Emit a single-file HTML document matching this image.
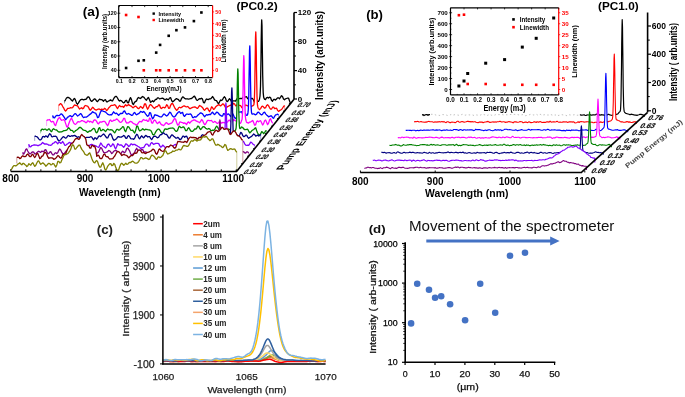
<!DOCTYPE html>
<html><head><meta charset="utf-8"><title>Figure</title>
<style>svg{will-change:transform;}html,body{margin:0;padding:0;background:#fff;width:685px;height:397px;overflow:hidden;position:relative;font-family:"Liberation Sans", sans-serif;}</style>
</head><body>
<svg width="685" height="397" viewBox="0 0 685 397" style="position:absolute;left:0;top:0">
<g font-family='"Liberation Sans", sans-serif'>
<rect width="685" height="397" fill="#fff"/>
<polygon points="64.5,103.4 64.5,101.3 65.5,99.8 66.5,98.0 67.5,97.4 68.5,97.5 69.5,98.1 70.5,98.9 71.5,100.3 72.5,101.1 73.5,99.3 74.5,98.4 75.5,100.1 76.5,103.1 77.5,104.2 78.5,102.9 79.5,101.1 80.5,99.8 81.5,99.3 82.5,99.4 83.5,99.9 84.5,99.5 85.5,99.3 86.5,98.8 87.5,97.1 88.5,96.8 89.5,97.9 90.5,100.2 91.5,101.3 92.5,100.8 93.5,99.7 94.5,98.8 95.5,99.4 96.5,100.9 97.5,101.6 98.5,100.4 99.5,99.2 100.5,99.7 101.5,99.7 102.5,100.2 103.5,101.2 104.5,100.0 105.5,99.7 106.5,101.8 107.5,101.8 108.5,101.0 109.5,100.6 110.5,99.9 111.5,100.6 112.5,101.0 113.5,99.0 114.5,97.3 115.5,96.5 116.5,96.5 117.5,98.0 118.5,100.0 119.5,101.0 120.5,100.4 121.5,100.8 122.5,101.9 123.5,102.8 124.5,102.4 125.5,100.7 126.5,100.3 127.5,102.7 128.5,102.8 129.5,99.6 130.5,97.6 131.5,99.6 132.5,103.7 133.5,104.5 134.5,102.3 135.5,101.6 136.5,100.9 137.5,98.4 138.5,97.4 139.5,98.2 140.5,98.5 141.5,97.5 142.5,96.5 143.5,97.0 144.5,98.0 145.5,99.5 146.5,100.2 147.5,98.2 148.5,97.4 149.5,99.7 150.5,102.3 151.5,101.7 152.5,100.8 153.5,101.7 154.5,100.7 155.5,99.5 156.5,99.4 157.5,97.9 158.5,97.9 159.5,98.9 160.5,98.7 161.5,98.3 162.5,98.1 163.5,98.5 164.5,99.9 165.5,99.8 166.5,98.8 167.5,99.4 168.5,99.8 169.5,98.0 170.5,97.6 171.5,100.1 172.5,101.9 173.5,101.2 174.5,100.3 175.5,99.3 176.5,98.6 177.5,99.2 178.5,99.7 179.5,101.1 180.5,101.0 181.5,98.6 182.5,97.0 183.5,97.2 184.5,98.2 185.5,98.9 186.5,98.9 187.5,98.8 188.5,99.1 189.5,98.9 190.5,98.6 191.5,98.5 192.5,97.8 193.5,96.6 194.5,96.1 195.5,97.9 196.5,100.0 197.5,100.4 198.5,99.4 199.5,98.7 200.5,98.9 201.5,98.2 202.5,99.1 203.5,102.6 204.5,102.8 205.5,100.3 206.5,99.0 207.5,99.3 208.5,99.5 209.5,98.9 210.5,98.9 211.5,98.1 212.5,96.5 213.5,97.8 214.5,99.9 215.5,100.4 216.5,100.6 217.5,102.3 218.5,103.9 219.5,102.0 220.5,100.0 221.5,100.5 222.5,99.7 223.5,97.7 224.5,96.8 225.5,98.2 226.5,101.1 227.5,101.5 228.5,100.1 229.5,98.7 230.5,99.7 231.5,101.8 232.5,101.2 233.5,100.9 234.5,100.9 235.5,101.1 236.5,99.6 237.5,98.2 238.5,98.7 239.5,98.7 240.5,98.3 241.5,98.7 242.5,98.2 243.5,96.8 244.5,96.8 245.5,97.0 246.5,96.7 247.5,98.4 248.5,99.1 249.5,99.3 250.5,99.0 251.5,98.4 252.5,98.5 253.5,100.0 254.5,102.4 255.5,102.5 256.5,100.9 257.5,101.1 257.7,101.1 258.0,101.2 258.2,101.3 258.5,101.4 258.7,101.0 259.0,100.5 259.2,100.0 259.5,99.2 259.7,98.0 260.0,96.1 260.2,92.7 260.5,86.3 260.7,75.2 261.0,59.1 261.2,40.7 261.5,25.5 261.7,19.8 262.0,25.6 262.2,40.7 262.5,59.1 262.7,75.2 263.0,86.3 263.2,92.6 263.5,95.8 263.7,97.3 264.0,98.1 264.2,98.7 264.5,99.2 264.7,99.4 265.0,99.4 265.2,99.5 265.5,99.6 265.7,99.2 266.5,97.9 267.5,97.3 268.5,98.1 269.5,97.2 270.5,97.6 271.5,100.3 272.5,101.3 273.5,99.5 274.5,99.4 275.5,100.0 276.5,99.1 277.5,97.8 278.5,97.8 279.5,98.7 280.5,97.3 281.5,95.7 282.5,96.6 283.5,99.0 284.5,99.8 285.5,98.8 286.5,98.5 287.5,98.2 288.5,98.1 289.5,100.8 290.5,103.5 290.5,103.4" fill="#fff" stroke="none"/>
<polyline points="64.5,101.3 65.5,99.8 66.5,98.0 67.5,97.4 68.5,97.5 69.5,98.1 70.5,98.9 71.5,100.3 72.5,101.1 73.5,99.3 74.5,98.4 75.5,100.1 76.5,103.1 77.5,104.2 78.5,102.9 79.5,101.1 80.5,99.8 81.5,99.3 82.5,99.4 83.5,99.9 84.5,99.5 85.5,99.3 86.5,98.8 87.5,97.1 88.5,96.8 89.5,97.9 90.5,100.2 91.5,101.3 92.5,100.8 93.5,99.7 94.5,98.8 95.5,99.4 96.5,100.9 97.5,101.6 98.5,100.4 99.5,99.2 100.5,99.7 101.5,99.7 102.5,100.2 103.5,101.2 104.5,100.0 105.5,99.7 106.5,101.8 107.5,101.8 108.5,101.0 109.5,100.6 110.5,99.9 111.5,100.6 112.5,101.0 113.5,99.0 114.5,97.3 115.5,96.5 116.5,96.5 117.5,98.0 118.5,100.0 119.5,101.0 120.5,100.4 121.5,100.8 122.5,101.9 123.5,102.8 124.5,102.4 125.5,100.7 126.5,100.3 127.5,102.7 128.5,102.8 129.5,99.6 130.5,97.6 131.5,99.6 132.5,103.7 133.5,104.5 134.5,102.3 135.5,101.6 136.5,100.9 137.5,98.4 138.5,97.4 139.5,98.2 140.5,98.5 141.5,97.5 142.5,96.5 143.5,97.0 144.5,98.0 145.5,99.5 146.5,100.2 147.5,98.2 148.5,97.4 149.5,99.7 150.5,102.3 151.5,101.7 152.5,100.8 153.5,101.7 154.5,100.7 155.5,99.5 156.5,99.4 157.5,97.9 158.5,97.9 159.5,98.9 160.5,98.7 161.5,98.3 162.5,98.1 163.5,98.5 164.5,99.9 165.5,99.8 166.5,98.8 167.5,99.4 168.5,99.8 169.5,98.0 170.5,97.6 171.5,100.1 172.5,101.9 173.5,101.2 174.5,100.3 175.5,99.3 176.5,98.6 177.5,99.2 178.5,99.7 179.5,101.1 180.5,101.0 181.5,98.6 182.5,97.0 183.5,97.2 184.5,98.2 185.5,98.9 186.5,98.9 187.5,98.8 188.5,99.1 189.5,98.9 190.5,98.6 191.5,98.5 192.5,97.8 193.5,96.6 194.5,96.1 195.5,97.9 196.5,100.0 197.5,100.4 198.5,99.4 199.5,98.7 200.5,98.9 201.5,98.2 202.5,99.1 203.5,102.6 204.5,102.8 205.5,100.3 206.5,99.0 207.5,99.3 208.5,99.5 209.5,98.9 210.5,98.9 211.5,98.1 212.5,96.5 213.5,97.8 214.5,99.9 215.5,100.4 216.5,100.6 217.5,102.3 218.5,103.9 219.5,102.0 220.5,100.0 221.5,100.5 222.5,99.7 223.5,97.7 224.5,96.8 225.5,98.2 226.5,101.1 227.5,101.5 228.5,100.1 229.5,98.7 230.5,99.7 231.5,101.8 232.5,101.2 233.5,100.9 234.5,100.9 235.5,101.1 236.5,99.6 237.5,98.2 238.5,98.7 239.5,98.7 240.5,98.3 241.5,98.7 242.5,98.2 243.5,96.8 244.5,96.8 245.5,97.0 246.5,96.7 247.5,98.4 248.5,99.1 249.5,99.3 250.5,99.0 251.5,98.4 252.5,98.5 253.5,100.0 254.5,102.4 255.5,102.5 256.5,100.9 257.5,101.1 257.7,101.1 258.0,101.2 258.2,101.3 258.5,101.4 258.7,101.0 259.0,100.5 259.2,100.0 259.5,99.2 259.7,98.0 260.0,96.1 260.2,92.7 260.5,86.3 260.7,75.2 261.0,59.1 261.2,40.7 261.5,25.5 261.7,19.8 262.0,25.6 262.2,40.7 262.5,59.1 262.7,75.2 263.0,86.3 263.2,92.6 263.5,95.8 263.7,97.3 264.0,98.1 264.2,98.7 264.5,99.2 264.7,99.4 265.0,99.4 265.2,99.5 265.5,99.6 265.7,99.2 266.5,97.9 267.5,97.3 268.5,98.1 269.5,97.2 270.5,97.6 271.5,100.3 272.5,101.3 273.5,99.5 274.5,99.4 275.5,100.0 276.5,99.1 277.5,97.8 278.5,97.8 279.5,98.7 280.5,97.3 281.5,95.7 282.5,96.6 283.5,99.0 284.5,99.8 285.5,98.8 286.5,98.5 287.5,98.2 288.5,98.1 289.5,100.8 290.5,103.5" fill="none" stroke="#000000" stroke-width="1.3" stroke-linejoin="round"/>
<path d="M64.5,103.4V101.3M290.5,103.4V103.5" stroke="#000000" stroke-width="0.7" stroke-opacity="0.55" fill="none"/>
<polygon points="58.6,110.9 58.6,105.4 59.6,104.5 60.6,103.6 61.6,104.4 62.6,106.3 63.6,107.8 64.6,110.0 65.6,111.0 66.6,110.0 67.6,108.3 68.6,108.3 69.6,108.1 70.6,107.7 71.6,107.8 72.6,107.6 73.6,106.1 74.6,104.8 75.6,105.4 76.6,105.6 77.6,105.9 78.6,107.6 79.6,109.0 80.6,108.3 81.6,107.7 82.6,108.8 83.6,108.1 84.6,106.0 85.6,105.5 86.6,105.9 87.6,106.2 88.6,107.5 89.6,109.6 90.6,110.2 91.6,108.7 92.6,107.3 93.6,108.1 94.6,109.3 95.6,109.9 96.6,110.0 97.6,109.3 98.6,109.0 99.6,109.2 100.6,109.9 101.6,109.1 102.6,109.3 103.6,109.5 104.6,108.3 105.6,109.0 106.6,110.6 107.6,109.7 108.6,108.0 109.6,107.0 110.6,105.9 111.6,105.3 112.6,105.4 113.6,105.2 114.6,104.7 115.6,105.4 116.6,107.3 117.6,108.5 118.6,106.6 119.6,105.5 120.6,106.6 121.6,106.7 122.6,106.3 123.6,107.4 124.6,106.0 125.6,104.7 126.6,105.9 127.6,105.4 128.6,104.5 129.6,105.4 130.6,105.8 131.6,106.3 132.6,107.6 133.6,107.5 134.6,106.4 135.6,106.1 136.6,106.9 137.6,108.1 138.6,108.7 139.6,107.7 140.6,106.5 141.6,107.2 142.6,108.3 143.6,106.8 144.6,103.8 145.6,104.0 146.6,107.0 147.6,109.2 148.6,107.6 149.6,105.3 150.6,104.5 151.6,105.4 152.6,106.6 153.6,107.8 154.6,108.4 155.6,107.1 156.6,106.6 157.6,106.5 158.6,104.9 159.6,105.2 160.6,107.9 161.6,108.5 162.6,107.4 163.6,107.3 164.6,107.9 165.6,107.0 166.6,104.8 167.6,105.6 168.6,108.4 169.6,108.2 170.6,105.3 171.6,103.6 172.6,103.6 173.6,105.4 174.6,107.6 175.6,109.0 176.6,110.3 177.6,109.6 178.6,107.8 179.6,107.2 180.6,107.8 181.6,107.4 182.6,106.5 183.6,106.0 184.6,106.0 185.6,106.6 186.6,106.8 187.6,106.5 188.6,107.3 189.6,108.5 190.6,108.5 191.6,107.8 192.6,107.3 193.6,107.1 194.6,107.0 195.6,107.2 196.6,108.1 197.6,108.4 198.6,106.8 199.6,105.5 200.6,106.0 201.6,106.8 202.6,107.7 203.6,109.4 204.6,110.2 205.6,109.1 206.6,108.2 207.6,108.1 208.6,110.1 209.6,111.6 210.6,109.4 211.6,106.8 212.6,107.8 213.6,109.4 214.6,108.7 215.6,106.9 216.6,106.0 217.6,105.4 218.6,104.7 219.6,105.2 220.6,105.9 221.6,105.1 222.6,104.0 223.6,104.2 224.6,105.8 225.6,107.7 226.6,107.5 227.6,106.6 228.6,106.2 229.6,105.5 230.6,105.1 231.6,105.3 232.6,104.8 233.6,103.3 234.6,104.0 235.6,105.8 236.6,105.3 237.6,104.1 238.6,105.0 239.6,105.3 240.6,105.6 241.6,107.2 242.6,108.3 243.6,107.4 244.6,105.9 245.6,105.0 246.6,105.3 247.6,105.8 248.6,105.6 249.6,105.6 250.6,106.1 251.6,106.3 251.8,106.2 252.0,106.1 252.3,105.9 252.5,105.8 252.8,105.7 253.0,105.6 253.3,105.4 253.5,105.2 253.8,104.9 254.0,104.0 254.3,101.4 254.5,95.7 254.8,85.3 255.0,70.0 255.3,52.3 255.5,37.7 255.8,31.9 256.0,37.7 256.3,52.4 256.5,70.0 256.8,85.5 257.0,96.1 257.3,102.1 257.5,105.2 257.8,106.7 258.0,107.5 258.3,108.2 258.5,108.6 258.8,108.9 259.0,109.1 259.3,109.3 259.5,109.6 259.8,109.4 260.6,108.6 261.6,106.7 262.6,106.2 263.6,107.1 264.6,108.2 265.6,107.7 266.6,105.5 267.6,104.8 268.6,105.9 269.6,107.8 270.6,109.1 271.6,109.0 272.6,107.2 273.6,107.1 274.6,108.7 275.6,108.3 276.6,108.2 277.6,110.4 278.6,111.4 279.6,110.6 280.6,110.0 281.6,109.5 282.6,108.0 283.6,106.5 284.6,105.6 284.6,110.9" fill="#fff" stroke="none"/>
<polyline points="58.6,105.4 59.6,104.5 60.6,103.6 61.6,104.4 62.6,106.3 63.6,107.8 64.6,110.0 65.6,111.0 66.6,110.0 67.6,108.3 68.6,108.3 69.6,108.1 70.6,107.7 71.6,107.8 72.6,107.6 73.6,106.1 74.6,104.8 75.6,105.4 76.6,105.6 77.6,105.9 78.6,107.6 79.6,109.0 80.6,108.3 81.6,107.7 82.6,108.8 83.6,108.1 84.6,106.0 85.6,105.5 86.6,105.9 87.6,106.2 88.6,107.5 89.6,109.6 90.6,110.2 91.6,108.7 92.6,107.3 93.6,108.1 94.6,109.3 95.6,109.9 96.6,110.0 97.6,109.3 98.6,109.0 99.6,109.2 100.6,109.9 101.6,109.1 102.6,109.3 103.6,109.5 104.6,108.3 105.6,109.0 106.6,110.6 107.6,109.7 108.6,108.0 109.6,107.0 110.6,105.9 111.6,105.3 112.6,105.4 113.6,105.2 114.6,104.7 115.6,105.4 116.6,107.3 117.6,108.5 118.6,106.6 119.6,105.5 120.6,106.6 121.6,106.7 122.6,106.3 123.6,107.4 124.6,106.0 125.6,104.7 126.6,105.9 127.6,105.4 128.6,104.5 129.6,105.4 130.6,105.8 131.6,106.3 132.6,107.6 133.6,107.5 134.6,106.4 135.6,106.1 136.6,106.9 137.6,108.1 138.6,108.7 139.6,107.7 140.6,106.5 141.6,107.2 142.6,108.3 143.6,106.8 144.6,103.8 145.6,104.0 146.6,107.0 147.6,109.2 148.6,107.6 149.6,105.3 150.6,104.5 151.6,105.4 152.6,106.6 153.6,107.8 154.6,108.4 155.6,107.1 156.6,106.6 157.6,106.5 158.6,104.9 159.6,105.2 160.6,107.9 161.6,108.5 162.6,107.4 163.6,107.3 164.6,107.9 165.6,107.0 166.6,104.8 167.6,105.6 168.6,108.4 169.6,108.2 170.6,105.3 171.6,103.6 172.6,103.6 173.6,105.4 174.6,107.6 175.6,109.0 176.6,110.3 177.6,109.6 178.6,107.8 179.6,107.2 180.6,107.8 181.6,107.4 182.6,106.5 183.6,106.0 184.6,106.0 185.6,106.6 186.6,106.8 187.6,106.5 188.6,107.3 189.6,108.5 190.6,108.5 191.6,107.8 192.6,107.3 193.6,107.1 194.6,107.0 195.6,107.2 196.6,108.1 197.6,108.4 198.6,106.8 199.6,105.5 200.6,106.0 201.6,106.8 202.6,107.7 203.6,109.4 204.6,110.2 205.6,109.1 206.6,108.2 207.6,108.1 208.6,110.1 209.6,111.6 210.6,109.4 211.6,106.8 212.6,107.8 213.6,109.4 214.6,108.7 215.6,106.9 216.6,106.0 217.6,105.4 218.6,104.7 219.6,105.2 220.6,105.9 221.6,105.1 222.6,104.0 223.6,104.2 224.6,105.8 225.6,107.7 226.6,107.5 227.6,106.6 228.6,106.2 229.6,105.5 230.6,105.1 231.6,105.3 232.6,104.8 233.6,103.3 234.6,104.0 235.6,105.8 236.6,105.3 237.6,104.1 238.6,105.0 239.6,105.3 240.6,105.6 241.6,107.2 242.6,108.3 243.6,107.4 244.6,105.9 245.6,105.0 246.6,105.3 247.6,105.8 248.6,105.6 249.6,105.6 250.6,106.1 251.6,106.3 251.8,106.2 252.0,106.1 252.3,105.9 252.5,105.8 252.8,105.7 253.0,105.6 253.3,105.4 253.5,105.2 253.8,104.9 254.0,104.0 254.3,101.4 254.5,95.7 254.8,85.3 255.0,70.0 255.3,52.3 255.5,37.7 255.8,31.9 256.0,37.7 256.3,52.4 256.5,70.0 256.8,85.5 257.0,96.1 257.3,102.1 257.5,105.2 257.8,106.7 258.0,107.5 258.3,108.2 258.5,108.6 258.8,108.9 259.0,109.1 259.3,109.3 259.5,109.6 259.8,109.4 260.6,108.6 261.6,106.7 262.6,106.2 263.6,107.1 264.6,108.2 265.6,107.7 266.6,105.5 267.6,104.8 268.6,105.9 269.6,107.8 270.6,109.1 271.6,109.0 272.6,107.2 273.6,107.1 274.6,108.7 275.6,108.3 276.6,108.2 277.6,110.4 278.6,111.4 279.6,110.6 280.6,110.0 281.6,109.5 282.6,108.0 283.6,106.5 284.6,105.6" fill="none" stroke="#ff0000" stroke-width="1.3" stroke-linejoin="round"/>
<path d="M58.6,110.9V105.4M284.6,110.9V105.6" stroke="#ff0000" stroke-width="0.7" stroke-opacity="0.55" fill="none"/>
<polygon points="52.6,118.4 52.6,115.5 53.6,117.6 54.6,117.8 55.6,116.2 56.6,115.5 57.6,115.5 58.6,115.6 59.6,115.3 60.6,114.1 61.6,113.9 62.6,115.0 63.6,116.3 64.6,117.9 65.6,119.7 66.6,118.6 67.6,117.1 68.6,116.8 69.6,115.8 70.6,115.7 71.6,116.8 72.6,116.3 73.6,115.1 74.6,113.9 75.6,113.7 76.6,114.9 77.6,116.0 78.6,115.5 79.6,114.4 80.6,113.6 81.6,114.5 82.6,116.6 83.6,117.6 84.6,117.2 85.6,117.2 86.6,117.1 87.6,116.3 88.6,115.5 89.6,114.6 90.6,113.9 91.6,113.0 92.6,111.7 93.6,112.4 94.6,112.8 95.6,113.1 96.6,114.9 97.6,117.7 98.6,117.2 99.6,114.5 100.6,111.8 101.6,110.4 102.6,111.0 103.6,111.4 104.6,111.6 105.6,112.1 106.6,113.1 107.6,114.1 108.6,114.7 109.6,115.0 110.6,114.6 111.6,114.8 112.6,113.3 113.6,111.8 114.6,113.0 115.6,113.6 116.6,113.1 117.6,114.3 118.6,115.3 119.6,114.4 120.6,113.3 121.6,113.5 122.6,113.4 123.6,111.3 124.6,110.9 125.6,112.9 126.6,114.2 127.6,114.0 128.6,113.5 129.6,114.1 130.6,114.6 131.6,115.4 132.6,115.2 133.6,113.2 134.6,112.4 135.6,113.9 136.6,114.8 137.6,114.1 138.6,113.7 139.6,112.8 140.6,111.4 141.6,111.8 142.6,112.4 143.6,111.5 144.6,112.3 145.6,113.8 146.6,115.2 147.6,116.3 148.6,115.7 149.6,112.7 150.6,112.8 151.6,116.5 152.6,118.8 153.6,117.5 154.6,115.0 155.6,114.8 156.6,115.3 157.6,115.5 158.6,116.1 159.6,116.6 160.6,116.8 161.6,116.9 162.6,115.7 163.6,114.2 164.6,114.1 165.6,115.3 166.6,116.0 167.6,115.4 168.6,114.0 169.6,112.2 170.6,112.6 171.6,114.5 172.6,116.1 173.6,116.9 174.6,116.9 175.6,115.8 176.6,114.2 177.6,113.0 178.6,111.8 179.6,111.7 180.6,113.5 181.6,112.9 182.6,112.4 183.6,115.5 184.6,116.4 185.6,115.0 186.6,114.1 187.6,114.1 188.6,114.4 189.6,114.2 190.6,114.0 191.6,115.2 192.6,117.5 193.6,117.6 194.6,116.7 195.6,117.1 196.6,116.6 197.6,115.3 198.6,114.6 199.6,113.6 200.6,112.9 201.6,113.2 202.6,113.9 203.6,115.5 204.6,116.7 205.6,115.6 206.6,114.7 207.6,115.1 208.6,114.7 209.6,114.4 210.6,114.5 211.6,112.9 212.6,112.1 213.6,113.8 214.6,114.5 215.6,113.5 216.6,112.2 217.6,112.4 218.6,113.5 219.6,114.9 220.6,115.4 221.6,116.1 222.6,116.0 223.6,113.6 224.6,113.8 225.6,115.7 226.6,115.0 227.6,114.1 228.6,114.0 229.6,115.1 230.6,116.4 231.6,115.0 232.6,113.6 233.6,115.4 234.6,117.7 235.6,118.5 236.6,117.2 237.6,114.0 238.6,111.8 239.6,112.1 240.6,112.0 241.6,111.7 242.6,114.0 243.6,115.1 244.6,114.0 245.6,113.9 245.8,114.2 246.0,114.6 246.3,114.9 246.5,115.3 246.8,115.3 247.0,115.2 247.3,115.1 247.5,114.7 247.8,113.8 248.0,112.4 248.3,109.5 248.5,104.0 248.8,94.4 249.0,80.5 249.3,64.4 249.5,51.0 249.8,45.8 250.0,51.1 250.3,64.5 250.5,80.8 250.8,94.9 251.0,104.5 251.3,109.9 251.5,112.5 251.8,113.5 252.0,113.9 252.3,114.1 252.5,114.0 252.8,114.0 253.0,113.9 253.3,113.9 253.5,113.8 253.8,113.9 254.6,114.3 255.6,114.8 256.6,114.1 257.6,112.4 258.6,112.1 259.6,113.3 260.6,114.2 261.6,114.9 262.6,114.2 263.6,112.5 264.6,112.2 265.6,113.9 266.6,114.9 267.6,115.8 268.6,116.8 269.6,116.4 270.6,115.8 271.6,116.0 272.6,117.7 273.6,118.3 274.6,116.3 275.6,114.9 276.6,114.6 277.6,114.2 278.6,114.9 278.6,118.4" fill="#fff" stroke="none"/>
<polyline points="52.6,115.5 53.6,117.6 54.6,117.8 55.6,116.2 56.6,115.5 57.6,115.5 58.6,115.6 59.6,115.3 60.6,114.1 61.6,113.9 62.6,115.0 63.6,116.3 64.6,117.9 65.6,119.7 66.6,118.6 67.6,117.1 68.6,116.8 69.6,115.8 70.6,115.7 71.6,116.8 72.6,116.3 73.6,115.1 74.6,113.9 75.6,113.7 76.6,114.9 77.6,116.0 78.6,115.5 79.6,114.4 80.6,113.6 81.6,114.5 82.6,116.6 83.6,117.6 84.6,117.2 85.6,117.2 86.6,117.1 87.6,116.3 88.6,115.5 89.6,114.6 90.6,113.9 91.6,113.0 92.6,111.7 93.6,112.4 94.6,112.8 95.6,113.1 96.6,114.9 97.6,117.7 98.6,117.2 99.6,114.5 100.6,111.8 101.6,110.4 102.6,111.0 103.6,111.4 104.6,111.6 105.6,112.1 106.6,113.1 107.6,114.1 108.6,114.7 109.6,115.0 110.6,114.6 111.6,114.8 112.6,113.3 113.6,111.8 114.6,113.0 115.6,113.6 116.6,113.1 117.6,114.3 118.6,115.3 119.6,114.4 120.6,113.3 121.6,113.5 122.6,113.4 123.6,111.3 124.6,110.9 125.6,112.9 126.6,114.2 127.6,114.0 128.6,113.5 129.6,114.1 130.6,114.6 131.6,115.4 132.6,115.2 133.6,113.2 134.6,112.4 135.6,113.9 136.6,114.8 137.6,114.1 138.6,113.7 139.6,112.8 140.6,111.4 141.6,111.8 142.6,112.4 143.6,111.5 144.6,112.3 145.6,113.8 146.6,115.2 147.6,116.3 148.6,115.7 149.6,112.7 150.6,112.8 151.6,116.5 152.6,118.8 153.6,117.5 154.6,115.0 155.6,114.8 156.6,115.3 157.6,115.5 158.6,116.1 159.6,116.6 160.6,116.8 161.6,116.9 162.6,115.7 163.6,114.2 164.6,114.1 165.6,115.3 166.6,116.0 167.6,115.4 168.6,114.0 169.6,112.2 170.6,112.6 171.6,114.5 172.6,116.1 173.6,116.9 174.6,116.9 175.6,115.8 176.6,114.2 177.6,113.0 178.6,111.8 179.6,111.7 180.6,113.5 181.6,112.9 182.6,112.4 183.6,115.5 184.6,116.4 185.6,115.0 186.6,114.1 187.6,114.1 188.6,114.4 189.6,114.2 190.6,114.0 191.6,115.2 192.6,117.5 193.6,117.6 194.6,116.7 195.6,117.1 196.6,116.6 197.6,115.3 198.6,114.6 199.6,113.6 200.6,112.9 201.6,113.2 202.6,113.9 203.6,115.5 204.6,116.7 205.6,115.6 206.6,114.7 207.6,115.1 208.6,114.7 209.6,114.4 210.6,114.5 211.6,112.9 212.6,112.1 213.6,113.8 214.6,114.5 215.6,113.5 216.6,112.2 217.6,112.4 218.6,113.5 219.6,114.9 220.6,115.4 221.6,116.1 222.6,116.0 223.6,113.6 224.6,113.8 225.6,115.7 226.6,115.0 227.6,114.1 228.6,114.0 229.6,115.1 230.6,116.4 231.6,115.0 232.6,113.6 233.6,115.4 234.6,117.7 235.6,118.5 236.6,117.2 237.6,114.0 238.6,111.8 239.6,112.1 240.6,112.0 241.6,111.7 242.6,114.0 243.6,115.1 244.6,114.0 245.6,113.9 245.8,114.2 246.0,114.6 246.3,114.9 246.5,115.3 246.8,115.3 247.0,115.2 247.3,115.1 247.5,114.7 247.8,113.8 248.0,112.4 248.3,109.5 248.5,104.0 248.8,94.4 249.0,80.5 249.3,64.4 249.5,51.0 249.8,45.8 250.0,51.1 250.3,64.5 250.5,80.8 250.8,94.9 251.0,104.5 251.3,109.9 251.5,112.5 251.8,113.5 252.0,113.9 252.3,114.1 252.5,114.0 252.8,114.0 253.0,113.9 253.3,113.9 253.5,113.8 253.8,113.9 254.6,114.3 255.6,114.8 256.6,114.1 257.6,112.4 258.6,112.1 259.6,113.3 260.6,114.2 261.6,114.9 262.6,114.2 263.6,112.5 264.6,112.2 265.6,113.9 266.6,114.9 267.6,115.8 268.6,116.8 269.6,116.4 270.6,115.8 271.6,116.0 272.6,117.7 273.6,118.3 274.6,116.3 275.6,114.9 276.6,114.6 277.6,114.2 278.6,114.9" fill="none" stroke="#0000ff" stroke-width="1.3" stroke-linejoin="round"/>
<path d="M52.6,118.4V115.5M278.6,118.4V114.9" stroke="#0000ff" stroke-width="0.7" stroke-opacity="0.55" fill="none"/>
<polygon points="46.6,125.9 46.6,120.9 47.6,119.8 48.6,119.8 49.6,119.5 50.6,121.2 51.6,122.0 52.6,121.4 53.6,121.9 54.6,124.8 55.6,125.6 56.6,122.5 57.6,119.9 58.6,118.2 59.6,117.4 60.6,119.2 61.6,120.3 62.6,120.0 63.6,119.6 64.6,120.4 65.6,123.4 66.6,126.4 67.6,127.2 68.6,124.2 69.6,121.5 70.6,119.2 71.6,118.3 72.6,120.5 73.6,122.8 74.6,124.0 75.6,124.4 76.6,123.4 77.6,121.9 78.6,121.7 79.6,122.0 80.6,121.5 81.6,120.6 82.6,120.7 83.6,121.3 84.6,121.5 85.6,122.6 86.6,122.6 87.6,120.8 88.6,121.1 89.6,122.0 90.6,121.3 91.6,122.0 92.6,122.6 93.6,120.6 94.6,119.8 95.6,120.2 96.6,121.4 97.6,123.3 98.6,123.8 99.6,122.1 100.6,121.8 101.6,122.1 102.6,121.7 103.6,121.3 104.6,121.4 105.6,122.5 106.6,124.4 107.6,125.7 108.6,123.9 109.6,120.8 110.6,120.0 111.6,121.3 112.6,121.2 113.6,120.1 114.6,120.4 115.6,119.7 116.6,118.9 117.6,119.6 118.6,120.6 119.6,122.0 120.6,122.3 121.6,121.9 122.6,120.7 123.6,118.5 124.6,118.3 125.6,121.4 126.6,123.0 127.6,122.9 128.6,122.9 129.6,121.8 130.6,121.3 131.6,121.8 132.6,122.8 133.6,123.7 134.6,123.8 135.6,124.8 136.6,125.0 137.6,124.1 138.6,122.7 139.6,121.3 140.6,121.6 141.6,121.9 142.6,120.3 143.6,119.4 144.6,120.2 145.6,120.3 146.6,120.0 147.6,121.4 148.6,121.2 149.6,118.0 150.6,118.7 151.6,122.8 152.6,123.1 153.6,121.0 154.6,119.9 155.6,120.7 156.6,122.7 157.6,123.6 158.6,122.3 159.6,121.8 160.6,123.8 161.6,124.8 162.6,125.0 163.6,125.6 164.6,124.6 165.6,123.1 166.6,122.7 167.6,123.8 168.6,124.4 169.6,123.8 170.6,123.3 171.6,123.2 172.6,121.9 173.6,119.9 174.6,118.5 175.6,119.3 176.6,122.5 177.6,125.0 178.6,124.9 179.6,122.2 180.6,122.0 181.6,122.4 182.6,122.6 183.6,123.4 184.6,122.9 185.6,123.6 186.6,124.5 187.6,122.6 188.6,121.9 189.6,123.2 190.6,122.1 191.6,121.0 192.6,120.6 193.6,120.0 194.6,119.8 195.6,120.6 196.6,121.1 197.6,121.6 198.6,122.0 199.6,122.7 200.6,121.4 201.6,119.5 202.6,120.4 203.6,122.9 204.6,124.6 205.6,124.1 206.6,121.9 207.6,120.3 208.6,120.3 209.6,120.7 210.6,120.6 211.6,120.5 212.6,122.0 213.6,122.4 214.6,121.4 215.6,121.8 216.6,123.0 217.6,123.4 218.6,122.5 219.6,121.5 220.6,122.2 221.6,123.2 222.6,122.5 223.6,122.5 224.6,122.9 225.6,122.2 226.6,122.3 227.6,121.9 228.6,120.3 229.6,120.1 230.6,121.7 231.6,122.3 232.6,121.3 233.6,119.7 234.6,120.2 235.6,120.9 236.6,121.1 237.6,119.7 238.6,120.2 239.6,123.6 239.8,123.5 240.1,123.4 240.3,123.3 240.6,123.1 240.8,122.6 241.1,122.0 241.3,121.3 241.6,120.6 241.8,120.0 242.1,119.0 242.3,116.6 242.6,111.5 242.8,102.3 243.1,88.8 243.3,73.4 243.6,60.6 243.8,55.7 244.1,60.5 244.3,73.1 244.6,88.2 244.8,101.5 245.1,110.7 245.3,115.9 245.6,118.5 245.8,119.8 246.1,120.7 246.3,121.5 246.6,122.2 246.8,122.4 247.1,122.6 247.3,122.7 247.6,122.7 247.8,122.8 248.6,123.0 249.6,122.1 250.6,122.0 251.6,121.2 252.6,120.4 253.6,122.4 254.6,125.2 255.6,124.8 256.6,121.6 257.6,120.9 258.6,121.8 259.6,121.0 260.6,120.7 261.6,122.7 262.6,125.0 263.6,123.6 264.6,120.7 265.6,120.0 266.6,122.2 267.6,124.7 268.6,123.1 269.6,119.7 270.6,118.8 271.6,121.6 272.6,122.9 272.6,125.9" fill="#fff" stroke="none"/>
<polyline points="46.6,120.9 47.6,119.8 48.6,119.8 49.6,119.5 50.6,121.2 51.6,122.0 52.6,121.4 53.6,121.9 54.6,124.8 55.6,125.6 56.6,122.5 57.6,119.9 58.6,118.2 59.6,117.4 60.6,119.2 61.6,120.3 62.6,120.0 63.6,119.6 64.6,120.4 65.6,123.4 66.6,126.4 67.6,127.2 68.6,124.2 69.6,121.5 70.6,119.2 71.6,118.3 72.6,120.5 73.6,122.8 74.6,124.0 75.6,124.4 76.6,123.4 77.6,121.9 78.6,121.7 79.6,122.0 80.6,121.5 81.6,120.6 82.6,120.7 83.6,121.3 84.6,121.5 85.6,122.6 86.6,122.6 87.6,120.8 88.6,121.1 89.6,122.0 90.6,121.3 91.6,122.0 92.6,122.6 93.6,120.6 94.6,119.8 95.6,120.2 96.6,121.4 97.6,123.3 98.6,123.8 99.6,122.1 100.6,121.8 101.6,122.1 102.6,121.7 103.6,121.3 104.6,121.4 105.6,122.5 106.6,124.4 107.6,125.7 108.6,123.9 109.6,120.8 110.6,120.0 111.6,121.3 112.6,121.2 113.6,120.1 114.6,120.4 115.6,119.7 116.6,118.9 117.6,119.6 118.6,120.6 119.6,122.0 120.6,122.3 121.6,121.9 122.6,120.7 123.6,118.5 124.6,118.3 125.6,121.4 126.6,123.0 127.6,122.9 128.6,122.9 129.6,121.8 130.6,121.3 131.6,121.8 132.6,122.8 133.6,123.7 134.6,123.8 135.6,124.8 136.6,125.0 137.6,124.1 138.6,122.7 139.6,121.3 140.6,121.6 141.6,121.9 142.6,120.3 143.6,119.4 144.6,120.2 145.6,120.3 146.6,120.0 147.6,121.4 148.6,121.2 149.6,118.0 150.6,118.7 151.6,122.8 152.6,123.1 153.6,121.0 154.6,119.9 155.6,120.7 156.6,122.7 157.6,123.6 158.6,122.3 159.6,121.8 160.6,123.8 161.6,124.8 162.6,125.0 163.6,125.6 164.6,124.6 165.6,123.1 166.6,122.7 167.6,123.8 168.6,124.4 169.6,123.8 170.6,123.3 171.6,123.2 172.6,121.9 173.6,119.9 174.6,118.5 175.6,119.3 176.6,122.5 177.6,125.0 178.6,124.9 179.6,122.2 180.6,122.0 181.6,122.4 182.6,122.6 183.6,123.4 184.6,122.9 185.6,123.6 186.6,124.5 187.6,122.6 188.6,121.9 189.6,123.2 190.6,122.1 191.6,121.0 192.6,120.6 193.6,120.0 194.6,119.8 195.6,120.6 196.6,121.1 197.6,121.6 198.6,122.0 199.6,122.7 200.6,121.4 201.6,119.5 202.6,120.4 203.6,122.9 204.6,124.6 205.6,124.1 206.6,121.9 207.6,120.3 208.6,120.3 209.6,120.7 210.6,120.6 211.6,120.5 212.6,122.0 213.6,122.4 214.6,121.4 215.6,121.8 216.6,123.0 217.6,123.4 218.6,122.5 219.6,121.5 220.6,122.2 221.6,123.2 222.6,122.5 223.6,122.5 224.6,122.9 225.6,122.2 226.6,122.3 227.6,121.9 228.6,120.3 229.6,120.1 230.6,121.7 231.6,122.3 232.6,121.3 233.6,119.7 234.6,120.2 235.6,120.9 236.6,121.1 237.6,119.7 238.6,120.2 239.6,123.6 239.8,123.5 240.1,123.4 240.3,123.3 240.6,123.1 240.8,122.6 241.1,122.0 241.3,121.3 241.6,120.6 241.8,120.0 242.1,119.0 242.3,116.6 242.6,111.5 242.8,102.3 243.1,88.8 243.3,73.4 243.6,60.6 243.8,55.7 244.1,60.5 244.3,73.1 244.6,88.2 244.8,101.5 245.1,110.7 245.3,115.9 245.6,118.5 245.8,119.8 246.1,120.7 246.3,121.5 246.6,122.2 246.8,122.4 247.1,122.6 247.3,122.7 247.6,122.7 247.8,122.8 248.6,123.0 249.6,122.1 250.6,122.0 251.6,121.2 252.6,120.4 253.6,122.4 254.6,125.2 255.6,124.8 256.6,121.6 257.6,120.9 258.6,121.8 259.6,121.0 260.6,120.7 261.6,122.7 262.6,125.0 263.6,123.6 264.6,120.7 265.6,120.0 266.6,122.2 267.6,124.7 268.6,123.1 269.6,119.7 270.6,118.8 271.6,121.6 272.6,122.9" fill="none" stroke="#ff00ff" stroke-width="1.3" stroke-linejoin="round"/>
<path d="M46.6,125.9V120.9M272.6,125.9V122.9" stroke="#ff00ff" stroke-width="0.7" stroke-opacity="0.55" fill="none"/>
<polygon points="40.6,133.4 40.6,131.4 41.6,129.4 42.6,129.1 43.6,129.8 44.6,129.2 45.6,129.1 46.6,130.2 47.6,130.0 48.6,128.9 49.6,129.2 50.6,131.0 51.6,131.6 52.6,129.5 53.6,128.7 54.6,129.5 55.6,129.9 56.6,130.0 57.6,131.0 58.6,131.9 59.6,132.0 60.6,131.8 61.6,131.8 62.6,131.4 63.6,130.7 64.7,130.7 65.7,130.4 66.7,130.2 67.7,128.9 68.7,127.8 69.7,128.9 70.7,130.3 71.7,130.3 72.7,130.9 73.7,132.3 74.7,131.7 75.7,130.5 76.7,130.1 77.7,129.3 78.7,128.1 79.7,127.4 80.7,127.5 81.7,128.4 82.7,129.6 83.7,130.1 84.7,130.4 85.7,130.7 86.7,131.5 87.7,132.4 88.7,131.6 89.7,130.9 90.7,131.0 91.7,130.1 92.7,129.0 93.7,128.4 94.7,129.0 95.7,131.9 96.7,132.8 97.7,131.5 98.7,128.2 99.7,127.6 100.7,130.7 101.7,130.7 102.7,129.4 103.7,129.6 104.7,130.7 105.7,131.5 106.7,129.9 107.7,129.0 108.7,129.6 109.7,130.0 110.7,129.6 111.7,129.9 112.7,130.4 113.7,131.9 114.7,132.9 115.7,131.2 116.7,129.3 117.7,129.3 118.7,130.2 119.7,129.8 120.7,128.7 121.7,127.9 122.7,126.6 123.7,127.1 124.7,130.5 125.7,131.7 126.7,128.9 127.7,126.6 128.7,126.8 129.7,128.3 130.7,130.2 131.7,130.4 132.7,130.1 133.7,131.8 134.7,133.0 135.7,130.3 136.7,126.2 137.7,126.1 138.7,129.3 139.7,130.8 140.7,130.4 141.7,129.7 142.7,128.7 143.7,129.6 144.7,130.1 145.7,129.2 146.7,129.5 147.7,129.7 148.7,129.8 149.7,130.0 150.7,130.3 151.7,132.1 152.7,134.4 153.7,135.0 154.7,133.8 155.7,131.9 156.7,130.4 157.7,129.3 158.7,129.0 159.7,129.8 160.7,131.4 161.7,132.8 162.7,133.1 163.7,131.2 164.7,129.1 165.7,128.8 166.7,129.4 167.7,129.2 168.7,128.5 169.7,128.4 170.7,128.1 171.7,128.1 172.7,128.0 173.7,128.3 174.7,129.8 175.7,131.1 176.7,131.4 177.7,130.0 178.7,127.1 179.7,126.3 180.7,127.6 181.7,127.7 182.7,127.0 183.7,127.0 184.7,128.4 185.7,130.7 186.7,130.7 187.7,128.7 188.7,127.7 189.7,129.1 190.7,130.9 191.7,131.4 192.7,131.4 193.7,130.3 194.7,128.9 195.7,129.2 196.7,128.2 197.7,126.1 198.7,126.4 199.7,128.5 200.7,129.5 201.7,128.3 202.7,126.8 203.7,126.7 204.7,127.2 205.7,128.2 206.7,128.9 207.7,129.1 208.7,128.5 209.7,128.8 210.7,130.5 211.7,130.6 212.7,130.1 213.7,130.4 214.7,129.6 215.7,127.4 216.7,126.1 217.7,127.3 218.7,129.4 219.7,129.9 220.7,128.3 221.7,128.6 222.7,130.3 223.7,131.3 224.7,131.4 225.7,131.2 226.7,130.1 227.7,129.1 228.7,129.2 229.7,129.7 230.7,129.6 231.7,129.1 232.7,130.7 233.7,132.0 233.8,131.8 234.1,131.6 234.3,131.3 234.6,131.1 234.8,130.9 235.1,130.7 235.3,130.4 235.6,130.0 235.8,129.3 236.1,128.2 236.3,125.8 236.6,121.0 236.8,112.3 237.1,99.8 237.3,85.5 237.6,73.6 237.8,68.9 238.1,73.6 238.3,85.4 238.6,99.6 238.8,112.0 239.1,120.4 239.3,125.2 239.6,127.6 239.8,128.4 240.1,128.6 240.3,128.5 240.6,128.3 240.8,128.0 241.1,127.7 241.3,127.3 241.6,127.0 241.8,127.0 242.7,127.5 243.7,128.9 244.7,129.6 245.7,129.7 246.7,129.3 247.7,129.2 248.7,131.1 249.7,132.9 250.7,132.1 251.7,130.8 252.7,130.0 253.7,129.7 254.7,128.4 255.7,127.8 256.6,130.5 257.6,133.0 258.6,134.5 259.6,135.3 260.6,133.9 261.6,131.7 262.6,132.1 263.6,133.6 264.6,132.7 265.6,130.9 266.6,130.7 266.6,133.4" fill="#fff" stroke="none"/>
<polyline points="40.6,131.4 41.6,129.4 42.6,129.1 43.6,129.8 44.6,129.2 45.6,129.1 46.6,130.2 47.6,130.0 48.6,128.9 49.6,129.2 50.6,131.0 51.6,131.6 52.6,129.5 53.6,128.7 54.6,129.5 55.6,129.9 56.6,130.0 57.6,131.0 58.6,131.9 59.6,132.0 60.6,131.8 61.6,131.8 62.6,131.4 63.6,130.7 64.7,130.7 65.7,130.4 66.7,130.2 67.7,128.9 68.7,127.8 69.7,128.9 70.7,130.3 71.7,130.3 72.7,130.9 73.7,132.3 74.7,131.7 75.7,130.5 76.7,130.1 77.7,129.3 78.7,128.1 79.7,127.4 80.7,127.5 81.7,128.4 82.7,129.6 83.7,130.1 84.7,130.4 85.7,130.7 86.7,131.5 87.7,132.4 88.7,131.6 89.7,130.9 90.7,131.0 91.7,130.1 92.7,129.0 93.7,128.4 94.7,129.0 95.7,131.9 96.7,132.8 97.7,131.5 98.7,128.2 99.7,127.6 100.7,130.7 101.7,130.7 102.7,129.4 103.7,129.6 104.7,130.7 105.7,131.5 106.7,129.9 107.7,129.0 108.7,129.6 109.7,130.0 110.7,129.6 111.7,129.9 112.7,130.4 113.7,131.9 114.7,132.9 115.7,131.2 116.7,129.3 117.7,129.3 118.7,130.2 119.7,129.8 120.7,128.7 121.7,127.9 122.7,126.6 123.7,127.1 124.7,130.5 125.7,131.7 126.7,128.9 127.7,126.6 128.7,126.8 129.7,128.3 130.7,130.2 131.7,130.4 132.7,130.1 133.7,131.8 134.7,133.0 135.7,130.3 136.7,126.2 137.7,126.1 138.7,129.3 139.7,130.8 140.7,130.4 141.7,129.7 142.7,128.7 143.7,129.6 144.7,130.1 145.7,129.2 146.7,129.5 147.7,129.7 148.7,129.8 149.7,130.0 150.7,130.3 151.7,132.1 152.7,134.4 153.7,135.0 154.7,133.8 155.7,131.9 156.7,130.4 157.7,129.3 158.7,129.0 159.7,129.8 160.7,131.4 161.7,132.8 162.7,133.1 163.7,131.2 164.7,129.1 165.7,128.8 166.7,129.4 167.7,129.2 168.7,128.5 169.7,128.4 170.7,128.1 171.7,128.1 172.7,128.0 173.7,128.3 174.7,129.8 175.7,131.1 176.7,131.4 177.7,130.0 178.7,127.1 179.7,126.3 180.7,127.6 181.7,127.7 182.7,127.0 183.7,127.0 184.7,128.4 185.7,130.7 186.7,130.7 187.7,128.7 188.7,127.7 189.7,129.1 190.7,130.9 191.7,131.4 192.7,131.4 193.7,130.3 194.7,128.9 195.7,129.2 196.7,128.2 197.7,126.1 198.7,126.4 199.7,128.5 200.7,129.5 201.7,128.3 202.7,126.8 203.7,126.7 204.7,127.2 205.7,128.2 206.7,128.9 207.7,129.1 208.7,128.5 209.7,128.8 210.7,130.5 211.7,130.6 212.7,130.1 213.7,130.4 214.7,129.6 215.7,127.4 216.7,126.1 217.7,127.3 218.7,129.4 219.7,129.9 220.7,128.3 221.7,128.6 222.7,130.3 223.7,131.3 224.7,131.4 225.7,131.2 226.7,130.1 227.7,129.1 228.7,129.2 229.7,129.7 230.7,129.6 231.7,129.1 232.7,130.7 233.7,132.0 233.8,131.8 234.1,131.6 234.3,131.3 234.6,131.1 234.8,130.9 235.1,130.7 235.3,130.4 235.6,130.0 235.8,129.3 236.1,128.2 236.3,125.8 236.6,121.0 236.8,112.3 237.1,99.8 237.3,85.5 237.6,73.6 237.8,68.9 238.1,73.6 238.3,85.4 238.6,99.6 238.8,112.0 239.1,120.4 239.3,125.2 239.6,127.6 239.8,128.4 240.1,128.6 240.3,128.5 240.6,128.3 240.8,128.0 241.1,127.7 241.3,127.3 241.6,127.0 241.8,127.0 242.7,127.5 243.7,128.9 244.7,129.6 245.7,129.7 246.7,129.3 247.7,129.2 248.7,131.1 249.7,132.9 250.7,132.1 251.7,130.8 252.7,130.0 253.7,129.7 254.7,128.4 255.7,127.8 256.6,130.5 257.6,133.0 258.6,134.5 259.6,135.3 260.6,133.9 261.6,131.7 262.6,132.1 263.6,133.6 264.6,132.7 265.6,130.9 266.6,130.7" fill="none" stroke="#008000" stroke-width="1.3" stroke-linejoin="round"/>
<path d="M40.6,133.4V131.4M266.6,133.4V130.7" stroke="#008000" stroke-width="0.7" stroke-opacity="0.55" fill="none"/>
<polygon points="34.7,140.9 34.7,135.9 35.7,136.4 36.7,136.6 37.7,137.4 38.7,138.9 39.7,139.9 40.7,139.9 41.7,138.8 42.7,136.6 43.7,136.5 44.7,137.1 45.7,135.8 46.7,136.3 47.7,137.3 48.7,135.2 49.7,133.7 50.7,134.5 51.7,136.7 52.7,136.8 53.7,136.2 54.7,136.3 55.7,136.2 56.7,137.0 57.7,139.5 58.7,140.9 59.7,140.6 60.7,139.6 61.7,138.3 62.7,137.1 63.7,136.7 64.7,137.5 65.7,138.2 66.7,137.5 67.7,135.8 68.7,135.5 69.7,136.4 70.7,136.3 71.7,135.7 72.7,136.2 73.7,135.7 74.7,135.4 75.7,136.1 76.7,136.8 77.7,137.3 78.7,136.7 79.7,137.4 80.7,138.6 81.7,138.0 82.7,137.2 83.7,136.6 84.7,137.3 85.7,137.6 86.7,137.3 87.7,137.3 88.7,137.4 89.7,137.3 90.7,136.7 91.7,137.0 92.7,138.7 93.7,139.8 94.7,137.9 95.7,138.0 96.7,139.2 97.7,137.9 98.7,136.1 99.7,136.0 100.7,136.6 101.7,135.6 102.7,134.6 103.7,134.0 104.7,135.2 105.7,136.5 106.7,137.8 107.7,137.9 108.7,135.7 109.7,134.1 110.7,133.8 111.7,135.5 112.7,138.4 113.7,140.2 114.7,140.0 115.7,139.3 116.7,138.4 117.7,136.9 118.7,136.6 119.7,137.1 120.7,137.2 121.7,137.0 122.7,136.3 123.7,135.5 124.7,136.1 125.7,138.2 126.7,138.4 127.7,136.3 128.7,135.6 129.7,136.8 130.7,138.7 131.7,138.9 132.7,138.8 133.7,139.4 134.7,138.2 135.7,135.8 136.7,134.3 137.7,135.1 138.7,137.9 139.7,138.9 140.7,137.0 141.7,135.8 142.7,137.0 143.7,137.9 144.7,136.5 145.7,135.4 146.7,136.1 147.7,137.0 148.7,136.6 149.7,136.7 150.7,138.6 151.7,139.6 152.7,137.9 153.7,136.5 154.7,136.2 155.7,136.4 156.7,137.4 157.7,137.8 158.7,137.1 159.7,135.5 160.7,134.6 161.7,134.5 162.7,133.2 163.7,133.0 164.7,134.0 165.7,134.3 166.7,134.5 167.7,136.2 168.7,137.9 169.7,138.1 170.7,136.3 171.7,134.8 172.7,135.2 173.7,136.2 174.7,137.1 175.7,138.0 176.7,138.2 177.7,137.3 178.7,138.1 179.7,139.5 180.7,139.5 181.7,138.2 182.7,136.2 183.7,136.2 184.7,137.2 185.7,136.3 186.7,136.2 187.7,138.4 188.7,140.1 189.7,139.8 190.7,138.6 191.7,137.9 192.7,139.0 193.7,140.1 194.7,139.5 195.7,138.8 196.7,138.2 197.7,139.0 198.7,139.6 199.7,139.2 200.7,137.6 201.7,135.3 202.7,134.7 203.7,135.6 204.7,137.4 205.7,139.4 206.7,139.5 207.7,139.2 208.7,138.7 209.7,138.0 210.7,138.6 211.7,139.7 212.7,140.6 213.7,140.1 214.7,137.1 215.7,135.4 216.7,137.0 217.7,140.1 218.7,141.1 219.7,138.2 220.7,135.5 221.7,135.0 222.7,134.3 223.7,133.7 224.7,134.6 225.7,135.7 226.7,135.4 227.7,136.2 227.9,136.6 228.1,137.1 228.4,137.6 228.6,138.0 228.9,138.2 229.1,138.3 229.4,138.4 229.6,138.2 229.9,137.6 230.1,136.5 230.4,134.5 230.6,130.5 230.9,123.3 231.1,113.1 231.4,101.4 231.6,91.7 231.9,87.9 232.1,91.7 232.4,101.2 232.6,112.7 232.9,122.9 233.1,130.0 233.4,134.1 233.6,136.4 233.9,137.4 234.1,137.9 234.4,138.3 234.6,138.5 234.9,138.0 235.1,137.4 235.4,136.8 235.6,136.2 235.9,135.8 236.7,134.8 237.7,135.5 238.7,136.6 239.7,134.7 240.7,132.4 241.7,133.0 242.7,135.5 243.7,136.7 244.7,136.3 245.7,135.2 246.7,135.2 247.7,137.1 248.7,138.3 249.7,137.5 250.7,136.9 251.7,136.2 252.7,135.1 253.7,134.0 254.7,134.7 255.7,136.2 256.7,135.7 257.7,135.0 258.7,136.0 259.7,135.7 260.7,134.4 260.7,140.9" fill="#fff" stroke="none"/>
<polyline points="34.7,135.9 35.7,136.4 36.7,136.6 37.7,137.4 38.7,138.9 39.7,139.9 40.7,139.9 41.7,138.8 42.7,136.6 43.7,136.5 44.7,137.1 45.7,135.8 46.7,136.3 47.7,137.3 48.7,135.2 49.7,133.7 50.7,134.5 51.7,136.7 52.7,136.8 53.7,136.2 54.7,136.3 55.7,136.2 56.7,137.0 57.7,139.5 58.7,140.9 59.7,140.6 60.7,139.6 61.7,138.3 62.7,137.1 63.7,136.7 64.7,137.5 65.7,138.2 66.7,137.5 67.7,135.8 68.7,135.5 69.7,136.4 70.7,136.3 71.7,135.7 72.7,136.2 73.7,135.7 74.7,135.4 75.7,136.1 76.7,136.8 77.7,137.3 78.7,136.7 79.7,137.4 80.7,138.6 81.7,138.0 82.7,137.2 83.7,136.6 84.7,137.3 85.7,137.6 86.7,137.3 87.7,137.3 88.7,137.4 89.7,137.3 90.7,136.7 91.7,137.0 92.7,138.7 93.7,139.8 94.7,137.9 95.7,138.0 96.7,139.2 97.7,137.9 98.7,136.1 99.7,136.0 100.7,136.6 101.7,135.6 102.7,134.6 103.7,134.0 104.7,135.2 105.7,136.5 106.7,137.8 107.7,137.9 108.7,135.7 109.7,134.1 110.7,133.8 111.7,135.5 112.7,138.4 113.7,140.2 114.7,140.0 115.7,139.3 116.7,138.4 117.7,136.9 118.7,136.6 119.7,137.1 120.7,137.2 121.7,137.0 122.7,136.3 123.7,135.5 124.7,136.1 125.7,138.2 126.7,138.4 127.7,136.3 128.7,135.6 129.7,136.8 130.7,138.7 131.7,138.9 132.7,138.8 133.7,139.4 134.7,138.2 135.7,135.8 136.7,134.3 137.7,135.1 138.7,137.9 139.7,138.9 140.7,137.0 141.7,135.8 142.7,137.0 143.7,137.9 144.7,136.5 145.7,135.4 146.7,136.1 147.7,137.0 148.7,136.6 149.7,136.7 150.7,138.6 151.7,139.6 152.7,137.9 153.7,136.5 154.7,136.2 155.7,136.4 156.7,137.4 157.7,137.8 158.7,137.1 159.7,135.5 160.7,134.6 161.7,134.5 162.7,133.2 163.7,133.0 164.7,134.0 165.7,134.3 166.7,134.5 167.7,136.2 168.7,137.9 169.7,138.1 170.7,136.3 171.7,134.8 172.7,135.2 173.7,136.2 174.7,137.1 175.7,138.0 176.7,138.2 177.7,137.3 178.7,138.1 179.7,139.5 180.7,139.5 181.7,138.2 182.7,136.2 183.7,136.2 184.7,137.2 185.7,136.3 186.7,136.2 187.7,138.4 188.7,140.1 189.7,139.8 190.7,138.6 191.7,137.9 192.7,139.0 193.7,140.1 194.7,139.5 195.7,138.8 196.7,138.2 197.7,139.0 198.7,139.6 199.7,139.2 200.7,137.6 201.7,135.3 202.7,134.7 203.7,135.6 204.7,137.4 205.7,139.4 206.7,139.5 207.7,139.2 208.7,138.7 209.7,138.0 210.7,138.6 211.7,139.7 212.7,140.6 213.7,140.1 214.7,137.1 215.7,135.4 216.7,137.0 217.7,140.1 218.7,141.1 219.7,138.2 220.7,135.5 221.7,135.0 222.7,134.3 223.7,133.7 224.7,134.6 225.7,135.7 226.7,135.4 227.7,136.2 227.9,136.6 228.1,137.1 228.4,137.6 228.6,138.0 228.9,138.2 229.1,138.3 229.4,138.4 229.6,138.2 229.9,137.6 230.1,136.5 230.4,134.5 230.6,130.5 230.9,123.3 231.1,113.1 231.4,101.4 231.6,91.7 231.9,87.9 232.1,91.7 232.4,101.2 232.6,112.7 232.9,122.9 233.1,130.0 233.4,134.1 233.6,136.4 233.9,137.4 234.1,137.9 234.4,138.3 234.6,138.5 234.9,138.0 235.1,137.4 235.4,136.8 235.6,136.2 235.9,135.8 236.7,134.8 237.7,135.5 238.7,136.6 239.7,134.7 240.7,132.4 241.7,133.0 242.7,135.5 243.7,136.7 244.7,136.3 245.7,135.2 246.7,135.2 247.7,137.1 248.7,138.3 249.7,137.5 250.7,136.9 251.7,136.2 252.7,135.1 253.7,134.0 254.7,134.7 255.7,136.2 256.7,135.7 257.7,135.0 258.7,136.0 259.7,135.7 260.7,134.4" fill="none" stroke="#000080" stroke-width="1.3" stroke-linejoin="round"/>
<path d="M34.7,140.9V135.9M260.7,140.9V134.4" stroke="#000080" stroke-width="0.7" stroke-opacity="0.55" fill="none"/>
<polygon points="28.7,148.4 28.7,144.3 29.7,146.7 30.7,146.8 31.7,145.7 32.7,145.4 33.7,145.0 34.7,144.8 35.7,145.2 36.7,145.2 37.7,145.6 38.7,145.5 39.7,144.9 40.7,144.7 41.7,143.5 42.7,142.5 43.7,143.4 44.7,144.1 45.7,144.0 46.7,144.0 47.7,144.3 48.7,145.2 49.7,145.2 50.7,145.4 51.7,144.8 52.7,143.4 53.7,143.2 54.7,142.1 55.7,141.7 56.7,142.6 57.7,143.7 58.7,142.6 59.7,142.1 60.7,143.3 61.7,142.9 62.7,141.5 63.7,143.0 64.7,145.2 65.7,145.4 66.7,144.4 67.7,143.7 68.7,142.9 69.7,142.4 70.7,143.3 71.7,143.1 72.7,143.1 73.7,143.8 74.7,142.7 75.7,142.8 76.7,145.9 77.7,147.9 78.7,148.4 79.7,148.0 80.7,147.0 81.7,146.5 82.7,144.5 83.7,144.0 84.7,146.2 85.7,147.4 86.7,147.2 87.7,145.8 88.7,145.5 89.7,145.4 90.7,144.6 91.7,144.3 92.7,144.8 93.7,145.3 94.7,145.5 95.7,145.8 96.7,146.5 97.7,147.0 98.7,147.4 99.7,145.4 100.7,143.0 101.7,144.2 102.7,146.0 103.7,146.3 104.7,147.3 105.7,148.0 106.7,146.4 107.7,144.3 108.7,144.0 109.7,145.3 110.7,146.5 111.7,145.8 112.7,143.9 113.7,144.6 114.7,147.3 115.7,148.8 116.7,146.5 117.7,143.7 118.7,144.6 119.7,145.2 120.7,144.8 121.7,145.2 122.7,146.3 123.7,147.3 124.7,146.0 125.7,143.9 126.7,144.2 127.7,145.2 128.7,146.5 129.7,145.9 130.7,144.2 131.7,144.0 132.7,144.9 133.7,144.4 134.7,144.4 135.7,145.1 136.7,145.4 137.7,146.2 138.7,146.8 139.7,147.5 140.7,148.6 141.7,147.8 142.7,147.6 143.7,147.6 144.7,146.0 145.7,144.4 146.7,144.0 147.7,144.3 148.7,146.1 149.7,145.9 150.7,143.4 151.7,142.6 152.7,143.5 153.7,144.4 154.7,143.8 155.7,143.4 156.7,143.4 157.7,143.3 158.7,143.6 159.7,145.6 160.7,147.2 161.7,146.7 162.7,145.1 163.7,145.9 164.7,147.2 165.7,147.3 166.7,147.1 167.7,147.1 168.7,146.7 169.7,146.5 170.7,146.7 171.7,146.5 172.7,145.8 173.7,145.3 174.7,144.7 175.7,144.4 176.7,145.8 177.7,147.8 178.7,147.5 179.7,146.1 180.7,145.7 181.7,146.9 182.7,147.0 183.7,146.0 184.7,144.8 185.7,143.9 186.7,144.1 187.7,145.0 188.7,147.1 189.7,147.0 190.7,144.3 191.7,143.1 192.7,143.4 193.7,143.9 194.7,144.7 195.7,145.3 196.7,144.6 197.7,144.1 198.7,143.9 199.7,145.6 200.7,147.9 201.7,147.0 202.7,144.6 203.7,144.5 204.7,145.1 205.7,145.1 206.7,145.5 207.7,145.6 208.7,144.7 209.7,143.4 210.7,142.3 211.7,141.8 212.7,140.4 213.7,139.5 214.7,140.0 215.7,141.6 216.7,143.4 217.7,144.5 218.7,145.3 219.7,145.8 220.7,145.4 221.7,144.0 221.9,143.6 222.2,143.1 222.4,142.6 222.7,142.1 222.9,142.1 223.2,142.2 223.4,142.2 223.7,142.4 223.9,142.7 224.2,142.6 224.4,141.5 224.7,138.6 224.9,132.9 225.2,124.5 225.4,114.6 225.7,106.4 225.9,103.0 226.2,106.4 226.4,114.6 226.7,124.5 226.9,133.1 227.2,139.0 227.4,142.3 227.7,144.0 227.9,144.9 228.2,145.6 228.4,146.3 228.7,146.7 228.9,147.0 229.2,147.4 229.4,147.7 229.7,148.1 229.9,148.1 230.7,147.9 231.7,145.4 232.7,142.7 233.7,141.3 234.7,142.7 235.7,143.4 236.7,142.8 237.7,143.4 238.7,144.5 239.7,145.3 240.7,144.5 241.7,142.3 242.7,141.1 243.7,141.8 244.7,143.8 245.7,145.2 246.7,145.3 247.7,145.1 248.7,145.3 249.7,143.9 250.7,142.1 251.7,142.5 252.7,144.0 253.7,144.4 254.7,145.7 254.7,148.4" fill="#fff" stroke="none"/>
<polyline points="28.7,144.3 29.7,146.7 30.7,146.8 31.7,145.7 32.7,145.4 33.7,145.0 34.7,144.8 35.7,145.2 36.7,145.2 37.7,145.6 38.7,145.5 39.7,144.9 40.7,144.7 41.7,143.5 42.7,142.5 43.7,143.4 44.7,144.1 45.7,144.0 46.7,144.0 47.7,144.3 48.7,145.2 49.7,145.2 50.7,145.4 51.7,144.8 52.7,143.4 53.7,143.2 54.7,142.1 55.7,141.7 56.7,142.6 57.7,143.7 58.7,142.6 59.7,142.1 60.7,143.3 61.7,142.9 62.7,141.5 63.7,143.0 64.7,145.2 65.7,145.4 66.7,144.4 67.7,143.7 68.7,142.9 69.7,142.4 70.7,143.3 71.7,143.1 72.7,143.1 73.7,143.8 74.7,142.7 75.7,142.8 76.7,145.9 77.7,147.9 78.7,148.4 79.7,148.0 80.7,147.0 81.7,146.5 82.7,144.5 83.7,144.0 84.7,146.2 85.7,147.4 86.7,147.2 87.7,145.8 88.7,145.5 89.7,145.4 90.7,144.6 91.7,144.3 92.7,144.8 93.7,145.3 94.7,145.5 95.7,145.8 96.7,146.5 97.7,147.0 98.7,147.4 99.7,145.4 100.7,143.0 101.7,144.2 102.7,146.0 103.7,146.3 104.7,147.3 105.7,148.0 106.7,146.4 107.7,144.3 108.7,144.0 109.7,145.3 110.7,146.5 111.7,145.8 112.7,143.9 113.7,144.6 114.7,147.3 115.7,148.8 116.7,146.5 117.7,143.7 118.7,144.6 119.7,145.2 120.7,144.8 121.7,145.2 122.7,146.3 123.7,147.3 124.7,146.0 125.7,143.9 126.7,144.2 127.7,145.2 128.7,146.5 129.7,145.9 130.7,144.2 131.7,144.0 132.7,144.9 133.7,144.4 134.7,144.4 135.7,145.1 136.7,145.4 137.7,146.2 138.7,146.8 139.7,147.5 140.7,148.6 141.7,147.8 142.7,147.6 143.7,147.6 144.7,146.0 145.7,144.4 146.7,144.0 147.7,144.3 148.7,146.1 149.7,145.9 150.7,143.4 151.7,142.6 152.7,143.5 153.7,144.4 154.7,143.8 155.7,143.4 156.7,143.4 157.7,143.3 158.7,143.6 159.7,145.6 160.7,147.2 161.7,146.7 162.7,145.1 163.7,145.9 164.7,147.2 165.7,147.3 166.7,147.1 167.7,147.1 168.7,146.7 169.7,146.5 170.7,146.7 171.7,146.5 172.7,145.8 173.7,145.3 174.7,144.7 175.7,144.4 176.7,145.8 177.7,147.8 178.7,147.5 179.7,146.1 180.7,145.7 181.7,146.9 182.7,147.0 183.7,146.0 184.7,144.8 185.7,143.9 186.7,144.1 187.7,145.0 188.7,147.1 189.7,147.0 190.7,144.3 191.7,143.1 192.7,143.4 193.7,143.9 194.7,144.7 195.7,145.3 196.7,144.6 197.7,144.1 198.7,143.9 199.7,145.6 200.7,147.9 201.7,147.0 202.7,144.6 203.7,144.5 204.7,145.1 205.7,145.1 206.7,145.5 207.7,145.6 208.7,144.7 209.7,143.4 210.7,142.3 211.7,141.8 212.7,140.4 213.7,139.5 214.7,140.0 215.7,141.6 216.7,143.4 217.7,144.5 218.7,145.3 219.7,145.8 220.7,145.4 221.7,144.0 221.9,143.6 222.2,143.1 222.4,142.6 222.7,142.1 222.9,142.1 223.2,142.2 223.4,142.2 223.7,142.4 223.9,142.7 224.2,142.6 224.4,141.5 224.7,138.6 224.9,132.9 225.2,124.5 225.4,114.6 225.7,106.4 225.9,103.0 226.2,106.4 226.4,114.6 226.7,124.5 226.9,133.1 227.2,139.0 227.4,142.3 227.7,144.0 227.9,144.9 228.2,145.6 228.4,146.3 228.7,146.7 228.9,147.0 229.2,147.4 229.4,147.7 229.7,148.1 229.9,148.1 230.7,147.9 231.7,145.4 232.7,142.7 233.7,141.3 234.7,142.7 235.7,143.4 236.7,142.8 237.7,143.4 238.7,144.5 239.7,145.3 240.7,144.5 241.7,142.3 242.7,141.1 243.7,141.8 244.7,143.8 245.7,145.2 246.7,145.3 247.7,145.1 248.7,145.3 249.7,143.9 250.7,142.1 251.7,142.5 252.7,144.0 253.7,144.4 254.7,145.7" fill="none" stroke="#8000ff" stroke-width="1.3" stroke-linejoin="round"/>
<path d="M28.7,148.4V144.3M254.7,148.4V145.7" stroke="#8000ff" stroke-width="0.7" stroke-opacity="0.55" fill="none"/>
<polygon points="22.7,155.9 22.7,152.4 23.7,154.1 24.7,152.5 25.7,149.6 26.7,148.9 27.7,151.0 28.7,152.8 29.7,153.8 30.7,153.7 31.7,152.4 32.7,151.9 33.7,152.2 34.7,153.8 35.7,153.9 36.7,152.7 37.7,151.9 38.7,151.2 39.7,151.8 40.7,152.3 41.7,151.2 42.7,151.3 43.7,151.8 44.7,150.1 45.7,149.6 46.7,151.4 47.7,153.6 48.7,153.6 49.7,152.1 50.7,151.7 51.7,153.4 52.7,154.8 53.7,154.8 54.7,153.3 55.7,152.7 56.7,153.6 57.7,152.7 58.7,150.4 59.7,149.0 60.7,149.9 61.7,152.1 62.7,153.7 63.7,153.9 64.7,153.0 65.7,151.7 66.7,150.4 67.7,149.5 68.7,150.6 69.7,151.2 70.7,149.7 71.7,149.5 72.7,151.3 73.7,153.5 74.7,154.8 75.7,153.6 76.7,152.1 77.7,152.8 78.7,153.3 79.7,152.0 80.7,150.7 81.7,150.0 82.7,149.4 83.7,149.8 84.7,150.9 85.7,151.3 86.7,151.6 87.7,151.1 88.7,150.6 89.7,150.3 90.7,150.0 91.7,150.0 92.7,149.5 93.7,149.7 94.7,151.1 95.7,152.5 96.7,153.1 97.7,152.8 98.7,151.8 99.7,149.6 100.7,147.5 101.7,148.3 102.7,150.5 103.7,152.4 104.7,153.0 105.7,152.5 106.7,152.1 107.7,151.6 108.7,150.5 109.7,150.8 110.7,152.0 111.7,153.6 112.7,152.7 113.7,151.3 114.7,150.7 115.7,150.4 116.7,150.9 117.7,152.4 118.7,154.4 119.7,155.1 120.7,154.5 121.7,152.3 122.7,151.3 123.7,152.1 124.7,152.7 125.7,151.3 126.7,148.6 127.7,148.2 128.7,149.5 129.7,151.1 130.7,153.9 131.7,155.1 132.7,154.2 133.7,153.5 134.7,152.3 135.7,149.8 136.7,148.3 137.7,150.1 138.7,151.3 139.7,151.1 140.7,150.5 141.7,149.3 142.7,149.6 143.7,151.6 144.7,152.1 145.7,151.8 146.7,152.5 147.7,154.6 148.7,156.1 149.7,155.2 150.7,152.6 151.7,151.5 152.7,152.9 153.7,154.6 154.7,154.2 155.7,154.0 156.7,154.3 157.7,153.1 158.7,151.1 159.7,150.5 160.7,150.8 161.7,151.2 162.7,151.8 163.7,151.7 164.7,151.1 165.7,150.9 166.7,151.3 167.7,151.8 168.7,151.9 169.7,150.8 170.7,148.9 171.7,148.9 172.7,148.6 173.7,147.7 174.7,149.2 175.7,151.5 176.7,150.7 177.7,148.8 178.7,147.6 179.7,148.2 180.7,150.4 181.7,152.7 182.7,153.0 183.7,151.7 184.7,151.6 185.7,152.6 186.7,152.8 187.7,152.3 188.7,151.6 189.7,151.5 190.7,152.3 191.7,152.1 192.7,149.8 193.7,148.9 194.7,149.6 195.7,149.8 196.7,149.8 197.7,150.1 198.7,150.9 199.7,151.5 200.7,150.7 201.7,150.3 202.7,150.2 203.7,148.0 204.7,146.3 205.7,146.2 206.7,147.2 207.7,149.3 208.7,151.6 209.7,152.9 210.7,152.8 211.7,151.9 212.7,151.3 213.7,151.7 214.7,151.4 215.7,148.2 215.9,147.9 216.2,147.6 216.4,147.3 216.7,146.9 216.9,147.2 217.2,147.5 217.4,147.9 217.7,148.5 217.9,148.7 218.2,148.6 218.4,147.8 218.7,145.7 218.9,141.5 219.2,135.3 219.4,128.2 219.7,122.2 219.9,120.0 220.2,122.3 220.4,128.3 220.7,135.6 220.9,141.9 221.2,146.3 221.4,148.8 221.7,150.1 221.9,150.7 222.2,151.0 222.4,151.3 222.7,151.6 222.9,151.7 223.2,151.8 223.4,151.9 223.7,152.0 223.9,152.0 224.7,151.6 225.7,151.3 226.7,151.7 227.7,152.2 228.7,151.9 229.7,151.2 230.7,151.4 231.7,151.9 232.7,150.9 233.7,149.8 234.7,150.4 235.7,151.8 236.7,152.3 237.7,151.5 238.7,149.8 239.7,149.4 240.7,150.9 241.7,151.9 242.7,151.5 243.7,151.8 244.7,152.9 245.7,153.0 246.7,151.9 247.7,151.8 248.7,153.1 248.7,155.9" fill="#fff" stroke="none"/>
<polyline points="22.7,152.4 23.7,154.1 24.7,152.5 25.7,149.6 26.7,148.9 27.7,151.0 28.7,152.8 29.7,153.8 30.7,153.7 31.7,152.4 32.7,151.9 33.7,152.2 34.7,153.8 35.7,153.9 36.7,152.7 37.7,151.9 38.7,151.2 39.7,151.8 40.7,152.3 41.7,151.2 42.7,151.3 43.7,151.8 44.7,150.1 45.7,149.6 46.7,151.4 47.7,153.6 48.7,153.6 49.7,152.1 50.7,151.7 51.7,153.4 52.7,154.8 53.7,154.8 54.7,153.3 55.7,152.7 56.7,153.6 57.7,152.7 58.7,150.4 59.7,149.0 60.7,149.9 61.7,152.1 62.7,153.7 63.7,153.9 64.7,153.0 65.7,151.7 66.7,150.4 67.7,149.5 68.7,150.6 69.7,151.2 70.7,149.7 71.7,149.5 72.7,151.3 73.7,153.5 74.7,154.8 75.7,153.6 76.7,152.1 77.7,152.8 78.7,153.3 79.7,152.0 80.7,150.7 81.7,150.0 82.7,149.4 83.7,149.8 84.7,150.9 85.7,151.3 86.7,151.6 87.7,151.1 88.7,150.6 89.7,150.3 90.7,150.0 91.7,150.0 92.7,149.5 93.7,149.7 94.7,151.1 95.7,152.5 96.7,153.1 97.7,152.8 98.7,151.8 99.7,149.6 100.7,147.5 101.7,148.3 102.7,150.5 103.7,152.4 104.7,153.0 105.7,152.5 106.7,152.1 107.7,151.6 108.7,150.5 109.7,150.8 110.7,152.0 111.7,153.6 112.7,152.7 113.7,151.3 114.7,150.7 115.7,150.4 116.7,150.9 117.7,152.4 118.7,154.4 119.7,155.1 120.7,154.5 121.7,152.3 122.7,151.3 123.7,152.1 124.7,152.7 125.7,151.3 126.7,148.6 127.7,148.2 128.7,149.5 129.7,151.1 130.7,153.9 131.7,155.1 132.7,154.2 133.7,153.5 134.7,152.3 135.7,149.8 136.7,148.3 137.7,150.1 138.7,151.3 139.7,151.1 140.7,150.5 141.7,149.3 142.7,149.6 143.7,151.6 144.7,152.1 145.7,151.8 146.7,152.5 147.7,154.6 148.7,156.1 149.7,155.2 150.7,152.6 151.7,151.5 152.7,152.9 153.7,154.6 154.7,154.2 155.7,154.0 156.7,154.3 157.7,153.1 158.7,151.1 159.7,150.5 160.7,150.8 161.7,151.2 162.7,151.8 163.7,151.7 164.7,151.1 165.7,150.9 166.7,151.3 167.7,151.8 168.7,151.9 169.7,150.8 170.7,148.9 171.7,148.9 172.7,148.6 173.7,147.7 174.7,149.2 175.7,151.5 176.7,150.7 177.7,148.8 178.7,147.6 179.7,148.2 180.7,150.4 181.7,152.7 182.7,153.0 183.7,151.7 184.7,151.6 185.7,152.6 186.7,152.8 187.7,152.3 188.7,151.6 189.7,151.5 190.7,152.3 191.7,152.1 192.7,149.8 193.7,148.9 194.7,149.6 195.7,149.8 196.7,149.8 197.7,150.1 198.7,150.9 199.7,151.5 200.7,150.7 201.7,150.3 202.7,150.2 203.7,148.0 204.7,146.3 205.7,146.2 206.7,147.2 207.7,149.3 208.7,151.6 209.7,152.9 210.7,152.8 211.7,151.9 212.7,151.3 213.7,151.7 214.7,151.4 215.7,148.2 215.9,147.9 216.2,147.6 216.4,147.3 216.7,146.9 216.9,147.2 217.2,147.5 217.4,147.9 217.7,148.5 217.9,148.7 218.2,148.6 218.4,147.8 218.7,145.7 218.9,141.5 219.2,135.3 219.4,128.2 219.7,122.2 219.9,120.0 220.2,122.3 220.4,128.3 220.7,135.6 220.9,141.9 221.2,146.3 221.4,148.8 221.7,150.1 221.9,150.7 222.2,151.0 222.4,151.3 222.7,151.6 222.9,151.7 223.2,151.8 223.4,151.9 223.7,152.0 223.9,152.0 224.7,151.6 225.7,151.3 226.7,151.7 227.7,152.2 228.7,151.9 229.7,151.2 230.7,151.4 231.7,151.9 232.7,150.9 233.7,149.8 234.7,150.4 235.7,151.8 236.7,152.3 237.7,151.5 238.7,149.8 239.7,149.4 240.7,150.9 241.7,151.9 242.7,151.5 243.7,151.8 244.7,152.9 245.7,153.0 246.7,151.9 247.7,151.8 248.7,153.1" fill="none" stroke="#800080" stroke-width="1.3" stroke-linejoin="round"/>
<path d="M22.7,155.9V152.4M248.7,155.9V153.1" stroke="#800080" stroke-width="0.7" stroke-opacity="0.55" fill="none"/>
<polygon points="16.8,163.4 16.8,157.3 17.8,157.2 18.8,157.4 19.8,158.7 20.8,158.2 21.8,156.5 22.8,155.9 23.8,156.5 24.8,156.7 25.8,156.3 26.8,154.7 27.8,153.9 28.8,155.5 29.8,156.7 30.8,156.7 31.8,154.9 32.8,154.3 33.8,156.3 34.8,157.5 35.8,155.8 36.8,153.7 37.8,153.6 38.8,155.9 39.8,158.7 40.8,157.9 41.8,156.1 42.8,156.0 43.8,153.9 44.8,152.1 45.8,152.7 46.8,154.3 47.8,156.9 48.8,158.4 49.8,157.8 50.8,157.8 51.8,157.8 52.8,158.2 53.8,159.3 54.8,158.9 55.8,158.2 56.8,157.0 57.8,155.5 58.8,156.1 59.8,157.5 60.8,158.2 61.8,157.3 62.8,154.5 63.8,154.1 64.8,154.7 65.8,153.3 66.8,151.0 67.8,148.7 68.8,146.8 69.8,146.1 70.8,144.4 71.8,143.4 72.8,142.9 73.8,141.5 74.8,139.7 75.8,138.6 76.8,138.3 77.8,138.7 78.8,139.4 79.8,138.5 80.8,135.6 81.8,134.5 82.8,135.8 83.8,136.5 84.8,137.2 85.8,139.2 86.8,144.8 87.8,145.5 88.8,145.7 89.8,148.1 90.8,148.2 91.8,145.5 92.8,145.5 93.8,146.7 94.8,146.2 95.8,149.5 96.8,156.4 97.8,155.1 98.8,155.6 99.8,158.1 100.8,158.6 101.8,158.6 102.8,156.4 103.8,154.3 104.8,154.1 105.8,156.2 106.8,156.8 107.8,156.6 108.8,158.1 109.8,159.1 110.8,158.9 111.8,158.8 112.8,158.6 113.8,157.1 114.8,156.0 115.8,154.0 116.8,152.2 117.8,151.4 118.8,151.8 119.8,152.8 120.8,154.1 121.8,155.5 122.8,154.9 123.8,154.3 124.8,154.8 125.8,155.2 126.8,155.5 127.8,156.8 128.8,157.9 129.8,156.8 130.8,155.7 131.8,155.7 132.8,155.5 133.8,154.0 134.8,152.8 135.8,153.3 136.8,152.9 137.8,150.9 138.8,149.9 139.8,150.1 140.8,151.0 141.8,152.7 142.8,152.8 143.8,152.4 144.8,153.3 145.8,153.5 146.8,152.7 147.8,152.4 148.8,152.2 149.8,151.5 150.8,151.2 151.8,150.2 152.8,149.2 153.8,149.4 154.8,150.9 155.8,153.5 156.8,154.3 157.8,152.4 158.8,149.6 159.8,148.9 160.8,150.4 161.8,151.0 162.8,151.3 163.8,151.1 164.8,149.4 165.8,147.6 166.8,146.6 167.8,146.7 168.8,147.2 169.8,145.9 170.8,145.0 171.8,145.5 172.8,146.2 173.8,147.6 174.8,148.3 175.8,147.3 176.8,144.4 177.8,141.5 178.8,141.6 179.8,141.7 180.8,141.9 181.8,142.1 182.8,142.2 183.8,142.3 184.8,141.3 185.8,141.7 186.8,142.5 187.8,140.6 188.8,138.7 189.8,137.5 190.8,137.0 191.8,137.7 192.8,137.5 193.8,137.3 194.8,137.6 195.8,137.6 196.8,139.1 197.8,139.1 198.8,137.5 199.8,137.3 200.8,137.5 201.8,137.4 202.8,136.4 203.8,135.6 204.8,135.0 205.8,134.7 206.8,133.2 207.8,132.2 208.8,131.8 209.8,131.5 210.8,132.3 211.8,134.5 212.8,135.1 213.8,132.9 214.8,131.5 215.8,130.4 216.8,130.3 217.8,131.6 218.8,131.2 219.8,130.1 220.8,129.0 221.8,127.4 222.8,127.5 223.8,129.2 224.8,129.4 225.8,128.7 226.8,128.9 227.8,129.1 228.8,131.0 229.8,134.1 230.8,134.5 231.8,132.9 232.8,131.6 233.8,131.0 234.8,131.2 235.8,132.6 236.8,134.8 237.8,135.8 238.8,135.9 239.8,136.7 240.8,137.9 241.8,139.7 242.8,140.1 242.8,163.4" fill="#fff" stroke="none"/>
<polyline points="16.8,157.3 17.8,157.2 18.8,157.4 19.8,158.7 20.8,158.2 21.8,156.5 22.8,155.9 23.8,156.5 24.8,156.7 25.8,156.3 26.8,154.7 27.8,153.9 28.8,155.5 29.8,156.7 30.8,156.7 31.8,154.9 32.8,154.3 33.8,156.3 34.8,157.5 35.8,155.8 36.8,153.7 37.8,153.6 38.8,155.9 39.8,158.7 40.8,157.9 41.8,156.1 42.8,156.0 43.8,153.9 44.8,152.1 45.8,152.7 46.8,154.3 47.8,156.9 48.8,158.4 49.8,157.8 50.8,157.8 51.8,157.8 52.8,158.2 53.8,159.3 54.8,158.9 55.8,158.2 56.8,157.0 57.8,155.5 58.8,156.1 59.8,157.5 60.8,158.2 61.8,157.3 62.8,154.5 63.8,154.1 64.8,154.7 65.8,153.3 66.8,151.0 67.8,148.7 68.8,146.8 69.8,146.1 70.8,144.4 71.8,143.4 72.8,142.9 73.8,141.5 74.8,139.7 75.8,138.6 76.8,138.3 77.8,138.7 78.8,139.4 79.8,138.5 80.8,135.6 81.8,134.5 82.8,135.8 83.8,136.5 84.8,137.2 85.8,139.2 86.8,144.8 87.8,145.5 88.8,145.7 89.8,148.1 90.8,148.2 91.8,145.5 92.8,145.5 93.8,146.7 94.8,146.2 95.8,149.5 96.8,156.4 97.8,155.1 98.8,155.6 99.8,158.1 100.8,158.6 101.8,158.6 102.8,156.4 103.8,154.3 104.8,154.1 105.8,156.2 106.8,156.8 107.8,156.6 108.8,158.1 109.8,159.1 110.8,158.9 111.8,158.8 112.8,158.6 113.8,157.1 114.8,156.0 115.8,154.0 116.8,152.2 117.8,151.4 118.8,151.8 119.8,152.8 120.8,154.1 121.8,155.5 122.8,154.9 123.8,154.3 124.8,154.8 125.8,155.2 126.8,155.5 127.8,156.8 128.8,157.9 129.8,156.8 130.8,155.7 131.8,155.7 132.8,155.5 133.8,154.0 134.8,152.8 135.8,153.3 136.8,152.9 137.8,150.9 138.8,149.9 139.8,150.1 140.8,151.0 141.8,152.7 142.8,152.8 143.8,152.4 144.8,153.3 145.8,153.5 146.8,152.7 147.8,152.4 148.8,152.2 149.8,151.5 150.8,151.2 151.8,150.2 152.8,149.2 153.8,149.4 154.8,150.9 155.8,153.5 156.8,154.3 157.8,152.4 158.8,149.6 159.8,148.9 160.8,150.4 161.8,151.0 162.8,151.3 163.8,151.1 164.8,149.4 165.8,147.6 166.8,146.6 167.8,146.7 168.8,147.2 169.8,145.9 170.8,145.0 171.8,145.5 172.8,146.2 173.8,147.6 174.8,148.3 175.8,147.3 176.8,144.4 177.8,141.5 178.8,141.6 179.8,141.7 180.8,141.9 181.8,142.1 182.8,142.2 183.8,142.3 184.8,141.3 185.8,141.7 186.8,142.5 187.8,140.6 188.8,138.7 189.8,137.5 190.8,137.0 191.8,137.7 192.8,137.5 193.8,137.3 194.8,137.6 195.8,137.6 196.8,139.1 197.8,139.1 198.8,137.5 199.8,137.3 200.8,137.5 201.8,137.4 202.8,136.4 203.8,135.6 204.8,135.0 205.8,134.7 206.8,133.2 207.8,132.2 208.8,131.8 209.8,131.5 210.8,132.3 211.8,134.5 212.8,135.1 213.8,132.9 214.8,131.5 215.8,130.4 216.8,130.3 217.8,131.6 218.8,131.2 219.8,130.1 220.8,129.0 221.8,127.4 222.8,127.5 223.8,129.2 224.8,129.4 225.8,128.7 226.8,128.9 227.8,129.1 228.8,131.0 229.8,134.1 230.8,134.5 231.8,132.9 232.8,131.6 233.8,131.0 234.8,131.2 235.8,132.6 236.8,134.8 237.8,135.8 238.8,135.9 239.8,136.7 240.8,137.9 241.8,139.7 242.8,140.1" fill="none" stroke="#800000" stroke-width="1.3" stroke-linejoin="round"/>
<path d="M16.8,163.4V157.3M242.8,163.4V140.1" stroke="#800000" stroke-width="0.7" stroke-opacity="0.55" fill="none"/>
<polygon points="10.8,170.9 10.8,169.9 11.8,168.9 12.8,166.9 13.8,165.6 14.8,165.6 15.8,166.0 16.8,165.2 17.8,164.1 18.8,163.7 19.8,162.8 20.8,164.0 21.8,164.8 22.8,163.5 23.8,163.4 24.8,164.5 25.8,165.2 26.8,166.5 27.8,165.7 28.8,163.7 29.8,164.5 30.8,165.2 31.8,163.5 32.8,162.7 33.8,164.6 34.8,166.4 35.8,165.3 36.8,163.0 37.8,161.2 38.8,161.0 39.8,163.0 40.8,164.3 41.8,163.5 42.8,162.9 43.8,163.6 44.8,164.7 45.8,166.2 46.8,165.2 47.8,164.1 48.8,163.3 49.8,163.6 50.8,164.9 51.8,164.6 52.8,163.5 53.8,163.8 54.8,165.7 55.8,167.0 56.8,165.0 57.8,161.3 58.8,161.4 59.8,163.0 60.8,162.5 61.8,160.0 62.8,157.9 63.8,155.6 64.8,154.6 65.8,154.6 66.8,153.9 67.8,153.6 68.8,152.3 69.8,150.8 70.8,149.1 71.8,146.0 72.8,144.7 73.8,145.9 74.8,149.1 75.8,149.0 76.8,147.5 77.8,146.3 78.8,145.2 79.8,145.1 80.8,147.4 81.8,149.4 82.8,150.6 83.8,151.9 84.8,154.1 85.8,154.7 86.8,155.3 87.8,154.9 88.8,153.5 89.8,152.9 90.8,155.5 91.8,158.5 92.8,160.9 93.8,162.5 94.8,162.9 95.8,161.2 96.8,160.5 97.8,162.2 98.8,165.4 99.8,167.2 100.8,167.1 101.8,164.6 102.8,162.8 103.8,165.2 104.8,169.1 105.8,170.0 106.8,168.3 107.8,166.1 108.8,164.9 109.8,163.8 110.8,163.6 111.8,165.6 112.8,165.4 113.8,163.4 114.8,164.5 115.8,167.6 116.8,169.9 117.8,170.6 118.8,169.5 119.8,166.5 120.8,164.0 121.8,163.2 122.8,164.2 123.8,165.2 124.8,164.2 125.8,163.1 126.8,164.4 127.8,164.1 128.8,162.9 129.8,162.4 130.8,162.5 131.8,161.6 132.8,161.2 133.8,162.1 134.8,162.9 135.8,163.1 136.8,163.2 137.8,162.5 138.8,161.3 139.8,159.5 140.8,157.6 141.8,157.7 142.8,158.9 143.8,158.8 144.8,158.2 145.8,157.9 146.8,158.3 147.8,158.9 148.8,159.5 149.8,158.9 150.8,156.6 151.8,155.1 152.8,155.4 153.8,156.2 154.8,157.3 155.8,158.9 156.8,159.3 157.8,157.4 158.8,156.8 159.8,157.7 160.8,157.4 161.8,156.2 162.8,155.6 163.8,153.1 164.8,150.9 165.8,150.8 166.8,152.9 167.8,154.0 168.8,153.6 169.8,153.0 170.8,152.7 171.8,152.1 172.8,151.0 173.8,151.4 174.8,151.1 175.8,150.1 176.8,150.2 177.8,149.8 178.8,149.1 179.8,149.6 180.8,149.9 181.8,148.6 182.8,146.5 183.8,145.3 184.8,145.9 185.8,145.9 186.8,146.3 187.8,146.3 188.8,145.2 189.8,143.3 190.8,141.3 191.8,140.7 192.8,141.3 193.8,140.2 194.8,139.5 195.8,140.3 196.8,141.1 197.8,140.5 198.8,140.2 199.8,140.2 200.8,139.7 201.8,138.1 202.8,136.7 203.8,136.8 204.8,137.2 205.8,136.2 206.8,136.8 207.8,138.5 208.8,139.4 209.8,140.6 210.8,140.2 211.8,138.9 212.8,138.9 213.8,140.9 214.8,143.5 215.8,145.2 216.8,145.2 217.8,144.2 218.8,144.8 219.8,145.7 220.8,145.9 221.8,147.0 222.8,147.6 223.8,146.5 224.8,144.5 225.8,145.0 226.8,148.3 227.8,150.4 228.8,149.7 229.8,148.9 230.8,148.7 231.8,149.1 232.8,149.5 233.8,149.0 234.8,149.2 235.8,150.8 236.8,152.3 236.8,170.9" fill="#fff" stroke="none"/>
<polyline points="10.8,169.9 11.8,168.9 12.8,166.9 13.8,165.6 14.8,165.6 15.8,166.0 16.8,165.2 17.8,164.1 18.8,163.7 19.8,162.8 20.8,164.0 21.8,164.8 22.8,163.5 23.8,163.4 24.8,164.5 25.8,165.2 26.8,166.5 27.8,165.7 28.8,163.7 29.8,164.5 30.8,165.2 31.8,163.5 32.8,162.7 33.8,164.6 34.8,166.4 35.8,165.3 36.8,163.0 37.8,161.2 38.8,161.0 39.8,163.0 40.8,164.3 41.8,163.5 42.8,162.9 43.8,163.6 44.8,164.7 45.8,166.2 46.8,165.2 47.8,164.1 48.8,163.3 49.8,163.6 50.8,164.9 51.8,164.6 52.8,163.5 53.8,163.8 54.8,165.7 55.8,167.0 56.8,165.0 57.8,161.3 58.8,161.4 59.8,163.0 60.8,162.5 61.8,160.0 62.8,157.9 63.8,155.6 64.8,154.6 65.8,154.6 66.8,153.9 67.8,153.6 68.8,152.3 69.8,150.8 70.8,149.1 71.8,146.0 72.8,144.7 73.8,145.9 74.8,149.1 75.8,149.0 76.8,147.5 77.8,146.3 78.8,145.2 79.8,145.1 80.8,147.4 81.8,149.4 82.8,150.6 83.8,151.9 84.8,154.1 85.8,154.7 86.8,155.3 87.8,154.9 88.8,153.5 89.8,152.9 90.8,155.5 91.8,158.5 92.8,160.9 93.8,162.5 94.8,162.9 95.8,161.2 96.8,160.5 97.8,162.2 98.8,165.4 99.8,167.2 100.8,167.1 101.8,164.6 102.8,162.8 103.8,165.2 104.8,169.1 105.8,170.0 106.8,168.3 107.8,166.1 108.8,164.9 109.8,163.8 110.8,163.6 111.8,165.6 112.8,165.4 113.8,163.4 114.8,164.5 115.8,167.6 116.8,169.9 117.8,170.6 118.8,169.5 119.8,166.5 120.8,164.0 121.8,163.2 122.8,164.2 123.8,165.2 124.8,164.2 125.8,163.1 126.8,164.4 127.8,164.1 128.8,162.9 129.8,162.4 130.8,162.5 131.8,161.6 132.8,161.2 133.8,162.1 134.8,162.9 135.8,163.1 136.8,163.2 137.8,162.5 138.8,161.3 139.8,159.5 140.8,157.6 141.8,157.7 142.8,158.9 143.8,158.8 144.8,158.2 145.8,157.9 146.8,158.3 147.8,158.9 148.8,159.5 149.8,158.9 150.8,156.6 151.8,155.1 152.8,155.4 153.8,156.2 154.8,157.3 155.8,158.9 156.8,159.3 157.8,157.4 158.8,156.8 159.8,157.7 160.8,157.4 161.8,156.2 162.8,155.6 163.8,153.1 164.8,150.9 165.8,150.8 166.8,152.9 167.8,154.0 168.8,153.6 169.8,153.0 170.8,152.7 171.8,152.1 172.8,151.0 173.8,151.4 174.8,151.1 175.8,150.1 176.8,150.2 177.8,149.8 178.8,149.1 179.8,149.6 180.8,149.9 181.8,148.6 182.8,146.5 183.8,145.3 184.8,145.9 185.8,145.9 186.8,146.3 187.8,146.3 188.8,145.2 189.8,143.3 190.8,141.3 191.8,140.7 192.8,141.3 193.8,140.2 194.8,139.5 195.8,140.3 196.8,141.1 197.8,140.5 198.8,140.2 199.8,140.2 200.8,139.7 201.8,138.1 202.8,136.7 203.8,136.8 204.8,137.2 205.8,136.2 206.8,136.8 207.8,138.5 208.8,139.4 209.8,140.6 210.8,140.2 211.8,138.9 212.8,138.9 213.8,140.9 214.8,143.5 215.8,145.2 216.8,145.2 217.8,144.2 218.8,144.8 219.8,145.7 220.8,145.9 221.8,147.0 222.8,147.6 223.8,146.5 224.8,144.5 225.8,145.0 226.8,148.3 227.8,150.4 228.8,149.7 229.8,148.9 230.8,148.7 231.8,149.1 232.8,149.5 233.8,149.0 234.8,149.2 235.8,150.8 236.8,152.3" fill="none" stroke="#808000" stroke-width="1.3" stroke-linejoin="round"/>
<path d="M10.8,170.9V169.9M236.8,170.9V152.3" stroke="#808000" stroke-width="0.7" stroke-opacity="0.55" fill="none"/>
<line x1="10.80" y1="171.50" x2="237.00" y2="171.50" stroke="#000" stroke-width="1.6"/>
<line x1="10.80" y1="171.50" x2="10.80" y2="169.30" stroke="#000" stroke-width="1"/>
<line x1="25.83" y1="171.50" x2="25.83" y2="169.30" stroke="#000" stroke-width="1"/>
<line x1="40.87" y1="171.50" x2="40.87" y2="169.30" stroke="#000" stroke-width="1"/>
<line x1="55.90" y1="171.50" x2="55.90" y2="169.30" stroke="#000" stroke-width="1"/>
<line x1="70.93" y1="171.50" x2="70.93" y2="169.30" stroke="#000" stroke-width="1"/>
<line x1="85.97" y1="171.50" x2="85.97" y2="169.30" stroke="#000" stroke-width="1"/>
<line x1="101.00" y1="171.50" x2="101.00" y2="169.30" stroke="#000" stroke-width="1"/>
<line x1="116.03" y1="171.50" x2="116.03" y2="169.30" stroke="#000" stroke-width="1"/>
<line x1="131.07" y1="171.50" x2="131.07" y2="169.30" stroke="#000" stroke-width="1"/>
<line x1="146.10" y1="171.50" x2="146.10" y2="169.30" stroke="#000" stroke-width="1"/>
<line x1="161.13" y1="171.50" x2="161.13" y2="169.30" stroke="#000" stroke-width="1"/>
<line x1="176.17" y1="171.50" x2="176.17" y2="169.30" stroke="#000" stroke-width="1"/>
<line x1="191.20" y1="171.50" x2="191.20" y2="169.30" stroke="#000" stroke-width="1"/>
<line x1="206.23" y1="171.50" x2="206.23" y2="169.30" stroke="#000" stroke-width="1"/>
<line x1="221.27" y1="171.50" x2="221.27" y2="169.30" stroke="#000" stroke-width="1"/>
<line x1="236.30" y1="171.50" x2="236.30" y2="169.30" stroke="#000" stroke-width="1"/>
<line x1="236.60" y1="171.50" x2="294.00" y2="99.20" stroke="#000" stroke-width="1.6"/>
<line x1="236.80" y1="170.90" x2="235.20" y2="171.30" stroke="#000" stroke-width="1"/>
<line x1="242.77" y1="163.40" x2="241.17" y2="163.80" stroke="#000" stroke-width="1"/>
<line x1="248.74" y1="155.90" x2="247.14" y2="156.30" stroke="#000" stroke-width="1"/>
<line x1="254.71" y1="148.40" x2="253.11" y2="148.80" stroke="#000" stroke-width="1"/>
<line x1="260.68" y1="140.90" x2="259.08" y2="141.30" stroke="#000" stroke-width="1"/>
<line x1="266.65" y1="133.40" x2="265.05" y2="133.80" stroke="#000" stroke-width="1"/>
<line x1="272.62" y1="125.90" x2="271.02" y2="126.30" stroke="#000" stroke-width="1"/>
<line x1="278.59" y1="118.40" x2="276.99" y2="118.80" stroke="#000" stroke-width="1"/>
<line x1="284.56" y1="110.90" x2="282.96" y2="111.30" stroke="#000" stroke-width="1"/>
<line x1="290.53" y1="103.40" x2="288.93" y2="103.80" stroke="#000" stroke-width="1"/>
<line x1="294.00" y1="99.20" x2="294.00" y2="12.50" stroke="#000" stroke-width="1.6"/>
<line x1="294.00" y1="99.00" x2="297.00" y2="99.00" stroke="#000" stroke-width="1.2"/>
<text x="297.80" y="101.80" font-size="8" font-weight="bold" text-anchor="start" fill="#000">0</text>
<line x1="294.00" y1="70.60" x2="297.00" y2="70.60" stroke="#000" stroke-width="1.2"/>
<text x="297.80" y="73.40" font-size="8" font-weight="bold" text-anchor="start" fill="#000">40</text>
<line x1="294.00" y1="41.50" x2="297.00" y2="41.50" stroke="#000" stroke-width="1.2"/>
<text x="297.80" y="44.30" font-size="8" font-weight="bold" text-anchor="start" fill="#000">80</text>
<line x1="294.00" y1="12.50" x2="297.00" y2="12.50" stroke="#000" stroke-width="1.2"/>
<text x="297.80" y="15.30" font-size="8" font-weight="bold" text-anchor="start" fill="#000">120</text>
<line x1="294.00" y1="84.80" x2="296.00" y2="84.80" stroke="#000" stroke-width="1"/>
<line x1="294.00" y1="56.00" x2="296.00" y2="56.00" stroke="#000" stroke-width="1"/>
<line x1="294.00" y1="27.00" x2="296.00" y2="27.00" stroke="#000" stroke-width="1"/>
<text x="322.50" y="55.50" font-size="11" font-weight="bold" text-anchor="middle" fill="#000" textLength="89" lengthAdjust="spacingAndGlyphs" transform="rotate(-90 322.50 55.50)">Intensity (arb.units)</text>
<text transform="matrix(1.000 0.000 -0.623 0.782 296.50 107.20)" font-size="8.3" font-weight="bold" fill="#111" text-anchor="start" textLength="11.8" lengthAdjust="spacingAndGlyphs" stroke="#111" stroke-width="0.25">0.70</text>
<text transform="matrix(1.000 0.000 -0.623 0.782 290.52 114.65)" font-size="8.3" font-weight="bold" fill="#111" text-anchor="start" textLength="11.8" lengthAdjust="spacingAndGlyphs" stroke="#111" stroke-width="0.25">0.63</text>
<text transform="matrix(1.000 0.000 -0.623 0.782 284.54 122.10)" font-size="8.3" font-weight="bold" fill="#111" text-anchor="start" textLength="11.8" lengthAdjust="spacingAndGlyphs" stroke="#111" stroke-width="0.25">0.56</text>
<text transform="matrix(1.000 0.000 -0.623 0.782 278.56 129.55)" font-size="8.3" font-weight="bold" fill="#111" text-anchor="start" textLength="11.8" lengthAdjust="spacingAndGlyphs" stroke="#111" stroke-width="0.25">0.50</text>
<text transform="matrix(1.000 0.000 -0.623 0.782 272.58 137.00)" font-size="8.3" font-weight="bold" fill="#111" text-anchor="start" textLength="11.8" lengthAdjust="spacingAndGlyphs" stroke="#111" stroke-width="0.25">0.43</text>
<text transform="matrix(1.000 0.000 -0.623 0.782 266.60 144.45)" font-size="8.3" font-weight="bold" fill="#111" text-anchor="start" textLength="11.8" lengthAdjust="spacingAndGlyphs" stroke="#111" stroke-width="0.25">0.36</text>
<text transform="matrix(1.000 0.000 -0.623 0.782 260.62 151.90)" font-size="8.3" font-weight="bold" fill="#111" text-anchor="start" textLength="11.8" lengthAdjust="spacingAndGlyphs" stroke="#111" stroke-width="0.25">0.30</text>
<text transform="matrix(1.000 0.000 -0.623 0.782 254.64 159.35)" font-size="8.3" font-weight="bold" fill="#111" text-anchor="start" textLength="11.8" lengthAdjust="spacingAndGlyphs" stroke="#111" stroke-width="0.25">0.20</text>
<text transform="matrix(1.000 0.000 -0.623 0.782 248.66 166.80)" font-size="8.3" font-weight="bold" fill="#111" text-anchor="start" textLength="11.8" lengthAdjust="spacingAndGlyphs" stroke="#111" stroke-width="0.25">0.16</text>
<text transform="matrix(1.000 0.000 -0.623 0.782 242.68 174.25)" font-size="8.3" font-weight="bold" fill="#111" text-anchor="start" textLength="11.8" lengthAdjust="spacingAndGlyphs" stroke="#111" stroke-width="0.25">0.10</text>
<text transform="matrix(0.623 -0.782 1.000 0.000 283.00 170.00)" font-size="10.8" font-weight="bold" fill="#000" text-anchor="start" textLength="89" lengthAdjust="spacingAndGlyphs">Pump Energy (mJ)</text>
<text x="10.70" y="182.40" font-size="10" font-weight="bold" text-anchor="middle" fill="#000">800</text>
<text x="85.00" y="182.40" font-size="10" font-weight="bold" text-anchor="middle" fill="#000">900</text>
<text x="158.80" y="182.40" font-size="10" font-weight="bold" text-anchor="middle" fill="#000">1000</text>
<text x="233.20" y="182.40" font-size="10" font-weight="bold" text-anchor="middle" fill="#000">1100</text>
<text x="119.80" y="195.60" font-size="10.2" font-weight="bold" text-anchor="middle" fill="#000" textLength="81.5" lengthAdjust="spacingAndGlyphs">Wavelength (nm)</text>
<text x="82.80" y="16.00" font-size="12.2" font-weight="bold" text-anchor="start" fill="#000" textLength="16.7" lengthAdjust="spacingAndGlyphs">(a)</text>
<text x="236.40" y="10.20" font-size="10.8" font-weight="bold" text-anchor="start" fill="#000" textLength="41.3" lengthAdjust="spacingAndGlyphs">(PC0.2)</text>
<rect x="118.7" y="5.5" width="93.89999999999999" height="72.1" fill="#fff" stroke="none"/>
<line x1="118.70" y1="5.50" x2="212.60" y2="5.50" stroke="#000" stroke-width="1.2"/>
<line x1="118.70" y1="77.60" x2="212.60" y2="77.60" stroke="#000" stroke-width="1.2"/>
<line x1="118.70" y1="5.50" x2="118.70" y2="77.60" stroke="#000" stroke-width="1.2"/>
<line x1="212.60" y1="5.50" x2="212.60" y2="77.60" stroke="#ff0000" stroke-width="1.2"/>
<line x1="119.30" y1="77.60" x2="119.30" y2="76.00" stroke="#000" stroke-width="0.8"/>
<line x1="119.30" y1="5.50" x2="119.30" y2="7.10" stroke="#000" stroke-width="0.8"/>
<text x="119.30" y="83.20" font-size="5.2" font-weight="bold" text-anchor="middle" fill="#000">0.1</text>
<line x1="132.00" y1="77.60" x2="132.00" y2="76.00" stroke="#000" stroke-width="0.8"/>
<line x1="132.00" y1="5.50" x2="132.00" y2="7.10" stroke="#000" stroke-width="0.8"/>
<text x="132.00" y="83.20" font-size="5.2" font-weight="bold" text-anchor="middle" fill="#000">0.2</text>
<line x1="144.70" y1="77.60" x2="144.70" y2="76.00" stroke="#000" stroke-width="0.8"/>
<line x1="144.70" y1="5.50" x2="144.70" y2="7.10" stroke="#000" stroke-width="0.8"/>
<text x="144.70" y="83.20" font-size="5.2" font-weight="bold" text-anchor="middle" fill="#000">0.3</text>
<line x1="157.40" y1="77.60" x2="157.40" y2="76.00" stroke="#000" stroke-width="0.8"/>
<line x1="157.40" y1="5.50" x2="157.40" y2="7.10" stroke="#000" stroke-width="0.8"/>
<text x="157.40" y="83.20" font-size="5.2" font-weight="bold" text-anchor="middle" fill="#000">0.4</text>
<line x1="170.10" y1="77.60" x2="170.10" y2="76.00" stroke="#000" stroke-width="0.8"/>
<line x1="170.10" y1="5.50" x2="170.10" y2="7.10" stroke="#000" stroke-width="0.8"/>
<text x="170.10" y="83.20" font-size="5.2" font-weight="bold" text-anchor="middle" fill="#000">0.5</text>
<line x1="182.80" y1="77.60" x2="182.80" y2="76.00" stroke="#000" stroke-width="0.8"/>
<line x1="182.80" y1="5.50" x2="182.80" y2="7.10" stroke="#000" stroke-width="0.8"/>
<text x="182.80" y="83.20" font-size="5.2" font-weight="bold" text-anchor="middle" fill="#000">0.6</text>
<line x1="195.50" y1="77.60" x2="195.50" y2="76.00" stroke="#000" stroke-width="0.8"/>
<line x1="195.50" y1="5.50" x2="195.50" y2="7.10" stroke="#000" stroke-width="0.8"/>
<text x="195.50" y="83.20" font-size="5.2" font-weight="bold" text-anchor="middle" fill="#000">0.7</text>
<line x1="208.20" y1="77.60" x2="208.20" y2="76.00" stroke="#000" stroke-width="0.8"/>
<line x1="208.20" y1="5.50" x2="208.20" y2="7.10" stroke="#000" stroke-width="0.8"/>
<text x="208.20" y="83.20" font-size="5.2" font-weight="bold" text-anchor="middle" fill="#000">0.8</text>
<line x1="118.70" y1="70.30" x2="120.30" y2="70.30" stroke="#000" stroke-width="0.8"/>
<line x1="118.70" y1="70.30" x2="117.50" y2="70.30" stroke="#000" stroke-width="0.8"/>
<text x="116.60" y="72.20" font-size="5.3" font-weight="bold" text-anchor="end" fill="#000">40</text>
<line x1="118.70" y1="56.03" x2="120.30" y2="56.03" stroke="#000" stroke-width="0.8"/>
<line x1="118.70" y1="56.03" x2="117.50" y2="56.03" stroke="#000" stroke-width="0.8"/>
<text x="116.60" y="57.93" font-size="5.3" font-weight="bold" text-anchor="end" fill="#000">60</text>
<line x1="118.70" y1="41.76" x2="120.30" y2="41.76" stroke="#000" stroke-width="0.8"/>
<line x1="118.70" y1="41.76" x2="117.50" y2="41.76" stroke="#000" stroke-width="0.8"/>
<text x="116.60" y="43.66" font-size="5.3" font-weight="bold" text-anchor="end" fill="#000">80</text>
<line x1="118.70" y1="27.50" x2="120.30" y2="27.50" stroke="#000" stroke-width="0.8"/>
<line x1="118.70" y1="27.50" x2="117.50" y2="27.50" stroke="#000" stroke-width="0.8"/>
<text x="116.60" y="29.40" font-size="5.3" font-weight="bold" text-anchor="end" fill="#000">100</text>
<line x1="118.70" y1="13.23" x2="120.30" y2="13.23" stroke="#000" stroke-width="0.8"/>
<line x1="118.70" y1="13.23" x2="117.50" y2="13.23" stroke="#000" stroke-width="0.8"/>
<text x="116.60" y="15.13" font-size="5.3" font-weight="bold" text-anchor="end" fill="#000">120</text>
<line x1="212.60" y1="70.40" x2="214.10" y2="70.40" stroke="#ff0000" stroke-width="0.8"/>
<text x="215.20" y="72.30" font-size="5.3" font-weight="bold" text-anchor="start" fill="#ff0000">0</text>
<line x1="212.60" y1="58.70" x2="214.10" y2="58.70" stroke="#ff0000" stroke-width="0.8"/>
<text x="215.20" y="60.60" font-size="5.3" font-weight="bold" text-anchor="start" fill="#ff0000">10</text>
<line x1="212.60" y1="47.00" x2="214.10" y2="47.00" stroke="#ff0000" stroke-width="0.8"/>
<text x="215.20" y="48.90" font-size="5.3" font-weight="bold" text-anchor="start" fill="#ff0000">20</text>
<line x1="212.60" y1="35.30" x2="214.10" y2="35.30" stroke="#ff0000" stroke-width="0.8"/>
<text x="215.20" y="37.20" font-size="5.3" font-weight="bold" text-anchor="start" fill="#ff0000">30</text>
<line x1="212.60" y1="23.60" x2="214.10" y2="23.60" stroke="#ff0000" stroke-width="0.8"/>
<text x="215.20" y="25.50" font-size="5.3" font-weight="bold" text-anchor="start" fill="#ff0000">40</text>
<line x1="212.60" y1="11.90" x2="214.10" y2="11.90" stroke="#ff0000" stroke-width="0.8"/>
<text x="215.20" y="13.80" font-size="5.3" font-weight="bold" text-anchor="start" fill="#ff0000">50</text>
<text x="106.60" y="41.50" font-size="6.6" font-weight="bold" text-anchor="middle" fill="#000" textLength="55" lengthAdjust="spacingAndGlyphs" transform="rotate(-90 106.60 41.50)">Intensity (arb.units)</text>
<text x="225.70" y="41.00" font-size="6.6" font-weight="bold" text-anchor="middle" fill="#000" textLength="43" lengthAdjust="spacingAndGlyphs" transform="rotate(-90 225.70 41.00)">Linewidth (nm)</text>
<text x="164.00" y="91.30" font-size="7" font-weight="bold" text-anchor="middle" fill="#000" textLength="35" lengthAdjust="spacingAndGlyphs">Energy(mJ)</text>
<rect x="124.80" y="66.70" width="2.6" height="2.6" fill="#000"/>
<rect x="137.20" y="59.50" width="2.6" height="2.6" fill="#000"/>
<rect x="142.50" y="59.00" width="2.6" height="2.6" fill="#000"/>
<rect x="154.90" y="51.30" width="2.6" height="2.6" fill="#000"/>
<rect x="158.80" y="43.60" width="2.6" height="2.6" fill="#000"/>
<rect x="167.40" y="34.50" width="2.6" height="2.6" fill="#000"/>
<rect x="175.10" y="28.90" width="2.6" height="2.6" fill="#000"/>
<rect x="183.70" y="26.10" width="2.6" height="2.6" fill="#000"/>
<rect x="192.60" y="19.80" width="2.6" height="2.6" fill="#000"/>
<rect x="200.10" y="11.20" width="2.6" height="2.6" fill="#000"/>
<rect x="124.80" y="13.70" width="2.6" height="2.6" fill="#ff0000"/>
<rect x="137.20" y="15.70" width="2.6" height="2.6" fill="#ff0000"/>
<rect x="142.50" y="69.00" width="2.6" height="2.6" fill="#ff0000"/>
<rect x="154.90" y="69.00" width="2.6" height="2.6" fill="#ff0000"/>
<rect x="158.80" y="69.00" width="2.6" height="2.6" fill="#ff0000"/>
<rect x="167.40" y="69.00" width="2.6" height="2.6" fill="#ff0000"/>
<rect x="175.10" y="69.00" width="2.6" height="2.6" fill="#ff0000"/>
<rect x="183.70" y="69.00" width="2.6" height="2.6" fill="#ff0000"/>
<rect x="192.60" y="69.00" width="2.6" height="2.6" fill="#ff0000"/>
<rect x="200.10" y="69.00" width="2.6" height="2.6" fill="#ff0000"/>
<rect x="152.5" y="12.4" width="2.4" height="2.4" fill="#000"/>
<rect x="152.5" y="18.8" width="2.4" height="2.4" fill="#ff0000"/>
<text x="158.50" y="15.80" font-size="6" font-weight="bold" text-anchor="start" fill="#000" textLength="22.5" lengthAdjust="spacingAndGlyphs">Intensity</text>
<text x="158.50" y="22.20" font-size="6" font-weight="bold" text-anchor="start" fill="#000" textLength="25.5" lengthAdjust="spacingAndGlyphs">Linewidth</text>
<polygon points="422.0,115.5 422.0,114.8 423.0,114.7 424.0,115.4 425.0,115.0 426.0,114.7 427.0,114.7 428.0,115.2 429.0,114.7 430.0,114.6 431.0,114.3 432.0,114.3 433.0,114.4 434.0,114.1 435.0,114.7 436.0,115.1 437.0,115.2 438.0,115.3 439.0,115.2 440.0,115.6 441.0,115.1 442.0,114.7 443.0,114.5 444.0,114.8 445.0,114.5 446.0,115.0 447.0,115.2 448.0,115.7 449.0,115.4 450.0,115.1 451.0,114.4 452.0,114.7 453.0,115.2 454.0,114.8 455.0,114.7 456.0,114.9 457.0,114.9 458.0,115.1 459.0,115.3 460.0,115.6 461.0,115.0 462.0,114.3 463.0,114.3 464.0,114.9 465.0,115.2 466.0,115.0 467.0,114.6 468.0,114.7 469.0,115.0 470.0,114.8 471.0,114.9 472.0,114.8 473.0,115.1 474.0,115.5 475.0,114.9 476.0,114.7 477.0,115.2 478.0,115.0 479.0,114.6 480.0,115.0 481.0,115.0 482.0,114.2 483.0,114.3 484.0,114.5 485.0,115.0 486.0,114.5 487.0,115.4 488.0,115.2 489.0,114.6 490.0,114.4 491.0,115.2 492.0,115.2 493.0,115.1 494.0,115.5 495.0,114.8 496.0,114.7 497.0,115.0 498.0,114.7 499.0,114.5 500.0,114.7 501.0,114.5 502.0,114.4 503.0,114.9 504.0,114.9 505.0,115.0 506.0,114.6 507.0,114.9 508.0,114.8 509.0,114.8 510.0,114.7 511.0,114.3 512.0,114.6 513.0,114.3 514.0,114.4 515.0,114.4 516.0,114.8 517.0,114.5 518.0,114.6 519.0,115.0 520.0,114.9 521.0,114.9 522.0,114.8 523.0,114.5 524.0,115.2 525.0,115.7 526.0,115.7 527.0,115.3 528.0,115.2 529.0,114.9 530.0,114.5 531.0,114.2 532.0,114.6 533.0,114.8 534.0,115.1 535.0,114.6 536.0,114.2 537.0,114.5 538.0,115.4 539.0,114.6 540.0,114.2 541.0,114.6 542.0,115.4 543.0,115.1 544.0,114.7 545.0,114.8 546.0,115.2 547.0,115.2 548.0,114.8 549.0,115.2 550.0,114.5 551.0,114.7 552.0,114.9 553.0,115.4 554.0,115.2 555.0,114.8 556.0,115.2 557.0,114.4 558.0,115.3 559.0,115.5 560.0,115.0 561.0,114.7 562.0,114.6 563.0,115.0 564.0,115.0 565.0,115.1 566.0,115.4 567.0,115.8 568.0,114.8 569.0,114.7 570.0,114.9 571.0,115.1 572.0,114.9 573.0,114.9 574.0,114.8 575.0,114.7 576.0,115.4 577.0,115.1 578.0,115.3 579.0,115.0 580.0,114.5 581.0,115.2 582.0,115.1 583.0,115.0 584.0,114.7 585.0,115.3 586.0,115.5 587.0,114.9 588.0,115.0 589.0,114.9 590.0,114.6 591.0,115.2 592.0,115.1 593.0,114.8 594.0,114.8 595.0,115.0 596.0,114.4 597.0,114.0 598.0,114.7 599.0,114.5 600.0,115.4 601.0,114.6 602.0,114.9 603.0,114.9 604.0,115.1 605.0,115.3 606.0,115.4 607.0,115.0 608.0,114.4 609.0,114.4 610.0,115.0 611.0,115.2 612.0,115.3 613.0,115.2 614.0,114.2 615.0,114.3 616.0,114.4 617.0,114.3 618.0,113.8 618.2,113.5 618.5,113.1 618.7,112.7 619.0,112.4 619.2,112.2 619.5,112.0 619.7,111.8 620.0,111.6 620.2,111.1 620.5,109.9 620.7,106.7 621.0,99.6 621.2,86.5 621.5,67.3 621.7,45.1 622.0,26.8 622.2,19.7 622.5,27.0 622.7,45.3 623.0,67.5 623.2,86.6 623.5,99.6 623.7,106.7 624.0,110.0 624.2,111.4 624.5,112.0 624.7,112.4 625.0,112.7 625.2,112.9 625.5,113.0 625.7,113.2 626.0,113.4 626.2,113.5 627.0,113.7 628.0,114.0 629.0,114.3 630.0,114.8 631.0,114.2 632.0,114.3 633.0,114.7 634.0,114.8 635.0,115.2 636.0,115.1 637.0,115.4 638.0,115.0 639.0,114.7 640.0,114.3 641.0,114.4 642.0,114.6 643.0,115.0 644.0,115.0 644.0,117.0" fill="#fff" stroke="none"/>
<polyline points="422.0,114.8 423.0,114.7 424.0,115.4 425.0,115.0 426.0,114.7 427.0,114.7 428.0,115.2 429.0,114.7 430.0,114.6" fill="none" stroke="#000" stroke-width="1.3"/>
<polyline points="431.0,114.3 432.0,114.3 433.0,114.4 434.0,114.1 435.0,114.7 436.0,115.1 437.0,115.2 438.0,115.3 439.0,115.2 440.0,115.6 441.0,115.1 442.0,114.7 443.0,114.5 444.0,114.8 445.0,114.5 446.0,115.0 447.0,115.2 448.0,115.7 449.0,115.4 450.0,115.1 451.0,114.4 452.0,114.7 453.0,115.2 454.0,114.8 455.0,114.7 456.0,114.9 457.0,114.9 458.0,115.1 459.0,115.3 460.0,115.6 461.0,115.0 462.0,114.3 463.0,114.3 464.0,114.9 465.0,115.2 466.0,115.0 467.0,114.6 468.0,114.7 469.0,115.0 470.0,114.8 471.0,114.9 472.0,114.8 473.0,115.1 474.0,115.5 475.0,114.9 476.0,114.7 477.0,115.2 478.0,115.0 479.0,114.6 480.0,115.0 481.0,115.0 482.0,114.2 483.0,114.3 484.0,114.5 485.0,115.0 486.0,114.5 487.0,115.4 488.0,115.2 489.0,114.6 490.0,114.4 491.0,115.2 492.0,115.2 493.0,115.1 494.0,115.5 495.0,114.8 496.0,114.7 497.0,115.0 498.0,114.7 499.0,114.5 500.0,114.7 501.0,114.5 502.0,114.4 503.0,114.9 504.0,114.9 505.0,115.0 506.0,114.6 507.0,114.9 508.0,114.8 509.0,114.8 510.0,114.7 511.0,114.3 512.0,114.6 513.0,114.3 514.0,114.4 515.0,114.4 516.0,114.8 517.0,114.5 518.0,114.6 519.0,115.0 520.0,114.9 521.0,114.9 522.0,114.8 523.0,114.5 524.0,115.2 525.0,115.7 526.0,115.7 527.0,115.3 528.0,115.2 529.0,114.9 530.0,114.5 531.0,114.2 532.0,114.6 533.0,114.8 534.0,115.1 535.0,114.6 536.0,114.2 537.0,114.5 538.0,115.4 539.0,114.6 540.0,114.2 541.0,114.6 542.0,115.4 543.0,115.1 544.0,114.7 545.0,114.8 546.0,115.2 547.0,115.2 548.0,114.8 549.0,115.2 550.0,114.5 551.0,114.7 552.0,114.9 553.0,115.4 554.0,115.2 555.0,114.8 556.0,115.2 557.0,114.4 558.0,115.3 559.0,115.5 560.0,115.0 561.0,114.7 562.0,114.6 563.0,115.0 564.0,115.0 565.0,115.1 566.0,115.4 567.0,115.8 568.0,114.8 569.0,114.7 570.0,114.9 571.0,115.1 572.0,114.9 573.0,114.9 574.0,114.8 575.0,114.7 576.0,115.4 577.0,115.1 578.0,115.3 579.0,115.0" fill="none" stroke="#999" stroke-width="0.6" stroke-dasharray="1.5,2.5"/>
<polyline points="580.0,114.5 581.0,115.2 582.0,115.1 583.0,115.0 584.0,114.7 585.0,115.3 586.0,115.5 587.0,114.9 588.0,115.0 589.0,114.9 590.0,114.6 591.0,115.2 592.0,115.1 593.0,114.8 594.0,114.8 595.0,115.0 596.0,114.4 597.0,114.0 598.0,114.7 599.0,114.5 600.0,115.4 601.0,114.6 602.0,114.9 603.0,114.9 604.0,115.1 605.0,115.3 606.0,115.4 607.0,115.0 608.0,114.4 609.0,114.4 610.0,115.0 611.0,115.2 612.0,115.3 613.0,115.2 614.0,114.2 615.0,114.3 616.0,114.4 617.0,114.3 618.0,113.8 618.2,113.5 618.5,113.1 618.7,112.7 619.0,112.4 619.2,112.2 619.5,112.0 619.7,111.8 620.0,111.6 620.2,111.1 620.5,109.9 620.7,106.7 621.0,99.6 621.2,86.5 621.5,67.3 621.7,45.1 622.0,26.8 622.2,19.7 622.5,27.0 622.7,45.3 623.0,67.5 623.2,86.6 623.5,99.6 623.7,106.7 624.0,110.0 624.2,111.4 624.5,112.0 624.7,112.4 625.0,112.7 625.2,112.9 625.5,113.0 625.7,113.2 626.0,113.4 626.2,113.5 627.0,113.7 628.0,114.0 629.0,114.3 630.0,114.8 631.0,114.2 632.0,114.3 633.0,114.7 634.0,114.8 635.0,115.2 636.0,115.1 637.0,115.4 638.0,115.0 639.0,114.7 640.0,114.3 641.0,114.4 642.0,114.6 643.0,115.0 644.0,115.0 644.0,117.0" fill="none" stroke="#000" stroke-width="1.2" stroke-linejoin="round"/>
<polygon points="414.1,122.6 414.1,122.0 415.1,121.5 416.1,121.8 417.1,121.4 418.1,121.5 419.1,122.0 420.1,121.8 421.1,121.5 422.1,122.0 423.1,122.0 424.1,122.2 425.1,122.1 426.1,122.1 427.1,121.9 428.1,121.5 429.1,121.4 430.1,121.8 431.1,121.8 432.1,121.7 433.1,122.1 434.1,122.3 435.1,121.8 436.1,122.2 437.1,121.8 438.1,122.1 439.1,121.5 440.1,122.1 441.1,121.7 442.1,121.5 443.1,122.1 444.1,121.6 445.1,122.3 446.1,122.6 447.1,121.8 448.1,121.7 449.1,122.2 450.1,122.9 451.1,122.3 452.1,122.1 453.1,122.2 454.1,122.3 455.1,122.7 456.1,122.2 457.1,121.3 458.1,121.3 459.1,122.1 460.1,122.2 461.1,121.8 462.1,121.5 463.1,121.8 464.1,122.3 465.1,122.0 466.1,121.8 467.1,121.4 468.1,121.4 469.1,121.6 470.1,121.6 471.1,121.9 472.1,121.5 473.1,122.0 474.1,121.8 475.1,121.7 476.1,122.3 477.1,122.5 478.1,122.7 479.1,122.1 480.1,122.0 481.1,122.1 482.1,122.0 483.1,122.7 484.1,122.2 485.1,122.0 486.1,122.0 487.1,121.6 488.1,121.4 489.1,122.1 490.1,122.4 491.1,122.3 492.1,122.0 493.1,121.9 494.1,122.2 495.1,121.8 496.1,122.2 497.1,121.8 498.1,121.7 499.1,121.6 500.1,121.2 501.1,121.9 502.1,122.0 503.1,121.8 504.1,121.8 505.1,122.4 506.1,122.1 507.1,122.2 508.1,121.7 509.1,121.5 510.1,121.9 511.1,122.0 512.1,122.2 513.1,122.9 514.1,121.9 515.1,121.7 516.1,121.9 517.1,122.2 518.1,122.3 519.1,122.0 520.1,121.6 521.1,121.8 522.1,121.8 523.1,122.8 524.1,122.4 525.1,122.0 526.1,122.1 527.1,122.6 528.1,122.3 529.1,121.7 530.1,122.4 531.1,122.6 532.1,122.5 533.1,122.2 534.1,121.8 535.1,121.9 536.1,122.5 537.1,121.7 538.1,122.1 539.1,122.1 540.1,121.5 541.1,122.0 542.1,122.5 543.1,122.4 544.1,122.4 545.1,122.4 546.1,122.1 547.1,121.7 548.1,121.9 549.1,122.2 550.1,121.2 551.1,122.1 552.1,122.0 553.1,121.9 554.1,121.8 555.1,122.0 556.1,121.7 557.1,121.2 558.1,121.9 559.1,122.3 560.1,122.0 561.1,122.3 562.1,122.2 563.1,121.9 564.1,121.9 565.1,122.0 566.1,121.7 567.1,122.1 568.1,122.4 569.1,121.8 570.1,121.9 571.1,121.7 572.1,122.1 573.1,121.8 574.1,122.1 575.1,123.0 576.1,122.8 577.1,122.4 578.1,121.8 579.1,122.5 580.1,121.7 581.1,121.5 582.1,121.7 583.1,121.8 584.1,122.1 585.1,122.0 586.1,121.9 587.1,121.8 588.1,121.7 589.1,122.1 590.1,122.3 591.1,122.2 592.1,122.1 593.1,122.7 594.1,122.6 595.1,122.3 596.1,122.3 597.1,122.4 598.1,123.0 599.1,122.4 600.1,122.1 601.1,121.9 602.1,122.6 603.1,122.2 604.1,121.8 605.1,121.7 606.1,121.4 607.1,121.5 608.1,121.9 609.1,121.3 610.1,121.1 610.3,121.0 610.5,120.9 610.8,120.8 611.0,120.7 611.3,120.4 611.5,120.1 611.8,119.8 612.0,119.5 612.3,119.2 612.5,118.3 612.8,116.1 613.0,111.0 613.3,101.7 613.5,88.0 613.8,72.2 614.0,59.1 614.3,54.0 614.5,59.1 614.8,72.2 615.0,88.1 615.3,101.8 615.5,111.2 615.8,116.3 616.0,118.7 616.3,119.6 616.5,119.8 616.8,119.9 617.0,119.9 617.3,120.0 617.5,120.2 617.8,120.3 618.0,120.4 618.3,120.5 619.1,120.7 620.1,121.4 621.1,121.9 622.1,121.7 623.1,122.1 624.1,122.2 625.1,122.1 626.1,121.9 627.1,121.6 628.1,122.1 629.1,121.9 630.1,122.1 631.1,122.5 632.1,122.5 633.1,122.1 634.1,121.9 635.1,121.8 636.1,121.8 636.1,124.1" fill="#fff" stroke="none"/>
<polyline points="414.1,122.0 415.1,121.5 416.1,121.8 417.1,121.4 418.1,121.5 419.1,122.0 420.1,121.8 421.1,121.5 422.1,122.0 423.1,122.0 424.1,122.2 425.1,122.1 426.1,122.1 427.1,121.9 428.1,121.5 429.1,121.4 430.1,121.8 431.1,121.8 432.1,121.7 433.1,122.1 434.1,122.3 435.1,121.8 436.1,122.2 437.1,121.8 438.1,122.1 439.1,121.5 440.1,122.1 441.1,121.7 442.1,121.5 443.1,122.1 444.1,121.6 445.1,122.3 446.1,122.6 447.1,121.8 448.1,121.7 449.1,122.2 450.1,122.9 451.1,122.3 452.1,122.1 453.1,122.2 454.1,122.3 455.1,122.7 456.1,122.2 457.1,121.3 458.1,121.3 459.1,122.1 460.1,122.2 461.1,121.8 462.1,121.5 463.1,121.8 464.1,122.3 465.1,122.0 466.1,121.8 467.1,121.4 468.1,121.4 469.1,121.6 470.1,121.6 471.1,121.9 472.1,121.5 473.1,122.0 474.1,121.8 475.1,121.7 476.1,122.3 477.1,122.5 478.1,122.7 479.1,122.1 480.1,122.0 481.1,122.1 482.1,122.0 483.1,122.7 484.1,122.2 485.1,122.0 486.1,122.0 487.1,121.6 488.1,121.4 489.1,122.1 490.1,122.4 491.1,122.3 492.1,122.0 493.1,121.9 494.1,122.2 495.1,121.8 496.1,122.2 497.1,121.8 498.1,121.7 499.1,121.6 500.1,121.2 501.1,121.9 502.1,122.0 503.1,121.8 504.1,121.8 505.1,122.4 506.1,122.1 507.1,122.2 508.1,121.7 509.1,121.5 510.1,121.9 511.1,122.0 512.1,122.2 513.1,122.9 514.1,121.9 515.1,121.7 516.1,121.9 517.1,122.2 518.1,122.3 519.1,122.0 520.1,121.6 521.1,121.8 522.1,121.8 523.1,122.8 524.1,122.4 525.1,122.0 526.1,122.1 527.1,122.6 528.1,122.3 529.1,121.7 530.1,122.4 531.1,122.6 532.1,122.5 533.1,122.2 534.1,121.8 535.1,121.9 536.1,122.5 537.1,121.7 538.1,122.1 539.1,122.1 540.1,121.5 541.1,122.0 542.1,122.5 543.1,122.4 544.1,122.4 545.1,122.4 546.1,122.1 547.1,121.7 548.1,121.9 549.1,122.2 550.1,121.2 551.1,122.1 552.1,122.0 553.1,121.9 554.1,121.8 555.1,122.0 556.1,121.7 557.1,121.2 558.1,121.9 559.1,122.3 560.1,122.0 561.1,122.3 562.1,122.2 563.1,121.9 564.1,121.9 565.1,122.0 566.1,121.7 567.1,122.1 568.1,122.4 569.1,121.8 570.1,121.9 571.1,121.7 572.1,122.1 573.1,121.8 574.1,122.1 575.1,123.0 576.1,122.8 577.1,122.4 578.1,121.8 579.1,122.5 580.1,121.7 581.1,121.5 582.1,121.7 583.1,121.8 584.1,122.1 585.1,122.0 586.1,121.9 587.1,121.8 588.1,121.7 589.1,122.1 590.1,122.3 591.1,122.2 592.1,122.1 593.1,122.7 594.1,122.6 595.1,122.3 596.1,122.3 597.1,122.4 598.1,123.0 599.1,122.4 600.1,122.1 601.1,121.9 602.1,122.6 603.1,122.2 604.1,121.8 605.1,121.7 606.1,121.4 607.1,121.5 608.1,121.9 609.1,121.3 610.1,121.1 610.3,121.0 610.5,120.9 610.8,120.8 611.0,120.7 611.3,120.4 611.5,120.1 611.8,119.8 612.0,119.5 612.3,119.2 612.5,118.3 612.8,116.1 613.0,111.0 613.3,101.7 613.5,88.0 613.8,72.2 614.0,59.1 614.3,54.0 614.5,59.1 614.8,72.2 615.0,88.1 615.3,101.8 615.5,111.2 615.8,116.3 616.0,118.7 616.3,119.6 616.5,119.8 616.8,119.9 617.0,119.9 617.3,120.0 617.5,120.2 617.8,120.3 618.0,120.4 618.3,120.5 619.1,120.7 620.1,121.4 621.1,121.9 622.1,121.7 623.1,122.1 624.1,122.2 625.1,122.1 626.1,121.9 627.1,121.6 628.1,122.1 629.1,121.9 630.1,122.1 631.1,122.5 632.1,122.5 633.1,122.1 634.1,121.9 635.1,121.8 636.1,121.8 636.1,124.1" fill="none" stroke="#ff0000" stroke-width="1.1" stroke-linejoin="round"/>
<polygon points="405.7,130.7 405.7,130.4 406.7,130.4 407.7,130.3 408.7,130.2 409.7,130.4 410.7,130.4 411.7,130.6 412.7,130.2 413.7,130.3 414.7,130.2 415.7,130.9 416.7,130.5 417.7,130.3 418.7,130.8 419.7,130.4 420.7,130.1 421.7,130.2 422.7,130.5 423.7,130.1 424.7,130.1 425.7,130.3 426.7,130.0 427.7,130.1 428.7,130.1 429.7,130.2 430.7,130.0 431.7,130.0 432.7,129.7 433.7,129.9 434.7,130.3 435.7,130.1 436.7,129.9 437.7,130.1 438.7,130.0 439.7,129.9 440.7,130.3 441.7,130.8 442.7,130.2 443.7,130.0 444.7,130.1 445.7,130.2 446.7,129.8 447.7,130.1 448.7,130.3 449.7,130.3 450.7,130.1 451.7,130.5 452.7,130.3 453.7,129.5 454.7,129.5 455.7,129.6 456.7,129.6 457.7,130.0 458.7,130.5 459.7,129.8 460.7,129.6 461.7,130.0 462.7,130.5 463.7,129.8 464.7,129.7 465.7,130.1 466.7,130.0 467.7,129.9 468.7,130.0 469.7,129.8 470.7,129.9 471.7,129.9 472.7,130.1 473.7,130.6 474.7,130.3 475.7,129.2 476.7,129.7 477.7,129.6 478.7,129.6 479.7,129.5 480.7,129.9 481.7,130.2 482.7,130.3 483.7,130.7 484.7,130.2 485.7,130.0 486.7,130.6 487.7,130.1 488.7,129.8 489.7,129.7 490.7,130.3 491.7,130.5 492.7,130.8 493.7,130.5 494.7,129.9 495.7,129.6 496.7,130.2 497.7,129.8 498.7,129.9 499.7,130.1 500.7,129.7 501.7,130.7 502.7,130.3 503.7,129.9 504.7,129.3 505.7,129.3 506.7,129.3 507.7,129.8 508.7,129.7 509.7,129.6 510.7,129.8 511.7,130.0 512.7,130.2 513.7,130.3 514.7,130.3 515.7,129.7 516.7,130.2 517.7,130.7 518.7,130.2 519.7,130.1 520.7,129.9 521.7,129.6 522.7,130.0 523.7,130.2 524.7,130.3 525.7,130.2 526.7,130.2 527.7,129.8 528.7,129.2 529.7,129.8 530.7,130.2 531.7,129.5 532.7,129.7 533.7,129.7 534.7,129.8 535.7,129.8 536.7,129.7 537.7,129.6 538.7,129.6 539.7,129.7 540.7,130.1 541.7,130.2 542.7,130.2 543.7,129.8 544.7,129.8 545.7,130.1 546.7,129.8 547.7,129.2 548.7,129.6 549.7,130.3 550.7,130.2 551.7,129.9 552.7,130.0 553.7,129.9 554.7,129.7 555.7,130.0 556.7,130.3 557.7,130.0 558.7,130.1 559.7,130.1 560.7,130.4 561.7,130.6 562.7,130.6 563.7,130.4 564.7,130.6 565.7,130.9 566.7,130.0 567.7,130.4 568.7,130.4 569.7,130.2 570.7,130.7 571.7,129.9 572.7,130.2 573.7,130.0 574.7,130.2 575.7,130.0 576.7,130.1 577.7,130.2 578.7,130.7 579.7,130.7 580.7,130.1 581.7,129.7 582.7,130.1 583.7,130.0 584.7,130.0 585.7,129.9 586.7,129.9 587.7,130.4 588.7,130.1 589.7,130.2 590.7,130.3 591.7,130.4 592.7,130.5 593.7,130.5 594.7,130.3 595.7,129.3 596.7,129.4 597.7,129.9 598.7,129.8 599.7,130.3 600.7,130.6 601.7,130.0 601.9,129.7 602.1,129.4 602.4,129.2 602.6,128.9 602.9,128.6 603.1,128.4 603.4,128.2 603.6,127.9 603.9,127.6 604.1,126.9 604.4,125.0 604.6,120.8 604.9,113.1 605.1,101.7 605.4,88.5 605.6,77.7 605.9,73.4 606.1,77.6 606.4,88.6 606.6,101.8 606.9,113.3 607.1,121.1 607.4,125.5 607.6,127.6 607.9,128.4 608.1,128.7 608.4,128.9 608.6,129.1 608.9,129.1 609.1,129.2 609.4,129.2 609.6,129.3 609.9,129.4 610.7,129.7 611.7,130.1 612.7,130.3 613.7,130.3 614.7,130.0 615.7,129.7 616.7,129.9 617.7,129.6 618.7,130.4 619.7,130.2 620.7,130.4 621.7,130.2 622.7,130.0 623.7,129.9 624.7,129.8 625.7,130.3 626.7,130.5 627.7,130.2 627.7,132.2" fill="#fff" stroke="none"/>
<polyline points="405.7,130.4 406.7,130.4 407.7,130.3 408.7,130.2 409.7,130.4 410.7,130.4 411.7,130.6 412.7,130.2 413.7,130.3 414.7,130.2 415.7,130.9 416.7,130.5 417.7,130.3 418.7,130.8 419.7,130.4 420.7,130.1 421.7,130.2 422.7,130.5 423.7,130.1 424.7,130.1 425.7,130.3 426.7,130.0 427.7,130.1 428.7,130.1 429.7,130.2 430.7,130.0 431.7,130.0 432.7,129.7 433.7,129.9 434.7,130.3 435.7,130.1 436.7,129.9 437.7,130.1 438.7,130.0 439.7,129.9 440.7,130.3 441.7,130.8 442.7,130.2 443.7,130.0 444.7,130.1 445.7,130.2 446.7,129.8 447.7,130.1 448.7,130.3 449.7,130.3 450.7,130.1 451.7,130.5 452.7,130.3 453.7,129.5 454.7,129.5 455.7,129.6 456.7,129.6 457.7,130.0 458.7,130.5 459.7,129.8 460.7,129.6 461.7,130.0 462.7,130.5 463.7,129.8 464.7,129.7 465.7,130.1 466.7,130.0 467.7,129.9 468.7,130.0 469.7,129.8 470.7,129.9 471.7,129.9 472.7,130.1 473.7,130.6 474.7,130.3 475.7,129.2 476.7,129.7 477.7,129.6 478.7,129.6 479.7,129.5 480.7,129.9 481.7,130.2 482.7,130.3 483.7,130.7 484.7,130.2 485.7,130.0 486.7,130.6 487.7,130.1 488.7,129.8 489.7,129.7 490.7,130.3 491.7,130.5 492.7,130.8 493.7,130.5 494.7,129.9 495.7,129.6 496.7,130.2 497.7,129.8 498.7,129.9 499.7,130.1 500.7,129.7 501.7,130.7 502.7,130.3 503.7,129.9 504.7,129.3 505.7,129.3 506.7,129.3 507.7,129.8 508.7,129.7 509.7,129.6 510.7,129.8 511.7,130.0 512.7,130.2 513.7,130.3 514.7,130.3 515.7,129.7 516.7,130.2 517.7,130.7 518.7,130.2 519.7,130.1 520.7,129.9 521.7,129.6 522.7,130.0 523.7,130.2 524.7,130.3 525.7,130.2 526.7,130.2 527.7,129.8 528.7,129.2 529.7,129.8 530.7,130.2 531.7,129.5 532.7,129.7 533.7,129.7 534.7,129.8 535.7,129.8 536.7,129.7 537.7,129.6 538.7,129.6 539.7,129.7 540.7,130.1 541.7,130.2 542.7,130.2 543.7,129.8 544.7,129.8 545.7,130.1 546.7,129.8 547.7,129.2 548.7,129.6 549.7,130.3 550.7,130.2 551.7,129.9 552.7,130.0 553.7,129.9 554.7,129.7 555.7,130.0 556.7,130.3 557.7,130.0 558.7,130.1 559.7,130.1 560.7,130.4 561.7,130.6 562.7,130.6 563.7,130.4 564.7,130.6 565.7,130.9 566.7,130.0 567.7,130.4 568.7,130.4 569.7,130.2 570.7,130.7 571.7,129.9 572.7,130.2 573.7,130.0 574.7,130.2 575.7,130.0 576.7,130.1 577.7,130.2 578.7,130.7 579.7,130.7 580.7,130.1 581.7,129.7 582.7,130.1 583.7,130.0 584.7,130.0 585.7,129.9 586.7,129.9 587.7,130.4 588.7,130.1 589.7,130.2 590.7,130.3 591.7,130.4 592.7,130.5 593.7,130.5 594.7,130.3 595.7,129.3 596.7,129.4 597.7,129.9 598.7,129.8 599.7,130.3 600.7,130.6 601.7,130.0 601.9,129.7 602.1,129.4 602.4,129.2 602.6,128.9 602.9,128.6 603.1,128.4 603.4,128.2 603.6,127.9 603.9,127.6 604.1,126.9 604.4,125.0 604.6,120.8 604.9,113.1 605.1,101.7 605.4,88.5 605.6,77.7 605.9,73.4 606.1,77.6 606.4,88.6 606.6,101.8 606.9,113.3 607.1,121.1 607.4,125.5 607.6,127.6 607.9,128.4 608.1,128.7 608.4,128.9 608.6,129.1 608.9,129.1 609.1,129.2 609.4,129.2 609.6,129.3 609.9,129.4 610.7,129.7 611.7,130.1 612.7,130.3 613.7,130.3 614.7,130.0 615.7,129.7 616.7,129.9 617.7,129.6 618.7,130.4 619.7,130.2 620.7,130.4 621.7,130.2 622.7,130.0 623.7,129.9 624.7,129.8 625.7,130.3 626.7,130.5 627.7,130.2 627.7,132.2" fill="none" stroke="#0000ff" stroke-width="1.1" stroke-linejoin="round"/>
<polygon points="397.8,138.1 397.8,138.1 398.8,137.6 399.8,137.7 400.8,137.9 401.8,137.1 402.8,137.3 403.8,137.6 404.8,137.3 405.8,137.2 406.8,137.1 407.8,137.2 408.8,137.4 409.8,137.9 410.8,137.7 411.8,137.7 412.8,138.3 413.8,137.0 414.8,137.5 415.8,138.1 416.8,138.2 417.8,137.6 418.8,137.5 419.8,137.7 420.8,137.8 421.8,137.9 422.8,137.9 423.8,137.7 424.8,137.7 425.8,137.3 426.8,137.5 427.8,137.4 428.8,137.2 429.8,137.0 430.8,137.2 431.8,137.4 432.8,137.6 433.8,137.8 434.8,137.6 435.8,137.3 436.8,137.4 437.8,137.7 438.8,138.1 439.8,138.1 440.8,137.4 441.8,137.1 442.8,137.4 443.8,138.0 444.8,137.7 445.8,137.5 446.8,137.8 447.8,137.5 448.8,137.6 449.8,137.9 450.8,137.9 451.8,137.3 452.8,137.4 453.8,137.9 454.8,137.9 455.8,137.2 456.8,137.2 457.8,137.4 458.8,137.0 459.8,137.6 460.8,137.8 461.8,137.2 462.8,137.4 463.8,137.4 464.8,137.5 465.8,138.0 466.8,138.0 467.8,137.6 468.8,137.1 469.8,137.6 470.8,137.1 471.8,137.4 472.8,137.8 473.8,137.5 474.8,137.4 475.8,138.0 476.8,138.3 477.8,137.7 478.8,137.8 479.8,137.6 480.8,138.2 481.8,137.8 482.8,137.9 483.8,138.1 484.8,137.7 485.8,137.5 486.8,137.8 487.8,138.0 488.8,137.7 489.8,138.1 490.8,137.4 491.8,137.1 492.8,136.8 493.8,137.0 494.8,137.3 495.8,137.4 496.8,137.6 497.8,137.8 498.8,137.1 499.8,137.2 500.8,137.7 501.8,137.8 502.8,137.0 503.8,137.3 504.8,137.8 505.8,137.2 506.8,136.8 507.8,137.3 508.8,137.4 509.8,137.7 510.8,137.7 511.8,136.9 512.8,136.3 513.8,137.2 514.8,137.5 515.8,137.3 516.8,137.5 517.8,137.2 518.8,137.2 519.8,137.9 520.8,138.0 521.8,137.5 522.8,137.2 523.8,137.2 524.8,137.2 525.8,137.8 526.8,137.5 527.8,137.7 528.8,137.5 529.8,137.5 530.8,137.8 531.8,137.8 532.8,137.9 533.8,137.6 534.8,137.8 535.8,137.7 536.8,137.5 537.8,137.6 538.8,137.2 539.8,137.5 540.8,137.2 541.8,137.4 542.8,137.9 543.8,137.7 544.8,137.8 545.8,137.7 546.8,137.5 547.8,136.9 548.8,137.3 549.8,136.9 550.8,137.3 551.8,138.1 552.8,138.4 553.8,137.6 554.8,138.1 555.8,137.3 556.8,137.0 557.8,137.3 558.8,137.6 559.8,137.6 560.8,137.5 561.8,137.6 562.8,137.7 563.8,137.6 564.8,137.2 565.8,137.6 566.8,137.5 567.8,137.9 568.8,138.0 569.8,138.1 570.8,137.6 571.8,137.3 572.8,137.4 573.8,137.6 574.8,137.4 575.8,137.5 576.8,137.4 577.8,137.3 578.8,137.5 579.8,138.4 580.8,138.1 581.8,137.4 582.8,137.3 583.8,136.7 584.8,137.4 585.8,137.6 586.8,137.0 587.8,137.0 588.8,136.7 589.8,137.1 590.8,137.4 591.8,137.1 592.8,137.4 593.8,137.2 594.0,137.1 594.2,137.1 594.5,137.0 594.8,136.9 595.0,136.8 595.2,136.7 595.5,136.5 595.8,136.4 596.0,136.1 596.2,135.4 596.5,134.0 596.8,131.0 597.0,125.8 597.2,118.1 597.5,109.2 597.8,101.9 598.0,99.0 598.2,101.8 598.5,109.2 598.8,118.2 599.0,125.9 599.2,131.2 599.5,134.2 599.8,135.6 600.0,136.1 600.2,136.3 600.5,136.4 600.8,136.5 601.0,136.7 601.2,137.0 601.5,137.4 601.8,137.7 602.0,137.7 602.8,137.4 603.8,137.3 604.8,137.7 605.8,137.2 606.8,137.2 607.8,136.9 608.8,137.0 609.8,137.2 610.8,137.6 611.8,137.9 612.8,137.7 613.8,137.7 614.8,137.5 615.8,137.4 616.8,136.6 617.8,137.7 618.8,137.3 619.8,137.6 619.8,139.6" fill="#fff" stroke="none"/>
<polyline points="397.8,138.1 398.8,137.6 399.8,137.7 400.8,137.9 401.8,137.1 402.8,137.3 403.8,137.6 404.8,137.3 405.8,137.2 406.8,137.1 407.8,137.2 408.8,137.4 409.8,137.9 410.8,137.7 411.8,137.7 412.8,138.3 413.8,137.0 414.8,137.5 415.8,138.1 416.8,138.2 417.8,137.6 418.8,137.5 419.8,137.7 420.8,137.8 421.8,137.9 422.8,137.9 423.8,137.7 424.8,137.7 425.8,137.3 426.8,137.5 427.8,137.4 428.8,137.2 429.8,137.0 430.8,137.2 431.8,137.4 432.8,137.6 433.8,137.8 434.8,137.6 435.8,137.3 436.8,137.4 437.8,137.7 438.8,138.1 439.8,138.1 440.8,137.4 441.8,137.1 442.8,137.4 443.8,138.0 444.8,137.7 445.8,137.5 446.8,137.8 447.8,137.5 448.8,137.6 449.8,137.9 450.8,137.9 451.8,137.3 452.8,137.4 453.8,137.9 454.8,137.9 455.8,137.2 456.8,137.2 457.8,137.4 458.8,137.0 459.8,137.6 460.8,137.8 461.8,137.2 462.8,137.4 463.8,137.4 464.8,137.5 465.8,138.0 466.8,138.0 467.8,137.6 468.8,137.1 469.8,137.6 470.8,137.1 471.8,137.4 472.8,137.8 473.8,137.5 474.8,137.4 475.8,138.0 476.8,138.3 477.8,137.7 478.8,137.8 479.8,137.6 480.8,138.2 481.8,137.8 482.8,137.9 483.8,138.1 484.8,137.7 485.8,137.5 486.8,137.8 487.8,138.0 488.8,137.7 489.8,138.1 490.8,137.4 491.8,137.1 492.8,136.8 493.8,137.0 494.8,137.3 495.8,137.4 496.8,137.6 497.8,137.8 498.8,137.1 499.8,137.2 500.8,137.7 501.8,137.8 502.8,137.0 503.8,137.3 504.8,137.8 505.8,137.2 506.8,136.8 507.8,137.3 508.8,137.4 509.8,137.7 510.8,137.7 511.8,136.9 512.8,136.3 513.8,137.2 514.8,137.5 515.8,137.3 516.8,137.5 517.8,137.2 518.8,137.2 519.8,137.9 520.8,138.0 521.8,137.5 522.8,137.2 523.8,137.2 524.8,137.2 525.8,137.8 526.8,137.5 527.8,137.7 528.8,137.5 529.8,137.5 530.8,137.8 531.8,137.8 532.8,137.9 533.8,137.6 534.8,137.8 535.8,137.7 536.8,137.5 537.8,137.6 538.8,137.2 539.8,137.5 540.8,137.2 541.8,137.4 542.8,137.9 543.8,137.7 544.8,137.8 545.8,137.7 546.8,137.5 547.8,136.9 548.8,137.3 549.8,136.9 550.8,137.3 551.8,138.1 552.8,138.4 553.8,137.6 554.8,138.1 555.8,137.3 556.8,137.0 557.8,137.3 558.8,137.6 559.8,137.6 560.8,137.5 561.8,137.6 562.8,137.7 563.8,137.6 564.8,137.2 565.8,137.6 566.8,137.5 567.8,137.9 568.8,138.0 569.8,138.1 570.8,137.6 571.8,137.3 572.8,137.4 573.8,137.6 574.8,137.4 575.8,137.5 576.8,137.4 577.8,137.3 578.8,137.5 579.8,138.4 580.8,138.1 581.8,137.4 582.8,137.3 583.8,136.7 584.8,137.4 585.8,137.6 586.8,137.0 587.8,137.0 588.8,136.7 589.8,137.1 590.8,137.4 591.8,137.1 592.8,137.4 593.8,137.2 594.0,137.1 594.2,137.1 594.5,137.0 594.8,136.9 595.0,136.8 595.2,136.7 595.5,136.5 595.8,136.4 596.0,136.1 596.2,135.4 596.5,134.0 596.8,131.0 597.0,125.8 597.2,118.1 597.5,109.2 597.8,101.9 598.0,99.0 598.2,101.8 598.5,109.2 598.8,118.2 599.0,125.9 599.2,131.2 599.5,134.2 599.8,135.6 600.0,136.1 600.2,136.3 600.5,136.4 600.8,136.5 601.0,136.7 601.2,137.0 601.5,137.4 601.8,137.7 602.0,137.7 602.8,137.4 603.8,137.3 604.8,137.7 605.8,137.2 606.8,137.2 607.8,136.9 608.8,137.0 609.8,137.2 610.8,137.6 611.8,137.9 612.8,137.7 613.8,137.7 614.8,137.5 615.8,137.4 616.8,136.6 617.8,137.7 618.8,137.3 619.8,137.6 619.8,139.6" fill="none" stroke="#ff00ff" stroke-width="1.1" stroke-linejoin="round"/>
<polygon points="389.4,145.7 389.4,145.3 390.4,145.5 391.4,145.4 392.4,145.0 393.4,145.0 394.4,145.0 395.4,144.4 396.4,144.8 397.4,145.2 398.4,145.1 399.4,145.3 400.4,146.0 401.4,145.9 402.4,145.5 403.4,144.6 404.4,145.0 405.4,145.2 406.4,145.2 407.4,144.8 408.4,144.9 409.4,144.5 410.4,144.6 411.4,144.5 412.4,145.0 413.4,145.0 414.4,145.2 415.4,145.3 416.4,145.7 417.4,145.5 418.4,145.5 419.4,145.3 420.4,144.7 421.4,144.8 422.4,144.6 423.4,144.6 424.4,144.6 425.4,144.7 426.4,145.1 427.4,144.9 428.4,145.2 429.4,145.2 430.4,144.6 431.4,144.4 432.4,145.1 433.4,144.5 434.4,144.8 435.4,145.3 436.4,145.0 437.4,144.9 438.4,145.0 439.4,145.3 440.4,145.5 441.4,145.1 442.4,144.8 443.4,144.7 444.4,144.7 445.4,144.8 446.4,145.3 447.4,145.2 448.4,144.9 449.4,144.7 450.4,144.9 451.4,144.9 452.4,144.8 453.4,144.6 454.4,145.6 455.4,145.1 456.4,144.3 457.4,145.0 458.4,145.7 459.4,145.3 460.4,145.6 461.4,145.4 462.4,144.9 463.4,144.5 464.4,144.8 465.4,144.8 466.4,144.7 467.4,145.0 468.4,145.4 469.4,145.2 470.4,145.0 471.4,145.2 472.4,145.4 473.4,145.4 474.4,145.7 475.4,145.6 476.4,145.2 477.4,145.2 478.4,145.0 479.4,144.6 480.4,144.9 481.4,145.2 482.4,145.6 483.4,145.5 484.4,145.1 485.4,145.3 486.4,145.1 487.4,145.4 488.4,145.1 489.4,145.0 490.4,144.8 491.4,145.2 492.4,145.2 493.4,145.0 494.4,144.9 495.4,144.6 496.4,145.1 497.4,145.3 498.4,145.2 499.4,145.0 500.4,144.9 501.4,145.0 502.4,145.3 503.4,144.3 504.4,144.3 505.4,145.1 506.4,145.5 507.4,145.1 508.4,145.1 509.4,145.8 510.4,145.4 511.4,145.5 512.4,145.0 513.4,144.5 514.4,144.8 515.4,145.4 516.4,144.7 517.4,144.7 518.4,145.1 519.4,144.8 520.4,144.6 521.4,145.1 522.4,145.2 523.4,145.2 524.4,144.9 525.4,145.6 526.4,144.9 527.4,145.2 528.4,145.0 529.4,145.6 530.4,145.6 531.4,145.3 532.4,145.0 533.4,145.5 534.4,145.1 535.4,145.2 536.4,144.8 537.4,145.1 538.4,145.0 539.4,145.0 540.4,144.6 541.4,145.1 542.4,145.0 543.4,144.4 544.4,144.9 545.4,144.9 546.4,145.3 547.4,145.3 548.4,145.8 549.4,145.3 550.4,145.4 551.4,145.8 552.4,145.6 553.4,144.8 554.4,145.0 555.4,145.4 556.4,144.7 557.4,145.2 558.4,145.3 559.4,145.1 560.4,145.6 561.4,145.8 562.4,145.4 563.4,144.7 564.4,144.8 565.4,145.4 566.4,144.8 567.4,145.0 568.4,144.9 569.4,145.0 570.4,145.0 571.4,145.5 572.4,145.5 573.4,145.4 574.4,145.2 575.4,145.0 576.4,145.3 577.4,144.7 578.4,145.2 579.4,145.3 580.4,144.9 581.4,144.9 582.4,145.2 583.4,145.4 584.4,145.3 585.4,145.1 585.6,144.9 585.8,144.6 586.1,144.4 586.3,144.1 586.6,143.9 586.8,143.8 587.1,143.6 587.3,143.5 587.6,143.2 587.8,142.7 588.1,141.6 588.3,139.0 588.6,134.6 588.8,128.1 589.1,120.5 589.3,114.3 589.6,111.9 589.8,114.4 590.1,120.7 590.3,128.4 590.6,135.0 590.8,139.5 591.1,141.9 591.3,143.1 591.6,143.5 591.8,143.7 592.1,143.8 592.3,143.9 592.6,144.0 592.8,144.2 593.1,144.3 593.3,144.5 593.6,144.5 594.4,144.5 595.4,144.3 596.4,145.5 597.4,145.7 598.4,145.4 599.4,144.8 600.4,144.7 601.4,145.1 602.4,144.9 603.4,145.0 604.4,145.0 605.4,145.3 606.4,145.2 607.4,145.0 608.4,144.6 609.4,144.4 610.4,145.5 611.4,145.1 611.4,147.2" fill="#fff" stroke="none"/>
<polyline points="389.4,145.3 390.4,145.5 391.4,145.4 392.4,145.0 393.4,145.0 394.4,145.0 395.4,144.4 396.4,144.8 397.4,145.2 398.4,145.1 399.4,145.3 400.4,146.0 401.4,145.9 402.4,145.5 403.4,144.6 404.4,145.0 405.4,145.2 406.4,145.2 407.4,144.8 408.4,144.9 409.4,144.5 410.4,144.6 411.4,144.5 412.4,145.0 413.4,145.0 414.4,145.2 415.4,145.3 416.4,145.7 417.4,145.5 418.4,145.5 419.4,145.3 420.4,144.7 421.4,144.8 422.4,144.6 423.4,144.6 424.4,144.6 425.4,144.7 426.4,145.1 427.4,144.9 428.4,145.2 429.4,145.2 430.4,144.6 431.4,144.4 432.4,145.1 433.4,144.5 434.4,144.8 435.4,145.3 436.4,145.0 437.4,144.9 438.4,145.0 439.4,145.3 440.4,145.5 441.4,145.1 442.4,144.8 443.4,144.7 444.4,144.7 445.4,144.8 446.4,145.3 447.4,145.2 448.4,144.9 449.4,144.7 450.4,144.9 451.4,144.9 452.4,144.8 453.4,144.6 454.4,145.6 455.4,145.1 456.4,144.3 457.4,145.0 458.4,145.7 459.4,145.3 460.4,145.6 461.4,145.4 462.4,144.9 463.4,144.5 464.4,144.8 465.4,144.8 466.4,144.7 467.4,145.0 468.4,145.4 469.4,145.2 470.4,145.0 471.4,145.2 472.4,145.4 473.4,145.4 474.4,145.7 475.4,145.6 476.4,145.2 477.4,145.2 478.4,145.0 479.4,144.6 480.4,144.9 481.4,145.2 482.4,145.6 483.4,145.5 484.4,145.1 485.4,145.3 486.4,145.1 487.4,145.4 488.4,145.1 489.4,145.0 490.4,144.8 491.4,145.2 492.4,145.2 493.4,145.0 494.4,144.9 495.4,144.6 496.4,145.1 497.4,145.3 498.4,145.2 499.4,145.0 500.4,144.9 501.4,145.0 502.4,145.3 503.4,144.3 504.4,144.3 505.4,145.1 506.4,145.5 507.4,145.1 508.4,145.1 509.4,145.8 510.4,145.4 511.4,145.5 512.4,145.0 513.4,144.5 514.4,144.8 515.4,145.4 516.4,144.7 517.4,144.7 518.4,145.1 519.4,144.8 520.4,144.6 521.4,145.1 522.4,145.2 523.4,145.2 524.4,144.9 525.4,145.6 526.4,144.9 527.4,145.2 528.4,145.0 529.4,145.6 530.4,145.6 531.4,145.3 532.4,145.0 533.4,145.5 534.4,145.1 535.4,145.2 536.4,144.8 537.4,145.1 538.4,145.0 539.4,145.0 540.4,144.6 541.4,145.1 542.4,145.0 543.4,144.4 544.4,144.9 545.4,144.9 546.4,145.3 547.4,145.3 548.4,145.8 549.4,145.3 550.4,145.4 551.4,145.8 552.4,145.6 553.4,144.8 554.4,145.0 555.4,145.4 556.4,144.7 557.4,145.2 558.4,145.3 559.4,145.1 560.4,145.6 561.4,145.8 562.4,145.4 563.4,144.7 564.4,144.8 565.4,145.4 566.4,144.8 567.4,145.0 568.4,144.9 569.4,145.0 570.4,145.0 571.4,145.5 572.4,145.5 573.4,145.4 574.4,145.2 575.4,145.0 576.4,145.3 577.4,144.7 578.4,145.2 579.4,145.3 580.4,144.9 581.4,144.9 582.4,145.2 583.4,145.4 584.4,145.3 585.4,145.1 585.6,144.9 585.8,144.6 586.1,144.4 586.3,144.1 586.6,143.9 586.8,143.8 587.1,143.6 587.3,143.5 587.6,143.2 587.8,142.7 588.1,141.6 588.3,139.0 588.6,134.6 588.8,128.1 589.1,120.5 589.3,114.3 589.6,111.9 589.8,114.4 590.1,120.7 590.3,128.4 590.6,135.0 590.8,139.5 591.1,141.9 591.3,143.1 591.6,143.5 591.8,143.7 592.1,143.8 592.3,143.9 592.6,144.0 592.8,144.2 593.1,144.3 593.3,144.5 593.6,144.5 594.4,144.5 595.4,144.3 596.4,145.5 597.4,145.7 598.4,145.4 599.4,144.8 600.4,144.7 601.4,145.1 602.4,144.9 603.4,145.0 604.4,145.0 605.4,145.3 606.4,145.2 607.4,145.0 608.4,144.6 609.4,144.4 610.4,145.5 611.4,145.1 611.4,147.2" fill="none" stroke="#008000" stroke-width="1.1" stroke-linejoin="round"/>
<polygon points="381.2,153.3 381.2,152.2 382.2,152.3 383.2,152.8 384.2,152.3 385.2,152.6 386.2,153.3 387.2,152.7 388.2,152.8 389.2,152.5 390.2,152.9 391.2,153.1 392.2,153.2 393.2,152.8 394.2,152.5 395.2,153.0 396.2,153.2 397.2,152.0 398.2,151.9 399.2,152.4 400.2,152.9 401.2,153.2 402.2,153.2 403.2,152.6 404.2,152.3 405.2,152.9 406.2,152.8 407.2,152.8 408.2,152.8 409.2,152.4 410.2,152.1 411.2,152.7 412.2,152.4 413.2,152.3 414.2,152.7 415.2,152.9 416.2,153.0 417.2,152.5 418.2,152.8 419.2,152.9 420.2,152.8 421.2,153.0 422.2,153.1 423.2,152.8 424.2,152.3 425.2,152.6 426.2,152.7 427.2,153.3 428.2,153.3 429.2,152.3 430.2,152.8 431.2,153.2 432.2,152.8 433.2,152.7 434.2,153.2 435.2,153.1 436.2,152.8 437.2,152.9 438.2,152.5 439.2,152.3 440.2,152.5 441.2,152.8 442.2,152.8 443.2,152.9 444.2,152.8 445.2,152.6 446.2,152.7 447.2,152.2 448.2,151.9 449.2,152.6 450.2,152.6 451.2,152.4 452.2,152.5 453.2,152.8 454.2,152.8 455.2,152.4 456.2,152.4 457.2,152.6 458.2,152.9 459.2,152.5 460.2,152.4 461.2,152.6 462.2,152.4 463.2,152.1 464.2,153.1 465.2,152.7 466.2,153.1 467.2,153.2 468.2,152.8 469.2,152.6 470.2,152.7 471.2,153.2 472.2,153.3 473.2,153.0 474.2,152.8 475.2,153.1 476.2,153.1 477.2,152.3 478.2,152.8 479.2,152.9 480.2,152.9 481.2,152.9 482.2,152.8 483.2,152.7 484.2,152.6 485.2,153.1 486.2,153.1 487.2,152.2 488.2,152.5 489.2,152.4 490.2,152.2 491.2,152.4 492.2,152.8 493.2,153.3 494.2,153.2 495.2,152.5 496.2,152.4 497.2,152.6 498.2,153.3 499.2,153.6 500.2,153.3 501.2,153.1 502.2,152.8 503.2,152.9 504.2,152.3 505.2,152.8 506.2,152.9 507.2,152.5 508.2,152.6 509.2,152.9 510.2,152.4 511.2,152.1 512.2,152.9 513.2,153.0 514.2,153.2 515.2,153.3 516.2,152.6 517.2,152.4 518.2,152.3 519.2,152.6 520.2,153.3 521.2,152.9 522.2,153.0 523.2,153.2 524.2,153.1 525.2,152.6 526.2,152.6 527.2,152.1 528.2,152.6 529.2,153.2 530.2,152.5 531.2,152.2 532.2,152.7 533.2,152.9 534.2,152.4 535.2,153.0 536.2,153.0 537.2,153.4 538.2,153.4 539.2,153.2 540.2,152.4 541.2,152.3 542.2,152.8 543.2,153.2 544.2,152.8 545.2,152.7 546.2,153.2 547.2,153.2 548.2,152.8 549.2,152.5 550.2,152.6 551.2,152.7 552.2,153.2 553.2,153.5 554.2,152.9 555.2,153.0 556.2,152.8 557.2,152.8 558.2,152.6 559.2,152.8 560.2,152.3 561.2,152.5 562.2,152.5 563.2,152.4 564.2,152.3 565.2,152.6 566.2,153.3 567.2,152.9 568.2,152.1 569.2,152.4 570.2,152.5 571.2,152.6 572.2,152.9 573.2,153.0 574.2,152.8 575.2,152.2 576.2,152.1 577.2,151.7 577.4,151.7 577.6,151.7 577.9,151.7 578.1,151.7 578.4,151.6 578.6,151.5 578.9,151.3 579.1,151.2 579.4,151.1 579.6,150.9 579.9,150.0 580.1,148.1 580.4,144.5 580.6,139.2 580.9,133.0 581.1,127.9 581.4,125.8 581.6,127.6 581.9,132.6 582.1,138.7 582.4,144.2 582.6,147.9 582.9,150.0 583.1,151.0 583.4,151.3 583.6,151.5 583.9,151.5 584.1,151.6 584.4,151.7 584.6,151.8 584.9,151.9 585.1,152.1 585.4,152.2 586.2,152.5 587.2,152.6 588.2,153.0 589.2,153.2 590.2,153.1 591.2,153.0 592.2,153.2 593.2,152.8 594.2,152.5 595.2,151.9 596.2,152.0 597.2,152.5 598.2,152.4 599.2,152.7 600.2,152.6 601.2,152.7 602.2,152.9 603.2,152.8 603.2,154.8" fill="#fff" stroke="none"/>
<polyline points="381.2,152.2 382.2,152.3 383.2,152.8 384.2,152.3 385.2,152.6 386.2,153.3 387.2,152.7 388.2,152.8 389.2,152.5 390.2,152.9 391.2,153.1 392.2,153.2 393.2,152.8 394.2,152.5 395.2,153.0 396.2,153.2 397.2,152.0 398.2,151.9 399.2,152.4 400.2,152.9 401.2,153.2 402.2,153.2 403.2,152.6 404.2,152.3 405.2,152.9 406.2,152.8 407.2,152.8 408.2,152.8 409.2,152.4 410.2,152.1 411.2,152.7 412.2,152.4 413.2,152.3 414.2,152.7 415.2,152.9 416.2,153.0 417.2,152.5 418.2,152.8 419.2,152.9 420.2,152.8 421.2,153.0 422.2,153.1 423.2,152.8 424.2,152.3 425.2,152.6 426.2,152.7 427.2,153.3 428.2,153.3 429.2,152.3 430.2,152.8 431.2,153.2 432.2,152.8 433.2,152.7 434.2,153.2 435.2,153.1 436.2,152.8 437.2,152.9 438.2,152.5 439.2,152.3 440.2,152.5 441.2,152.8 442.2,152.8 443.2,152.9 444.2,152.8 445.2,152.6 446.2,152.7 447.2,152.2 448.2,151.9 449.2,152.6 450.2,152.6 451.2,152.4 452.2,152.5 453.2,152.8 454.2,152.8 455.2,152.4 456.2,152.4 457.2,152.6 458.2,152.9 459.2,152.5 460.2,152.4 461.2,152.6 462.2,152.4 463.2,152.1 464.2,153.1 465.2,152.7 466.2,153.1 467.2,153.2 468.2,152.8 469.2,152.6 470.2,152.7 471.2,153.2 472.2,153.3 473.2,153.0 474.2,152.8 475.2,153.1 476.2,153.1 477.2,152.3 478.2,152.8 479.2,152.9 480.2,152.9 481.2,152.9 482.2,152.8 483.2,152.7 484.2,152.6 485.2,153.1 486.2,153.1 487.2,152.2 488.2,152.5 489.2,152.4 490.2,152.2 491.2,152.4 492.2,152.8 493.2,153.3 494.2,153.2 495.2,152.5 496.2,152.4 497.2,152.6 498.2,153.3 499.2,153.6 500.2,153.3 501.2,153.1 502.2,152.8 503.2,152.9 504.2,152.3 505.2,152.8 506.2,152.9 507.2,152.5 508.2,152.6 509.2,152.9 510.2,152.4 511.2,152.1 512.2,152.9 513.2,153.0 514.2,153.2 515.2,153.3 516.2,152.6 517.2,152.4 518.2,152.3 519.2,152.6 520.2,153.3 521.2,152.9 522.2,153.0 523.2,153.2 524.2,153.1 525.2,152.6 526.2,152.6 527.2,152.1 528.2,152.6 529.2,153.2 530.2,152.5 531.2,152.2 532.2,152.7 533.2,152.9 534.2,152.4 535.2,153.0 536.2,153.0 537.2,153.4 538.2,153.4 539.2,153.2 540.2,152.4 541.2,152.3 542.2,152.8 543.2,153.2 544.2,152.8 545.2,152.7 546.2,153.2 547.2,153.2 548.2,152.8 549.2,152.5 550.2,152.6 551.2,152.7 552.2,153.2 553.2,153.5 554.2,152.9 555.2,153.0 556.2,152.8 557.2,152.8 558.2,152.6 559.2,152.8 560.2,152.3 561.2,152.5 562.2,152.5 563.2,152.4 564.2,152.3 565.2,152.6 566.2,153.3 567.2,152.9 568.2,152.1 569.2,152.4 570.2,152.5 571.2,152.6 572.2,152.9 573.2,153.0 574.2,152.8 575.2,152.2 576.2,152.1 577.2,151.7 577.4,151.7 577.6,151.7 577.9,151.7 578.1,151.7 578.4,151.6 578.6,151.5 578.9,151.3 579.1,151.2 579.4,151.1 579.6,150.9 579.9,150.0 580.1,148.1 580.4,144.5 580.6,139.2 580.9,133.0 581.1,127.9 581.4,125.8 581.6,127.6 581.9,132.6 582.1,138.7 582.4,144.2 582.6,147.9 582.9,150.0 583.1,151.0 583.4,151.3 583.6,151.5 583.9,151.5 584.1,151.6 584.4,151.7 584.6,151.8 584.9,151.9 585.1,152.1 585.4,152.2 586.2,152.5 587.2,152.6 588.2,153.0 589.2,153.2 590.2,153.1 591.2,153.0 592.2,153.2 593.2,152.8 594.2,152.5 595.2,151.9 596.2,152.0 597.2,152.5 598.2,152.4 599.2,152.7 600.2,152.6 601.2,152.7 602.2,152.9 603.2,152.8 603.2,154.8" fill="none" stroke="#000080" stroke-width="1.1" stroke-linejoin="round"/>
<polygon points="372.8,161.1 372.8,160.4 373.8,160.2 374.8,160.1 375.8,160.7 376.8,160.6 377.8,160.2 378.8,160.0 379.8,160.2 380.8,160.4 381.8,160.9 382.8,160.7 383.8,160.1 384.8,160.3 385.8,159.9 386.8,160.6 387.8,160.8 388.8,161.0 389.8,160.4 390.8,160.2 391.8,159.8 392.8,160.3 393.8,160.7 394.8,161.0 395.8,160.6 396.8,160.2 397.8,160.1 398.8,160.0 399.8,160.1 400.8,160.4 401.8,160.3 402.8,160.5 403.8,160.8 404.8,160.0 405.8,160.3 406.8,160.8 407.8,160.4 408.8,160.3 409.8,160.1 410.8,160.2 411.8,161.3 412.8,160.4 413.8,160.1 414.8,160.8 415.8,161.1 416.8,160.5 417.8,160.4 418.8,160.5 419.8,160.9 420.8,160.7 421.8,160.4 422.8,160.1 423.8,159.7 424.8,160.3 425.8,160.8 426.8,161.2 427.8,160.4 428.8,160.5 429.8,160.6 430.8,160.8 431.8,160.5 432.8,161.0 433.8,160.6 434.8,160.4 435.8,160.3 436.8,160.1 437.8,160.4 438.8,160.4 439.8,160.3 440.8,160.9 441.8,160.7 442.8,160.4 443.8,160.3 444.8,160.6 445.8,160.3 446.8,160.4 447.8,161.0 448.8,161.2 449.8,161.1 450.8,160.6 451.8,160.4 452.8,160.2 453.8,160.2 454.8,160.5 455.8,160.1 456.8,160.1 457.8,160.3 458.8,160.4 459.8,160.8 460.8,160.6 461.8,160.9 462.8,161.0 463.8,160.7 464.8,160.5 465.8,160.5 466.8,160.7 467.8,160.8 468.8,160.6 469.8,160.8 470.8,161.0 471.8,160.5 472.8,160.1 473.8,160.6 474.8,160.8 475.8,160.0 476.8,159.9 477.8,160.5 478.8,160.6 479.8,160.2 480.8,159.5 481.8,160.1 482.8,160.1 483.8,160.4 484.8,161.1 485.8,161.1 486.8,160.9 487.8,160.5 488.8,160.3 489.8,160.0 490.8,160.4 491.8,160.4 492.8,160.4 493.8,160.3 494.8,159.7 495.8,160.1 496.8,159.9 497.8,160.0 498.8,160.5 499.8,160.4 500.8,160.6 501.8,160.5 502.8,160.4 503.8,160.5 504.8,160.5 505.8,160.1 506.8,160.4 507.8,160.2 508.8,159.9 509.8,160.1 510.8,160.0 511.8,159.9 512.8,159.9 513.8,160.0 514.8,160.7 515.8,160.0 516.8,160.5 517.8,161.1 518.8,160.9 519.8,161.0 520.8,160.7 521.8,161.0 522.8,160.9 523.8,160.5 524.8,160.5 525.8,160.7 526.8,160.6 527.8,160.5 528.8,160.5 529.8,160.5 530.8,160.5 531.8,160.3 532.8,160.9 533.8,160.7 534.8,160.4 535.8,160.5 536.8,160.5 537.8,160.4 538.8,160.0 539.8,159.7 540.8,160.0 541.8,159.9 542.8,159.7 543.8,159.8 544.8,160.0 545.8,159.3 546.8,159.1 547.8,158.8 548.8,158.2 549.8,157.9 550.8,157.9 551.8,158.0 552.8,157.4 553.8,156.3 554.8,155.6 555.8,154.8 556.8,154.3 557.8,154.0 558.8,153.6 559.8,152.8 560.8,151.9 561.8,151.3 562.8,150.3 563.8,150.2 564.8,149.7 565.8,148.8 566.8,148.4 567.8,147.2 568.8,147.3 569.8,146.9 570.8,146.7 571.8,146.8 572.8,147.1 573.8,147.0 574.8,146.3 575.8,146.2 576.8,146.5 577.8,147.8 578.8,148.1 579.8,148.7 580.8,149.2 581.8,150.2 582.8,150.7 583.8,151.3 584.8,152.1 585.8,152.8 586.8,153.9 587.8,154.3 588.8,155.4 589.8,155.8 590.8,157.4 591.8,157.5 592.8,157.9 593.8,158.1 594.8,158.1 594.8,162.6" fill="#fff" stroke="none"/>
<polyline points="372.8,160.4 373.8,160.2 374.8,160.1 375.8,160.7 376.8,160.6 377.8,160.2 378.8,160.0 379.8,160.2 380.8,160.4 381.8,160.9 382.8,160.7 383.8,160.1 384.8,160.3 385.8,159.9 386.8,160.6 387.8,160.8 388.8,161.0 389.8,160.4 390.8,160.2 391.8,159.8 392.8,160.3 393.8,160.7 394.8,161.0 395.8,160.6 396.8,160.2 397.8,160.1 398.8,160.0 399.8,160.1 400.8,160.4 401.8,160.3 402.8,160.5 403.8,160.8 404.8,160.0 405.8,160.3 406.8,160.8 407.8,160.4 408.8,160.3 409.8,160.1 410.8,160.2 411.8,161.3 412.8,160.4 413.8,160.1 414.8,160.8 415.8,161.1 416.8,160.5 417.8,160.4 418.8,160.5 419.8,160.9 420.8,160.7 421.8,160.4 422.8,160.1 423.8,159.7 424.8,160.3 425.8,160.8 426.8,161.2 427.8,160.4 428.8,160.5 429.8,160.6 430.8,160.8 431.8,160.5 432.8,161.0 433.8,160.6 434.8,160.4 435.8,160.3 436.8,160.1 437.8,160.4 438.8,160.4 439.8,160.3 440.8,160.9 441.8,160.7 442.8,160.4 443.8,160.3 444.8,160.6 445.8,160.3 446.8,160.4 447.8,161.0 448.8,161.2 449.8,161.1 450.8,160.6 451.8,160.4 452.8,160.2 453.8,160.2 454.8,160.5 455.8,160.1 456.8,160.1 457.8,160.3 458.8,160.4 459.8,160.8 460.8,160.6 461.8,160.9 462.8,161.0 463.8,160.7 464.8,160.5 465.8,160.5 466.8,160.7 467.8,160.8 468.8,160.6 469.8,160.8 470.8,161.0 471.8,160.5 472.8,160.1 473.8,160.6 474.8,160.8 475.8,160.0 476.8,159.9 477.8,160.5 478.8,160.6 479.8,160.2 480.8,159.5 481.8,160.1 482.8,160.1 483.8,160.4 484.8,161.1 485.8,161.1 486.8,160.9 487.8,160.5 488.8,160.3 489.8,160.0 490.8,160.4 491.8,160.4 492.8,160.4 493.8,160.3 494.8,159.7 495.8,160.1 496.8,159.9 497.8,160.0 498.8,160.5 499.8,160.4 500.8,160.6 501.8,160.5 502.8,160.4 503.8,160.5 504.8,160.5 505.8,160.1 506.8,160.4 507.8,160.2 508.8,159.9 509.8,160.1 510.8,160.0 511.8,159.9 512.8,159.9 513.8,160.0 514.8,160.7 515.8,160.0 516.8,160.5 517.8,161.1 518.8,160.9 519.8,161.0 520.8,160.7 521.8,161.0 522.8,160.9 523.8,160.5 524.8,160.5 525.8,160.7 526.8,160.6 527.8,160.5 528.8,160.5 529.8,160.5 530.8,160.5 531.8,160.3 532.8,160.9 533.8,160.7 534.8,160.4 535.8,160.5 536.8,160.5 537.8,160.4 538.8,160.0 539.8,159.7 540.8,160.0 541.8,159.9 542.8,159.7 543.8,159.8 544.8,160.0 545.8,159.3 546.8,159.1 547.8,158.8 548.8,158.2 549.8,157.9 550.8,157.9 551.8,158.0 552.8,157.4 553.8,156.3 554.8,155.6 555.8,154.8 556.8,154.3 557.8,154.0 558.8,153.6 559.8,152.8 560.8,151.9 561.8,151.3 562.8,150.3 563.8,150.2 564.8,149.7 565.8,148.8 566.8,148.4 567.8,147.2 568.8,147.3 569.8,146.9 570.8,146.7 571.8,146.8 572.8,147.1 573.8,147.0 574.8,146.3 575.8,146.2 576.8,146.5 577.8,147.8 578.8,148.1 579.8,148.7 580.8,149.2 581.8,150.2 582.8,150.7 583.8,151.3 584.8,152.1 585.8,152.8 586.8,153.9 587.8,154.3 588.8,155.4 589.8,155.8 590.8,157.4 591.8,157.5 592.8,157.9 593.8,158.1 594.8,158.1 594.8,162.6" fill="none" stroke="#8000ff" stroke-width="1.1" stroke-linejoin="round"/>
<polygon points="364.4,168.4 364.4,168.4 365.4,168.0 366.4,168.0 367.4,167.3 368.4,167.3 369.4,167.8 370.4,167.5 371.4,167.9 372.4,167.5 373.4,167.5 374.4,167.9 375.4,168.3 376.4,168.2 377.4,168.6 378.4,168.3 379.4,168.4 380.4,167.6 381.4,168.2 382.4,168.6 383.4,167.8 384.4,167.7 385.4,167.8 386.4,167.1 387.4,167.4 388.4,167.8 389.4,168.3 390.4,168.8 391.4,167.8 392.4,167.5 393.4,168.0 394.4,168.3 395.4,168.1 396.4,168.4 397.4,167.9 398.4,167.4 399.4,167.2 400.4,167.6 401.4,167.6 402.4,167.4 403.4,167.3 404.4,167.9 405.4,168.3 406.4,168.3 407.4,168.4 408.4,168.2 409.4,167.9 410.4,167.7 411.4,167.7 412.4,167.8 413.4,167.9 414.4,167.6 415.4,167.4 416.4,167.3 417.4,167.3 418.4,167.8 419.4,167.8 420.4,167.2 421.4,167.6 422.4,167.7 423.4,167.8 424.4,167.5 425.4,167.9 426.4,168.2 427.4,167.9 428.4,167.9 429.4,167.6 430.4,167.8 431.4,167.8 432.4,167.8 433.4,167.8 434.4,167.9 435.4,167.6 436.4,168.2 437.4,168.1 438.4,168.0 439.4,167.6 440.4,167.7 441.4,167.7 442.4,167.9 443.4,168.2 444.4,168.3 445.4,168.1 446.4,168.0 447.4,167.7 448.4,167.6 449.4,167.5 450.4,167.8 451.4,168.1 452.4,168.2 453.4,167.8 454.4,167.5 455.4,167.1 456.4,167.4 457.4,167.0 458.4,167.1 459.4,167.9 460.4,167.4 461.4,167.2 462.4,167.2 463.4,167.6 464.4,167.5 465.4,167.9 466.4,167.9 467.4,167.7 468.4,167.2 469.4,167.6 470.4,167.5 471.4,167.8 472.4,168.0 473.4,167.7 474.4,167.6 475.4,167.9 476.4,167.7 477.4,168.1 478.4,168.1 479.4,167.8 480.4,167.9 481.4,168.3 482.4,168.4 483.4,167.9 484.4,167.8 485.4,167.9 486.4,167.9 487.4,168.3 488.4,167.8 489.4,167.6 490.4,167.7 491.4,168.0 492.4,167.8 493.4,167.7 494.4,167.4 495.4,167.6 496.4,167.7 497.4,167.9 498.4,167.5 499.4,167.4 500.4,167.8 501.4,167.6 502.4,167.6 503.4,167.9 504.4,168.1 505.4,167.5 506.4,168.3 507.4,167.9 508.4,167.8 509.4,167.5 510.4,167.8 511.4,167.8 512.4,167.6 513.4,167.6 514.4,167.9 515.4,167.6 516.4,167.5 517.4,167.5 518.4,167.9 519.4,167.9 520.4,168.0 521.4,168.1 522.4,167.7 523.4,167.5 524.4,167.3 525.4,167.7 526.4,167.5 527.4,167.3 528.4,167.6 529.4,167.7 530.4,167.7 531.4,167.9 532.4,167.9 533.4,167.2 534.4,167.3 535.4,167.5 536.4,167.7 537.4,167.2 538.4,166.8 539.4,167.3 540.4,167.1 541.4,166.2 542.4,165.8 543.4,165.7 544.4,166.1 545.4,165.7 546.4,165.7 547.4,165.2 548.4,165.1 549.4,164.6 550.4,163.9 551.4,163.9 552.4,163.9 553.4,163.5 554.4,163.2 555.4,163.1 556.4,162.6 557.4,162.0 558.4,161.7 559.4,162.6 560.4,162.4 561.4,162.0 562.4,161.1 563.4,160.5 564.4,161.1 565.4,161.3 566.4,161.3 567.4,162.3 568.4,162.3 569.4,163.0 570.4,162.5 571.4,162.7 572.4,163.0 573.4,163.1 574.4,163.6 575.4,163.5 576.4,164.1 577.4,164.2 578.4,164.0 579.4,165.1 580.4,165.3 581.4,165.9 582.4,165.6 583.4,165.9 584.4,166.3 585.4,166.2 586.4,166.2 586.4,169.9" fill="#fff" stroke="none"/>
<polyline points="364.4,168.4 365.4,168.0 366.4,168.0 367.4,167.3 368.4,167.3 369.4,167.8 370.4,167.5 371.4,167.9 372.4,167.5 373.4,167.5 374.4,167.9 375.4,168.3 376.4,168.2 377.4,168.6 378.4,168.3 379.4,168.4 380.4,167.6 381.4,168.2 382.4,168.6 383.4,167.8 384.4,167.7 385.4,167.8 386.4,167.1 387.4,167.4 388.4,167.8 389.4,168.3 390.4,168.8 391.4,167.8 392.4,167.5 393.4,168.0 394.4,168.3 395.4,168.1 396.4,168.4 397.4,167.9 398.4,167.4 399.4,167.2 400.4,167.6 401.4,167.6 402.4,167.4 403.4,167.3 404.4,167.9 405.4,168.3 406.4,168.3 407.4,168.4 408.4,168.2 409.4,167.9 410.4,167.7 411.4,167.7 412.4,167.8 413.4,167.9 414.4,167.6 415.4,167.4 416.4,167.3 417.4,167.3 418.4,167.8 419.4,167.8 420.4,167.2 421.4,167.6 422.4,167.7 423.4,167.8 424.4,167.5 425.4,167.9 426.4,168.2 427.4,167.9 428.4,167.9 429.4,167.6 430.4,167.8 431.4,167.8 432.4,167.8 433.4,167.8 434.4,167.9 435.4,167.6 436.4,168.2 437.4,168.1 438.4,168.0 439.4,167.6 440.4,167.7 441.4,167.7 442.4,167.9 443.4,168.2 444.4,168.3 445.4,168.1 446.4,168.0 447.4,167.7 448.4,167.6 449.4,167.5 450.4,167.8 451.4,168.1 452.4,168.2 453.4,167.8 454.4,167.5 455.4,167.1 456.4,167.4 457.4,167.0 458.4,167.1 459.4,167.9 460.4,167.4 461.4,167.2 462.4,167.2 463.4,167.6 464.4,167.5 465.4,167.9 466.4,167.9 467.4,167.7 468.4,167.2 469.4,167.6 470.4,167.5 471.4,167.8 472.4,168.0 473.4,167.7 474.4,167.6 475.4,167.9 476.4,167.7 477.4,168.1 478.4,168.1 479.4,167.8 480.4,167.9 481.4,168.3 482.4,168.4 483.4,167.9 484.4,167.8 485.4,167.9 486.4,167.9 487.4,168.3 488.4,167.8 489.4,167.6 490.4,167.7 491.4,168.0 492.4,167.8 493.4,167.7 494.4,167.4 495.4,167.6 496.4,167.7 497.4,167.9 498.4,167.5 499.4,167.4 500.4,167.8 501.4,167.6 502.4,167.6 503.4,167.9 504.4,168.1 505.4,167.5 506.4,168.3 507.4,167.9 508.4,167.8 509.4,167.5 510.4,167.8 511.4,167.8 512.4,167.6 513.4,167.6 514.4,167.9 515.4,167.6 516.4,167.5 517.4,167.5 518.4,167.9 519.4,167.9 520.4,168.0 521.4,168.1 522.4,167.7 523.4,167.5 524.4,167.3 525.4,167.7 526.4,167.5 527.4,167.3 528.4,167.6 529.4,167.7 530.4,167.7 531.4,167.9 532.4,167.9 533.4,167.2 534.4,167.3 535.4,167.5 536.4,167.7 537.4,167.2 538.4,166.8 539.4,167.3 540.4,167.1 541.4,166.2 542.4,165.8 543.4,165.7 544.4,166.1 545.4,165.7 546.4,165.7 547.4,165.2 548.4,165.1 549.4,164.6 550.4,163.9 551.4,163.9 552.4,163.9 553.4,163.5 554.4,163.2 555.4,163.1 556.4,162.6 557.4,162.0 558.4,161.7 559.4,162.6 560.4,162.4 561.4,162.0 562.4,161.1 563.4,160.5 564.4,161.1 565.4,161.3 566.4,161.3 567.4,162.3 568.4,162.3 569.4,163.0 570.4,162.5 571.4,162.7 572.4,163.0 573.4,163.1 574.4,163.6 575.4,163.5 576.4,164.1 577.4,164.2 578.4,164.0 579.4,165.1 580.4,165.3 581.4,165.9 582.4,165.6 583.4,165.9 584.4,166.3 585.4,166.2 586.4,166.2 586.4,169.9" fill="none" stroke="#800080" stroke-width="1.1" stroke-linejoin="round"/>
<line x1="360.20" y1="172.50" x2="582.00" y2="172.50" stroke="#000" stroke-width="1.6"/>
<line x1="360.40" y1="172.50" x2="360.40" y2="170.50" stroke="#000" stroke-width="1"/>
<line x1="435.20" y1="172.50" x2="435.20" y2="170.50" stroke="#000" stroke-width="1"/>
<line x1="510.00" y1="172.50" x2="510.00" y2="170.50" stroke="#000" stroke-width="1"/>
<line x1="584.80" y1="172.50" x2="584.80" y2="170.50" stroke="#000" stroke-width="1"/>
<line x1="581.70" y1="172.20" x2="647.60" y2="112.30" stroke="#000" stroke-width="1.6"/>
<line x1="647.60" y1="112.30" x2="647.60" y2="12.50" stroke="#000" stroke-width="1.6"/>
<line x1="647.60" y1="110.80" x2="651.00" y2="110.80" stroke="#000" stroke-width="1.2"/>
<text x="651.80" y="113.80" font-size="8.5" font-weight="bold" text-anchor="start" fill="#000">0</text>
<line x1="647.60" y1="82.50" x2="651.00" y2="82.50" stroke="#000" stroke-width="1.2"/>
<text x="651.80" y="85.50" font-size="8.5" font-weight="bold" text-anchor="start" fill="#000">200</text>
<line x1="647.60" y1="54.20" x2="651.00" y2="54.20" stroke="#000" stroke-width="1.2"/>
<text x="651.80" y="57.20" font-size="8.5" font-weight="bold" text-anchor="start" fill="#000">400</text>
<line x1="647.60" y1="26.00" x2="651.00" y2="26.00" stroke="#000" stroke-width="1.2"/>
<text x="651.80" y="29.00" font-size="8.5" font-weight="bold" text-anchor="start" fill="#000">600</text>
<line x1="647.60" y1="96.60" x2="649.80" y2="96.60" stroke="#000" stroke-width="1"/>
<line x1="647.60" y1="68.40" x2="649.80" y2="68.40" stroke="#000" stroke-width="1"/>
<line x1="647.60" y1="40.10" x2="649.80" y2="40.10" stroke="#000" stroke-width="1"/>
<text x="676.50" y="62.00" font-size="10" font-weight="bold" text-anchor="middle" fill="#000" textLength="78" lengthAdjust="spacingAndGlyphs" transform="rotate(-90 676.50 62.00)">Intensity ( arb.units)</text>
<text transform="matrix(1.000 0.000 -0.500 0.800 647.30 120.00)" font-size="8.5" font-weight="bold" fill="#111" text-anchor="start" textLength="14.5" lengthAdjust="spacingAndGlyphs" stroke="#111" stroke-width="0.2">0.76</text>
<text transform="matrix(1.000 0.000 -0.500 0.800 639.20 127.55)" font-size="8.5" font-weight="bold" fill="#111" text-anchor="start" textLength="14.5" lengthAdjust="spacingAndGlyphs" stroke="#111" stroke-width="0.2">0.63</text>
<text transform="matrix(1.000 0.000 -0.500 0.800 631.10 135.10)" font-size="8.5" font-weight="bold" fill="#111" text-anchor="start" textLength="14.5" lengthAdjust="spacingAndGlyphs" stroke="#111" stroke-width="0.2">0.53</text>
<text transform="matrix(1.000 0.000 -0.500 0.800 623.00 142.65)" font-size="8.5" font-weight="bold" fill="#111" text-anchor="start" textLength="14.5" lengthAdjust="spacingAndGlyphs" stroke="#111" stroke-width="0.2">0.40</text>
<text transform="matrix(1.000 0.000 -0.500 0.800 614.90 150.20)" font-size="8.5" font-weight="bold" fill="#111" text-anchor="start" textLength="14.5" lengthAdjust="spacingAndGlyphs" stroke="#111" stroke-width="0.2">0.26</text>
<text transform="matrix(1.000 0.000 -0.500 0.800 606.80 157.75)" font-size="8.5" font-weight="bold" fill="#111" text-anchor="start" textLength="14.5" lengthAdjust="spacingAndGlyphs" stroke="#111" stroke-width="0.2">0.13</text>
<text transform="matrix(1.000 0.000 -0.500 0.800 598.70 165.30)" font-size="8.5" font-weight="bold" fill="#111" text-anchor="start" textLength="14.5" lengthAdjust="spacingAndGlyphs" stroke="#111" stroke-width="0.2">0.10</text>
<text transform="matrix(1.000 0.000 -0.500 0.800 590.60 172.85)" font-size="8.5" font-weight="bold" fill="#111" text-anchor="start" textLength="14.5" lengthAdjust="spacingAndGlyphs" stroke="#111" stroke-width="0.2">0.06</text>
<text transform="matrix(0.772 -0.634 0.507 0.618 627.50 168.50)" font-size="8.5" font-weight="bold" fill="#444" text-anchor="start" textLength="72" lengthAdjust="spacingAndGlyphs">Pump Energy (mJ)</text>
<text x="360.30" y="184.90" font-size="10" font-weight="bold" text-anchor="middle" fill="#000">800</text>
<text x="435.20" y="184.90" font-size="10" font-weight="bold" text-anchor="middle" fill="#000">900</text>
<text x="509.90" y="184.90" font-size="10" font-weight="bold" text-anchor="middle" fill="#000">1000</text>
<text x="585.00" y="184.90" font-size="10" font-weight="bold" text-anchor="middle" fill="#000">1100</text>
<text x="466.70" y="196.60" font-size="10.4" font-weight="bold" text-anchor="middle" fill="#000" textLength="83.5" lengthAdjust="spacingAndGlyphs">Wavelength (nm)</text>
<text x="366.20" y="19.30" font-size="12" font-weight="bold" text-anchor="start" fill="#000" textLength="16.8" lengthAdjust="spacingAndGlyphs">(b)</text>
<text x="598.10" y="10.00" font-size="10.8" font-weight="bold" text-anchor="start" fill="#000" textLength="40.5" lengthAdjust="spacingAndGlyphs">(PC1.0)</text>
<line x1="450.50" y1="7.80" x2="558.70" y2="7.80" stroke="#000" stroke-width="1.2"/>
<line x1="450.50" y1="94.90" x2="558.70" y2="94.90" stroke="#000" stroke-width="1.2"/>
<line x1="450.50" y1="7.80" x2="450.50" y2="94.90" stroke="#000" stroke-width="1.2"/>
<line x1="558.70" y1="7.80" x2="558.70" y2="94.90" stroke="#ff0000" stroke-width="1.2"/>
<line x1="450.50" y1="94.90" x2="450.50" y2="93.30" stroke="#000" stroke-width="0.8"/>
<line x1="450.50" y1="7.80" x2="450.50" y2="9.40" stroke="#000" stroke-width="0.8"/>
<line x1="457.26" y1="94.90" x2="457.26" y2="93.90" stroke="#000" stroke-width="0.6"/>
<text x="450.50" y="102.30" font-size="6.3" font-weight="bold" text-anchor="middle" fill="#000">0.0</text>
<line x1="464.02" y1="94.90" x2="464.02" y2="93.30" stroke="#000" stroke-width="0.8"/>
<line x1="464.02" y1="7.80" x2="464.02" y2="9.40" stroke="#000" stroke-width="0.8"/>
<line x1="470.79" y1="94.90" x2="470.79" y2="93.90" stroke="#000" stroke-width="0.6"/>
<text x="464.02" y="102.30" font-size="6.3" font-weight="bold" text-anchor="middle" fill="#000">0.1</text>
<line x1="477.55" y1="94.90" x2="477.55" y2="93.30" stroke="#000" stroke-width="0.8"/>
<line x1="477.55" y1="7.80" x2="477.55" y2="9.40" stroke="#000" stroke-width="0.8"/>
<line x1="484.31" y1="94.90" x2="484.31" y2="93.90" stroke="#000" stroke-width="0.6"/>
<text x="477.55" y="102.30" font-size="6.3" font-weight="bold" text-anchor="middle" fill="#000">0.2</text>
<line x1="491.07" y1="94.90" x2="491.07" y2="93.30" stroke="#000" stroke-width="0.8"/>
<line x1="491.07" y1="7.80" x2="491.07" y2="9.40" stroke="#000" stroke-width="0.8"/>
<line x1="497.84" y1="94.90" x2="497.84" y2="93.90" stroke="#000" stroke-width="0.6"/>
<text x="491.07" y="102.30" font-size="6.3" font-weight="bold" text-anchor="middle" fill="#000">0.3</text>
<line x1="504.60" y1="94.90" x2="504.60" y2="93.30" stroke="#000" stroke-width="0.8"/>
<line x1="504.60" y1="7.80" x2="504.60" y2="9.40" stroke="#000" stroke-width="0.8"/>
<line x1="511.36" y1="94.90" x2="511.36" y2="93.90" stroke="#000" stroke-width="0.6"/>
<text x="504.60" y="102.30" font-size="6.3" font-weight="bold" text-anchor="middle" fill="#000">0.4</text>
<line x1="518.12" y1="94.90" x2="518.12" y2="93.30" stroke="#000" stroke-width="0.8"/>
<line x1="518.12" y1="7.80" x2="518.12" y2="9.40" stroke="#000" stroke-width="0.8"/>
<line x1="524.89" y1="94.90" x2="524.89" y2="93.90" stroke="#000" stroke-width="0.6"/>
<text x="518.12" y="102.30" font-size="6.3" font-weight="bold" text-anchor="middle" fill="#000">0.5</text>
<line x1="531.65" y1="94.90" x2="531.65" y2="93.30" stroke="#000" stroke-width="0.8"/>
<line x1="531.65" y1="7.80" x2="531.65" y2="9.40" stroke="#000" stroke-width="0.8"/>
<line x1="538.41" y1="94.90" x2="538.41" y2="93.90" stroke="#000" stroke-width="0.6"/>
<text x="531.65" y="102.30" font-size="6.3" font-weight="bold" text-anchor="middle" fill="#000">0.6</text>
<line x1="545.17" y1="94.90" x2="545.17" y2="93.30" stroke="#000" stroke-width="0.8"/>
<line x1="545.17" y1="7.80" x2="545.17" y2="9.40" stroke="#000" stroke-width="0.8"/>
<line x1="551.94" y1="94.90" x2="551.94" y2="93.90" stroke="#000" stroke-width="0.6"/>
<text x="545.17" y="102.30" font-size="6.3" font-weight="bold" text-anchor="middle" fill="#000">0.7</text>
<line x1="558.70" y1="94.90" x2="558.70" y2="93.30" stroke="#000" stroke-width="0.8"/>
<line x1="558.70" y1="7.80" x2="558.70" y2="9.40" stroke="#000" stroke-width="0.8"/>
<text x="558.70" y="102.30" font-size="6.3" font-weight="bold" text-anchor="middle" fill="#000">0.8</text>
<line x1="450.50" y1="89.50" x2="452.10" y2="89.50" stroke="#000" stroke-width="0.8"/>
<line x1="450.50" y1="89.50" x2="449.20" y2="89.50" stroke="#000" stroke-width="0.8"/>
<text x="447.80" y="91.60" font-size="6.2" font-weight="bold" text-anchor="end" fill="#000">0</text>
<line x1="450.50" y1="84.02" x2="451.50" y2="84.02" stroke="#000" stroke-width="0.6"/>
<line x1="450.50" y1="78.54" x2="452.10" y2="78.54" stroke="#000" stroke-width="0.8"/>
<line x1="450.50" y1="78.54" x2="449.20" y2="78.54" stroke="#000" stroke-width="0.8"/>
<text x="447.80" y="80.64" font-size="6.2" font-weight="bold" text-anchor="end" fill="#000">100</text>
<line x1="450.50" y1="73.06" x2="451.50" y2="73.06" stroke="#000" stroke-width="0.6"/>
<line x1="450.50" y1="67.58" x2="452.10" y2="67.58" stroke="#000" stroke-width="0.8"/>
<line x1="450.50" y1="67.58" x2="449.20" y2="67.58" stroke="#000" stroke-width="0.8"/>
<text x="447.80" y="69.68" font-size="6.2" font-weight="bold" text-anchor="end" fill="#000">200</text>
<line x1="450.50" y1="62.10" x2="451.50" y2="62.10" stroke="#000" stroke-width="0.6"/>
<line x1="450.50" y1="56.62" x2="452.10" y2="56.62" stroke="#000" stroke-width="0.8"/>
<line x1="450.50" y1="56.62" x2="449.20" y2="56.62" stroke="#000" stroke-width="0.8"/>
<text x="447.80" y="58.72" font-size="6.2" font-weight="bold" text-anchor="end" fill="#000">300</text>
<line x1="450.50" y1="51.14" x2="451.50" y2="51.14" stroke="#000" stroke-width="0.6"/>
<line x1="450.50" y1="45.66" x2="452.10" y2="45.66" stroke="#000" stroke-width="0.8"/>
<line x1="450.50" y1="45.66" x2="449.20" y2="45.66" stroke="#000" stroke-width="0.8"/>
<text x="447.80" y="47.76" font-size="6.2" font-weight="bold" text-anchor="end" fill="#000">400</text>
<line x1="450.50" y1="40.18" x2="451.50" y2="40.18" stroke="#000" stroke-width="0.6"/>
<line x1="450.50" y1="34.70" x2="452.10" y2="34.70" stroke="#000" stroke-width="0.8"/>
<line x1="450.50" y1="34.70" x2="449.20" y2="34.70" stroke="#000" stroke-width="0.8"/>
<text x="447.80" y="36.80" font-size="6.2" font-weight="bold" text-anchor="end" fill="#000">500</text>
<line x1="450.50" y1="29.22" x2="451.50" y2="29.22" stroke="#000" stroke-width="0.6"/>
<line x1="450.50" y1="23.74" x2="452.10" y2="23.74" stroke="#000" stroke-width="0.8"/>
<line x1="450.50" y1="23.74" x2="449.20" y2="23.74" stroke="#000" stroke-width="0.8"/>
<text x="447.80" y="25.84" font-size="6.2" font-weight="bold" text-anchor="end" fill="#000">600</text>
<line x1="450.50" y1="18.26" x2="451.50" y2="18.26" stroke="#000" stroke-width="0.6"/>
<line x1="450.50" y1="12.78" x2="452.10" y2="12.78" stroke="#000" stroke-width="0.8"/>
<line x1="450.50" y1="12.78" x2="449.20" y2="12.78" stroke="#000" stroke-width="0.8"/>
<text x="447.80" y="14.88" font-size="6.2" font-weight="bold" text-anchor="end" fill="#000">700</text>
<line x1="558.70" y1="89.50" x2="560.20" y2="89.50" stroke="#ff0000" stroke-width="0.8"/>
<text x="561.80" y="91.60" font-size="6.2" font-weight="bold" text-anchor="start" fill="#ff0000">0</text>
<line x1="558.70" y1="78.54" x2="560.20" y2="78.54" stroke="#ff0000" stroke-width="0.8"/>
<text x="561.80" y="80.64" font-size="6.2" font-weight="bold" text-anchor="start" fill="#ff0000">5</text>
<line x1="558.70" y1="67.58" x2="560.20" y2="67.58" stroke="#ff0000" stroke-width="0.8"/>
<text x="561.80" y="69.68" font-size="6.2" font-weight="bold" text-anchor="start" fill="#ff0000">10</text>
<line x1="558.70" y1="56.62" x2="560.20" y2="56.62" stroke="#ff0000" stroke-width="0.8"/>
<text x="561.80" y="58.72" font-size="6.2" font-weight="bold" text-anchor="start" fill="#ff0000">15</text>
<line x1="558.70" y1="45.66" x2="560.20" y2="45.66" stroke="#ff0000" stroke-width="0.8"/>
<text x="561.80" y="47.76" font-size="6.2" font-weight="bold" text-anchor="start" fill="#ff0000">20</text>
<line x1="558.70" y1="34.70" x2="560.20" y2="34.70" stroke="#ff0000" stroke-width="0.8"/>
<text x="561.80" y="36.80" font-size="6.2" font-weight="bold" text-anchor="start" fill="#ff0000">25</text>
<line x1="558.70" y1="23.74" x2="560.20" y2="23.74" stroke="#ff0000" stroke-width="0.8"/>
<text x="561.80" y="25.84" font-size="6.2" font-weight="bold" text-anchor="start" fill="#ff0000">30</text>
<line x1="558.70" y1="12.78" x2="560.20" y2="12.78" stroke="#ff0000" stroke-width="0.8"/>
<text x="561.80" y="14.88" font-size="6.2" font-weight="bold" text-anchor="start" fill="#ff0000">35</text>
<text x="434.50" y="51.60" font-size="8" font-weight="bold" text-anchor="middle" fill="#000" textLength="68" lengthAdjust="spacingAndGlyphs" transform="rotate(-90 434.50 51.60)">Intensity (arb.units)</text>
<text x="577.00" y="51.40" font-size="8" font-weight="bold" text-anchor="middle" fill="#000" textLength="52.5" lengthAdjust="spacingAndGlyphs" transform="rotate(-90 577.00 51.40)">Linewidth (nm)</text>
<text x="504.60" y="110.60" font-size="9.5" font-weight="bold" text-anchor="middle" fill="#000" textLength="42.3" lengthAdjust="spacingAndGlyphs">Energy (mJ)</text>
<rect x="457.40" y="84.50" width="3.0" height="3.0" fill="#000"/>
<rect x="462.50" y="79.50" width="3.0" height="3.0" fill="#000"/>
<rect x="466.20" y="72.00" width="3.0" height="3.0" fill="#000"/>
<rect x="484.20" y="61.70" width="3.0" height="3.0" fill="#000"/>
<rect x="503.10" y="58.10" width="3.0" height="3.0" fill="#000"/>
<rect x="520.80" y="45.60" width="3.0" height="3.0" fill="#000"/>
<rect x="534.70" y="36.80" width="3.0" height="3.0" fill="#000"/>
<rect x="552.20" y="16.50" width="3.0" height="3.0" fill="#000"/>
<rect x="457.60" y="13.90" width="2.6" height="2.6" fill="#ff0000"/>
<rect x="462.70" y="13.40" width="2.6" height="2.6" fill="#ff0000"/>
<rect x="466.40" y="82.70" width="2.6" height="2.6" fill="#ff0000"/>
<rect x="484.40" y="82.70" width="2.6" height="2.6" fill="#ff0000"/>
<rect x="503.30" y="83.50" width="2.6" height="2.6" fill="#ff0000"/>
<rect x="521.00" y="83.50" width="2.6" height="2.6" fill="#ff0000"/>
<rect x="534.90" y="83.50" width="2.6" height="2.6" fill="#ff0000"/>
<rect x="552.40" y="83.50" width="2.6" height="2.6" fill="#ff0000"/>
<rect x="512.2" y="18.1" width="2.6" height="2.6" fill="#000"/>
<rect x="512.2" y="25.9" width="2.6" height="2.6" fill="#ff0000"/>
<text x="519.80" y="22.00" font-size="7.3" font-weight="bold" text-anchor="start" fill="#000" textLength="25.5" lengthAdjust="spacingAndGlyphs">Intensity</text>
<text x="519.80" y="29.80" font-size="7.3" font-weight="bold" text-anchor="start" fill="#000" textLength="29.2" lengthAdjust="spacingAndGlyphs">Linewidth</text>
<polyline points="162.9,361.1 163.9,361.2 164.9,361.3 165.9,361.3 166.9,361.3 167.9,361.3 168.9,361.3 169.9,361.4 170.9,361.5 171.9,361.5 172.9,361.5 173.9,361.5 174.9,361.4 175.9,361.3 176.9,361.1 177.9,361.0 178.9,360.9 179.9,360.9 180.9,360.9 181.9,360.9 182.9,361.0 183.9,361.0 184.9,361.0 185.9,361.0 186.9,361.1 187.9,361.1 188.9,361.2 189.9,361.3 190.9,361.4 191.9,361.4 192.9,361.4 193.9,361.3 194.9,361.3 195.9,361.4 196.9,361.4 197.9,361.4 198.9,361.3 199.9,361.2 200.9,361.1 201.9,361.0 202.9,361.0 203.9,361.1 204.9,361.2 205.9,361.3 206.9,361.3 207.9,361.3 208.9,361.2 209.9,361.2 210.9,361.2 211.9,361.1 212.9,361.2 213.9,361.3 214.9,361.4 215.9,361.5 216.9,361.4 217.9,361.4 218.9,361.4 219.9,361.4 220.9,361.4 221.9,361.3 222.9,361.2 223.9,361.1 224.9,361.0 225.9,361.0 226.9,361.0 227.9,361.1 228.9,361.2 229.9,361.2 230.9,361.2 231.9,361.2 232.9,361.3 233.9,361.3 234.9,361.4 235.9,361.4 236.9,361.4 237.9,361.2 238.9,361.1 239.9,361.0 240.9,361.0 241.9,361.0 242.9,361.0 243.9,361.0 244.9,360.9 245.9,360.9 246.9,360.9 247.9,360.9 248.9,361.0 249.9,361.0 250.9,361.0 251.9,361.0 252.9,361.0 253.9,361.0 254.9,361.1 255.9,361.0 256.9,361.0 257.9,360.9 258.9,360.8 259.9,360.7 260.9,360.6 261.9,360.5 262.9,360.2 263.9,359.8 264.9,359.3 265.9,358.8 266.9,358.2 267.9,357.8 268.9,357.5 269.9,357.5 270.9,357.6 271.9,357.9 272.9,358.3 273.9,358.7 274.9,359.0 275.9,359.3 276.9,359.6 277.9,360.0 278.9,360.2 279.9,360.4 280.9,360.4 281.9,360.5 282.9,360.5 283.9,360.6 284.9,360.7 285.9,360.7 286.9,360.7 287.9,360.7 288.9,360.7 289.9,360.7 290.9,360.7 291.9,360.8 292.9,360.9 293.9,361.0 294.9,361.0 295.9,361.1 296.9,361.1 297.9,361.1 298.9,361.1 299.9,361.1 300.9,361.1 301.9,361.2 302.9,361.2 303.9,361.3 304.9,361.3 305.9,361.2 306.9,361.2 307.9,361.2 308.9,361.2 309.9,361.2 310.9,361.2 311.9,361.1 312.9,361.1 313.9,361.2 314.9,361.2 315.9,361.3 316.9,361.3 317.9,361.4 318.9,361.3 319.9,361.3 320.9,361.2 321.9,361.1 322.9,361.0 323.9,360.9 324.9,361.0 325.5,361.1" fill="none" stroke="#ed7d31" stroke-width="1.5" stroke-linejoin="round"/>
<polyline points="162.9,361.4 163.9,361.4 164.9,361.4 165.9,361.3 166.9,361.2 167.9,361.1 168.9,361.1 169.9,361.1 170.9,361.2 171.9,361.3 172.9,361.4 173.9,361.5 174.9,361.5 175.9,361.4 176.9,361.2 177.9,361.1 178.9,360.9 179.9,360.9 180.9,360.9 181.9,360.9 182.9,361.0 183.9,361.0 184.9,361.0 185.9,361.0 186.9,361.0 187.9,361.0 188.9,361.0 189.9,361.0 190.9,361.0 191.9,361.1 192.9,361.2 193.9,361.2 194.9,361.2 195.9,361.2 196.9,361.1 197.9,361.1 198.9,361.1 199.9,361.1 200.9,361.1 201.9,361.2 202.9,361.2 203.9,361.2 204.9,361.2 205.9,361.2 206.9,361.2 207.9,361.1 208.9,361.1 209.9,361.0 210.9,361.1 211.9,361.1 212.9,361.2 213.9,361.2 214.9,361.1 215.9,361.0 216.9,360.9 217.9,360.8 218.9,360.8 219.9,360.8 220.9,360.9 221.9,360.9 222.9,360.9 223.9,360.9 224.9,360.9 225.9,360.9 226.9,360.9 227.9,360.8 228.9,360.7 229.9,360.6 230.9,360.6 231.9,360.7 232.9,360.8 233.9,360.9 234.9,360.9 235.9,360.9 236.9,360.9 237.9,360.8 238.9,360.8 239.9,360.8 240.9,360.8 241.9,360.8 242.9,360.8 243.9,360.8 244.9,360.8 245.9,360.8 246.9,360.8 247.9,360.8 248.9,360.7 249.9,360.7 250.9,360.7 251.9,360.8 252.9,360.9 253.9,361.0 254.9,361.0 255.9,360.9 256.9,360.8 257.9,360.6 258.9,360.3 259.9,360.0 260.9,359.5 261.9,359.1 262.9,358.6 263.9,358.2 264.9,357.9 265.9,357.5 266.9,357.2 267.9,356.8 268.9,356.6 269.9,356.5 270.9,356.6 271.9,356.8 272.9,357.2 273.9,357.6 274.9,358.0 275.9,358.5 276.9,358.9 277.9,359.3 278.9,359.6 279.9,359.9 280.9,360.1 281.9,360.3 282.9,360.5 283.9,360.7 284.9,360.8 285.9,360.9 286.9,360.9 287.9,360.9 288.9,360.9 289.9,360.9 290.9,360.9 291.9,360.9 292.9,360.9 293.9,360.8 294.9,360.8 295.9,360.8 296.9,360.8 297.9,360.8 298.9,360.8 299.9,360.8 300.9,360.8 301.9,360.9 302.9,360.9 303.9,361.0 304.9,361.2 305.9,361.3 306.9,361.3 307.9,361.3 308.9,361.3 309.9,361.3 310.9,361.2 311.9,361.2 312.9,361.2 313.9,361.2 314.9,361.2 315.9,361.1 316.9,361.1 317.9,361.1 318.9,361.1 319.9,361.1 320.9,361.1 321.9,361.1 322.9,361.1 323.9,361.1 324.9,361.1 325.5,361.1" fill="none" stroke="#f4a46c" stroke-width="1.5" stroke-linejoin="round"/>
<polyline points="162.9,361.2 163.9,361.2 164.9,361.2 165.9,361.1 166.9,361.0 167.9,361.0 168.9,361.0 169.9,361.0 170.9,361.0 171.9,361.1 172.9,361.1 173.9,361.2 174.9,361.3 175.9,361.4 176.9,361.4 177.9,361.4 178.9,361.4 179.9,361.3 180.9,361.2 181.9,361.2 182.9,361.1 183.9,361.0 184.9,360.9 185.9,360.8 186.9,360.7 187.9,360.7 188.9,360.7 189.9,360.8 190.9,360.9 191.9,361.0 192.9,361.1 193.9,361.2 194.9,361.2 195.9,361.3 196.9,361.2 197.9,361.2 198.9,361.1 199.9,361.0 200.9,360.9 201.9,360.9 202.9,361.0 203.9,361.1 204.9,361.2 205.9,361.3 206.9,361.3 207.9,361.3 208.9,361.3 209.9,361.2 210.9,361.1 211.9,361.0 212.9,360.9 213.9,360.9 214.9,360.9 215.9,360.9 216.9,360.8 217.9,360.7 218.9,360.7 219.9,360.7 220.9,360.8 221.9,360.9 222.9,361.0 223.9,361.1 224.9,361.2 225.9,361.2 226.9,361.3 227.9,361.2 228.9,361.2 229.9,361.1 230.9,361.1 231.9,361.1 232.9,361.2 233.9,361.2 234.9,361.3 235.9,361.3 236.9,361.4 237.9,361.4 238.9,361.4 239.9,361.3 240.9,361.3 241.9,361.2 242.9,361.1 243.9,361.0 244.9,361.0 245.9,361.0 246.9,361.0 247.9,360.9 248.9,360.9 249.9,360.9 250.9,361.0 251.9,361.0 252.9,361.0 253.9,361.0 254.9,360.9 255.9,360.9 256.9,360.9 257.9,360.8 258.9,360.7 259.9,360.5 260.9,360.2 261.9,360.0 262.9,359.8 263.9,359.4 264.9,358.9 265.9,358.4 266.9,357.8 267.9,357.2 268.9,356.7 269.9,356.4 270.9,356.3 271.9,356.5 272.9,356.8 273.9,357.3 274.9,357.8 275.9,358.4 276.9,358.9 277.9,359.5 278.9,359.8 279.9,360.0 280.9,360.1 281.9,360.2 282.9,360.3 283.9,360.4 284.9,360.6 285.9,360.7 286.9,360.7 287.9,360.8 288.9,360.8 289.9,360.8 290.9,360.8 291.9,360.8 292.9,360.8 293.9,360.9 294.9,361.0 295.9,361.1 296.9,361.2 297.9,361.2 298.9,361.2 299.9,361.2 300.9,361.2 301.9,361.1 302.9,361.1 303.9,361.2 304.9,361.2 305.9,361.3 306.9,361.3 307.9,361.3 308.9,361.3 309.9,361.2 310.9,361.1 311.9,361.1 312.9,361.0 313.9,360.9 314.9,360.9 315.9,360.9 316.9,361.0 317.9,361.0 318.9,361.1 319.9,361.1 320.9,361.0 321.9,361.1 322.9,361.1 323.9,361.2 324.9,361.2 325.5,361.3" fill="none" stroke="#a9673a" stroke-width="1.5" stroke-linejoin="round"/>
<polyline points="162.9,361.0 163.9,361.0 164.9,360.9 165.9,360.8 166.9,360.8 167.9,360.9 168.9,360.9 169.9,361.0 170.9,361.0 171.9,361.0 172.9,361.0 173.9,361.0 174.9,361.0 175.9,361.0 176.9,361.0 177.9,361.0 178.9,361.0 179.9,361.0 180.9,360.9 181.9,360.8 182.9,360.7 183.9,360.6 184.9,360.5 185.9,360.5 186.9,360.5 187.9,360.6 188.9,360.6 189.9,360.6 190.9,360.7 191.9,360.8 192.9,360.9 193.9,361.0 194.9,361.0 195.9,361.1 196.9,361.1 197.9,361.1 198.9,361.0 199.9,360.9 200.9,360.8 201.9,360.9 202.9,361.0 203.9,361.1 204.9,361.1 205.9,361.1 206.9,361.1 207.9,361.2 208.9,361.3 209.9,361.3 210.9,361.3 211.9,361.2 212.9,361.1 213.9,361.0 214.9,361.0 215.9,361.0 216.9,361.0 217.9,360.9 218.9,360.9 219.9,360.9 220.9,361.0 221.9,361.2 222.9,361.2 223.9,361.2 224.9,361.1 225.9,360.9 226.9,360.8 227.9,360.7 228.9,360.6 229.9,360.6 230.9,360.7 231.9,360.8 232.9,360.8 233.9,360.9 234.9,360.8 235.9,360.8 236.9,360.7 237.9,360.7 238.9,360.8 239.9,360.9 240.9,361.0 241.9,361.0 242.9,361.0 243.9,361.0 244.9,361.0 245.9,360.9 246.9,360.8 247.9,360.7 248.9,360.6 249.9,360.6 250.9,360.6 251.9,360.6 252.9,360.6 253.9,360.6 254.9,360.6 255.9,360.5 256.9,360.3 257.9,360.2 258.9,360.2 259.9,360.1 260.9,359.9 261.9,359.7 262.9,359.5 263.9,359.2 264.9,358.8 265.9,358.4 266.9,357.8 267.9,357.0 268.9,356.2 269.9,355.6 270.9,355.1 271.9,354.9 272.9,355.0 273.9,355.2 274.9,355.7 275.9,356.3 276.9,357.0 277.9,357.7 278.9,358.2 279.9,358.7 280.9,359.1 281.9,359.4 282.9,359.6 283.9,359.7 284.9,359.9 285.9,360.0 286.9,360.2 287.9,360.3 288.9,360.5 289.9,360.5 290.9,360.6 291.9,360.6 292.9,360.6 293.9,360.7 294.9,360.8 295.9,361.0 296.9,361.1 297.9,361.1 298.9,361.1 299.9,361.0 300.9,360.9 301.9,360.9 302.9,360.9 303.9,360.9 304.9,360.9 305.9,360.9 306.9,361.0 307.9,361.0 308.9,361.1 309.9,361.1 310.9,361.0 311.9,361.0 312.9,360.9 313.9,361.0 314.9,361.0 315.9,361.1 316.9,361.0 317.9,360.9 318.9,360.8 319.9,360.7 320.9,360.8 321.9,360.9 322.9,361.0 323.9,361.1 324.9,361.2 325.5,361.3" fill="none" stroke="#70ad47" stroke-width="1.5" stroke-linejoin="round"/>
<polyline points="162.9,360.6 163.9,360.8 164.9,360.9 165.9,361.1 166.9,361.1 167.9,361.2 168.9,361.1 169.9,361.0 170.9,360.9 171.9,360.8 172.9,360.8 173.9,360.8 174.9,360.8 175.9,360.8 176.9,360.8 177.9,360.8 178.9,360.8 179.9,360.8 180.9,360.9 181.9,360.9 182.9,360.9 183.9,360.9 184.9,360.9 185.9,360.8 186.9,360.8 187.9,360.9 188.9,360.9 189.9,361.0 190.9,361.0 191.9,360.9 192.9,360.8 193.9,360.7 194.9,360.7 195.9,360.9 196.9,361.0 197.9,361.1 198.9,361.1 199.9,361.0 200.9,360.9 201.9,360.8 202.9,360.7 203.9,360.7 204.9,360.8 205.9,360.9 206.9,360.9 207.9,361.0 208.9,361.0 209.9,361.0 210.9,361.0 211.9,361.0 212.9,361.0 213.9,361.1 214.9,361.1 215.9,361.1 216.9,360.9 217.9,360.8 218.9,360.7 219.9,360.6 220.9,360.6 221.9,360.6 222.9,360.6 223.9,360.7 224.9,360.8 225.9,360.9 226.9,360.9 227.9,360.8 228.9,360.8 229.9,360.8 230.9,360.8 231.9,360.9 232.9,360.9 233.9,360.9 234.9,360.9 235.9,360.9 236.9,360.9 237.9,360.9 238.9,360.9 239.9,360.9 240.9,360.9 241.9,360.8 242.9,360.7 243.9,360.5 244.9,360.4 245.9,360.3 246.9,360.3 247.9,360.4 248.9,360.5 249.9,360.6 250.9,360.7 251.9,360.7 252.9,360.7 253.9,360.6 254.9,360.6 255.9,360.5 256.9,360.3 257.9,360.0 258.9,359.7 259.9,359.3 260.9,358.8 261.9,358.2 262.9,357.6 263.9,356.8 264.9,356.0 265.9,355.1 266.9,354.1 267.9,353.0 268.9,352.0 269.9,351.1 270.9,350.6 271.9,350.5 272.9,350.8 273.9,351.6 274.9,352.5 275.9,353.6 276.9,354.7 277.9,355.8 278.9,356.8 279.9,357.7 280.9,358.4 281.9,358.9 282.9,359.4 283.9,359.7 284.9,360.0 285.9,360.2 286.9,360.3 287.9,360.3 288.9,360.3 289.9,360.4 290.9,360.4 291.9,360.3 292.9,360.3 293.9,360.3 294.9,360.4 295.9,360.5 296.9,360.6 297.9,360.8 298.9,360.9 299.9,361.0 300.9,361.0 301.9,360.9 302.9,360.8 303.9,360.7 304.9,360.7 305.9,360.8 306.9,360.9 307.9,360.9 308.9,361.0 309.9,361.0 310.9,361.0 311.9,361.0 312.9,361.0 313.9,361.0 314.9,361.0 315.9,360.9 316.9,360.9 317.9,360.9 318.9,360.9 319.9,360.9 320.9,360.9 321.9,360.9 322.9,360.9 323.9,360.8 324.9,360.8 325.5,360.9" fill="none" stroke="#5b9bd5" stroke-width="1.5" stroke-linejoin="round"/>
<polyline points="162.9,360.9 163.9,360.9 164.9,360.8 165.9,360.8 166.9,360.9 167.9,360.9 168.9,360.9 169.9,360.9 170.9,360.9 171.9,360.8 172.9,360.8 173.9,360.7 174.9,360.7 175.9,360.7 176.9,360.8 177.9,360.9 178.9,361.0 179.9,361.1 180.9,361.2 181.9,361.2 182.9,361.2 183.9,361.2 184.9,361.2 185.9,361.1 186.9,361.1 187.9,361.0 188.9,360.9 189.9,360.9 190.9,360.9 191.9,361.0 192.9,361.1 193.9,361.2 194.9,361.3 195.9,361.3 196.9,361.2 197.9,361.1 198.9,361.1 199.9,361.1 200.9,361.0 201.9,360.9 202.9,360.8 203.9,360.6 204.9,360.6 205.9,360.6 206.9,360.6 207.9,360.7 208.9,360.8 209.9,360.9 210.9,361.0 211.9,361.0 212.9,361.0 213.9,361.0 214.9,361.0 215.9,360.9 216.9,361.0 217.9,361.0 218.9,361.0 219.9,361.1 220.9,361.2 221.9,361.3 222.9,361.3 223.9,361.3 224.9,361.2 225.9,361.0 226.9,360.9 227.9,360.9 228.9,360.9 229.9,361.0 230.9,361.0 231.9,361.1 232.9,361.1 233.9,361.0 234.9,360.9 235.9,360.8 236.9,360.7 237.9,360.6 238.9,360.5 239.9,360.5 240.9,360.5 241.9,360.5 242.9,360.5 243.9,360.5 244.9,360.5 245.9,360.5 246.9,360.5 247.9,360.5 248.9,360.6 249.9,360.6 250.9,360.5 251.9,360.4 252.9,360.3 253.9,360.1 254.9,359.8 255.9,359.6 256.9,359.3 257.9,358.9 258.9,358.5 259.9,357.9 260.9,357.2 261.9,356.4 262.9,355.6 263.9,354.7 264.9,353.9 265.9,353.2 266.9,352.9 267.9,352.9 268.9,353.3 269.9,354.0 270.9,354.8 271.9,355.6 272.9,356.5 273.9,357.2 274.9,357.9 275.9,358.6 276.9,359.1 277.9,359.6 278.9,359.9 279.9,360.2 280.9,360.4 281.9,360.5 282.9,360.6 283.9,360.7 284.9,360.6 285.9,360.6 286.9,360.6 287.9,360.6 288.9,360.7 289.9,360.8 290.9,360.9 291.9,361.0 292.9,361.0 293.9,361.0 294.9,361.0 295.9,360.9 296.9,360.8 297.9,360.8 298.9,360.8 299.9,360.8 300.9,360.8 301.9,360.8 302.9,360.8 303.9,360.8 304.9,360.9 305.9,361.0 306.9,361.1 307.9,361.2 308.9,361.1 309.9,361.1 310.9,361.0 311.9,360.9 312.9,360.9 313.9,360.9 314.9,361.1 315.9,361.2 316.9,361.2 317.9,361.2 318.9,361.1 319.9,361.1 320.9,361.0 321.9,361.1 322.9,361.1 323.9,361.1 324.9,361.1 325.5,361.0" fill="none" stroke="#ffd966" stroke-width="1.5" stroke-linejoin="round"/>
<polyline points="162.9,360.8 163.9,360.8 164.9,360.8 165.9,360.8 166.9,360.9 167.9,360.9 168.9,360.9 169.9,360.9 170.9,360.9 171.9,360.9 172.9,360.9 173.9,360.9 174.9,360.9 175.9,360.9 176.9,360.9 177.9,360.8 178.9,360.8 179.9,360.8 180.9,360.8 181.9,360.8 182.9,360.8 183.9,360.8 184.9,360.7 185.9,360.8 186.9,360.9 187.9,361.0 188.9,361.1 189.9,361.1 190.9,361.0 191.9,361.0 192.9,361.0 193.9,361.0 194.9,361.0 195.9,360.9 196.9,360.9 197.9,360.8 198.9,360.7 199.9,360.6 200.9,360.5 201.9,360.3 202.9,360.3 203.9,360.3 204.9,360.4 205.9,360.5 206.9,360.6 207.9,360.7 208.9,360.8 209.9,360.9 210.9,361.0 211.9,361.0 212.9,361.0 213.9,361.0 214.9,360.9 215.9,360.8 216.9,360.7 217.9,360.7 218.9,360.8 219.9,360.9 220.9,361.0 221.9,361.1 222.9,361.1 223.9,361.0 224.9,360.9 225.9,360.9 226.9,360.9 227.9,360.8 228.9,360.7 229.9,360.7 230.9,360.6 231.9,360.6 232.9,360.7 233.9,360.7 234.9,360.7 235.9,360.8 236.9,360.8 237.9,360.8 238.9,360.9 239.9,360.9 240.9,360.8 241.9,360.8 242.9,360.8 243.9,360.8 244.9,360.7 245.9,360.5 246.9,360.4 247.9,360.2 248.9,360.1 249.9,360.1 250.9,360.2 251.9,360.1 252.9,360.0 253.9,359.7 254.9,359.3 255.9,358.8 256.9,358.3 257.9,357.6 258.9,356.8 259.9,355.7 260.9,354.4 261.9,352.9 262.9,351.2 263.9,349.4 264.9,347.6 265.9,346.2 266.9,345.4 267.9,345.4 268.9,346.3 269.9,347.7 270.9,349.4 271.9,351.1 272.9,352.7 273.9,354.2 274.9,355.5 275.9,356.7 276.9,357.6 277.9,358.3 278.9,358.8 279.9,359.2 280.9,359.5 281.9,359.8 282.9,360.1 283.9,360.3 284.9,360.4 285.9,360.5 286.9,360.4 287.9,360.4 288.9,360.5 289.9,360.6 290.9,360.7 291.9,360.8 292.9,360.9 293.9,360.9 294.9,360.9 295.9,360.9 296.9,361.0 297.9,361.0 298.9,361.0 299.9,360.9 300.9,360.9 301.9,360.9 302.9,360.9 303.9,361.0 304.9,361.2 305.9,361.2 306.9,361.3 307.9,361.3 308.9,361.2 309.9,361.2 310.9,361.2 311.9,361.1 312.9,361.1 313.9,360.9 314.9,360.8 315.9,360.8 316.9,360.8 317.9,360.8 318.9,360.9 319.9,360.8 320.9,360.8 321.9,360.8 322.9,360.9 323.9,360.9 324.9,361.0 325.5,361.0" fill="none" stroke="#a5a5a5" stroke-width="1.5" stroke-linejoin="round"/>
<polyline points="162.9,361.2 163.9,361.1 164.9,361.0 165.9,361.1 166.9,361.1 167.9,361.2 168.9,361.3 169.9,361.4 170.9,361.4 171.9,361.4 172.9,361.4 173.9,361.4 174.9,361.3 175.9,361.3 176.9,361.3 177.9,361.4 178.9,361.5 179.9,361.6 180.9,361.6 181.9,361.6 182.9,361.6 183.9,361.5 184.9,361.4 185.9,361.2 186.9,361.1 187.9,361.1 188.9,361.1 189.9,361.3 190.9,361.4 191.9,361.5 192.9,361.5 193.9,361.5 194.9,361.4 195.9,361.4 196.9,361.4 197.9,361.4 198.9,361.4 199.9,361.4 200.9,361.5 201.9,361.6 202.9,361.6 203.9,361.6 204.9,361.6 205.9,361.5 206.9,361.5 207.9,361.6 208.9,361.6 209.9,361.6 210.9,361.6 211.9,361.6 212.9,361.6 213.9,361.6 214.9,361.5 215.9,361.4 216.9,361.3 217.9,361.2 218.9,361.2 219.9,361.3 220.9,361.4 221.9,361.5 222.9,361.5 223.9,361.5 224.9,361.3 225.9,361.2 226.9,361.1 227.9,361.0 228.9,361.1 229.9,361.2 230.9,361.3 231.9,361.4 232.9,361.5 233.9,361.6 234.9,361.6 235.9,361.6 236.9,361.6 237.9,361.7 238.9,361.8 239.9,361.8 240.9,361.8 241.9,361.7 242.9,361.6 243.9,361.4 244.9,361.3 245.9,361.2 246.9,361.2 247.9,361.2 248.9,361.2 249.9,361.1 250.9,361.1 251.9,361.1 252.9,361.0 253.9,361.0 254.9,361.0 255.9,361.1 256.9,361.1 257.9,361.2 258.9,361.2 259.9,361.1 260.9,360.9 261.9,360.6 262.9,360.3 263.9,360.1 264.9,360.0 265.9,359.8 266.9,359.6 267.9,359.4 268.9,359.3 269.9,359.3 270.9,359.5 271.9,359.9 272.9,360.3 273.9,360.8 274.9,361.2 275.9,361.5 276.9,361.8 277.9,362.0 278.9,362.2 279.9,362.4 280.9,362.6 281.9,362.5 282.9,362.3 283.9,362.1 284.9,361.8 285.9,361.7 286.9,361.6 287.9,361.6 288.9,361.5 289.9,361.5 290.9,361.5 291.9,361.5 292.9,361.4 293.9,361.4 294.9,361.4 295.9,361.4 296.9,361.4 297.9,361.4 298.9,361.4 299.9,361.4 300.9,361.5 301.9,361.5 302.9,361.5 303.9,361.6 304.9,361.5 305.9,361.4 306.9,361.4 307.9,361.3 308.9,361.3 309.9,361.4 310.9,361.3 311.9,361.3 312.9,361.2 313.9,361.1 314.9,361.2 315.9,361.4 316.9,361.5 317.9,361.5 318.9,361.5 319.9,361.5 320.9,361.4 321.9,361.3 322.9,361.3 323.9,361.4 324.9,361.6 325.5,361.7" fill="none" stroke="#ff0000" stroke-width="1.5" stroke-linejoin="round"/>
<polyline points="162.9,360.8 163.9,360.8 164.9,360.8 165.9,360.8 166.9,360.8 167.9,360.7 168.9,360.7 169.9,360.8 170.9,360.8 171.9,360.9 172.9,361.0 173.9,361.0 174.9,361.0 175.9,361.0 176.9,360.8 177.9,360.6 178.9,360.4 179.9,360.3 180.9,360.3 181.9,360.4 182.9,360.5 183.9,360.7 184.9,360.8 185.9,360.8 186.9,360.8 187.9,360.8 188.9,360.8 189.9,360.8 190.9,360.8 191.9,360.8 192.9,360.8 193.9,360.8 194.9,360.8 195.9,360.8 196.9,360.9 197.9,361.0 198.9,361.0 199.9,361.0 200.9,360.8 201.9,360.7 202.9,360.6 203.9,360.6 204.9,360.6 205.9,360.7 206.9,360.8 207.9,360.8 208.9,360.8 209.9,360.8 210.9,360.8 211.9,360.7 212.9,360.7 213.9,360.6 214.9,360.6 215.9,360.6 216.9,360.6 217.9,360.7 218.9,360.8 219.9,360.8 220.9,360.8 221.9,360.7 222.9,360.6 223.9,360.6 224.9,360.6 225.9,360.6 226.9,360.6 227.9,360.5 228.9,360.4 229.9,360.3 230.9,360.3 231.9,360.3 232.9,360.3 233.9,360.4 234.9,360.4 235.9,360.4 236.9,360.4 237.9,360.4 238.9,360.4 239.9,360.4 240.9,360.4 241.9,360.4 242.9,360.4 243.9,360.3 244.9,360.3 245.9,360.2 246.9,360.2 247.9,360.1 248.9,360.1 249.9,360.0 250.9,360.0 251.9,359.9 252.9,359.7 253.9,359.3 254.9,358.9 255.9,358.4 256.9,357.7 257.9,356.8 258.9,355.6 259.9,354.1 260.9,352.3 261.9,350.3 262.9,348.0 263.9,345.5 264.9,343.1 265.9,340.8 266.9,339.3 267.9,338.8 268.9,339.5 269.9,341.2 270.9,343.4 271.9,345.9 272.9,348.3 273.9,350.6 274.9,352.6 275.9,354.2 276.9,355.5 277.9,356.5 278.9,357.3 279.9,358.0 280.9,358.4 281.9,358.8 282.9,359.1 283.9,359.4 284.9,359.6 285.9,359.8 286.9,359.9 287.9,360.0 288.9,360.0 289.9,360.1 290.9,360.1 291.9,360.1 292.9,360.1 293.9,360.2 294.9,360.3 295.9,360.5 296.9,360.6 297.9,360.6 298.9,360.5 299.9,360.4 300.9,360.3 301.9,360.4 302.9,360.5 303.9,360.6 304.9,360.6 305.9,360.6 306.9,360.6 307.9,360.6 308.9,360.7 309.9,360.8 310.9,360.9 311.9,361.0 312.9,361.0 313.9,361.0 314.9,361.0 315.9,360.9 316.9,360.7 317.9,360.5 318.9,360.3 319.9,360.3 320.9,360.4 321.9,360.5 322.9,360.6 323.9,360.7 324.9,360.8 325.5,360.8" fill="none" stroke="#2f5f9e" stroke-width="1.5" stroke-linejoin="round"/>
<polyline points="162.9,359.7 163.9,359.7 164.9,359.7 165.9,359.8 166.9,360.0 167.9,360.1 168.9,360.2 169.9,360.3 170.9,360.4 171.9,360.3 172.9,360.1 173.9,360.0 174.9,360.0 175.9,360.1 176.9,360.2 177.9,360.2 178.9,360.2 179.9,360.2 180.9,360.1 181.9,360.1 182.9,360.2 183.9,360.3 184.9,360.3 185.9,360.2 186.9,360.0 187.9,359.8 188.9,359.6 189.9,359.5 190.9,359.4 191.9,359.3 192.9,359.3 193.9,359.5 194.9,359.9 195.9,360.4 196.9,360.7 197.9,360.8 198.9,360.6 199.9,360.3 200.9,360.0 201.9,359.8 202.9,359.7 203.9,359.9 204.9,360.1 205.9,360.4 206.9,360.7 207.9,360.7 208.9,360.6 209.9,360.5 210.9,360.4 211.9,360.3 212.9,360.2 213.9,360.1 214.9,360.0 215.9,360.1 216.9,360.3 217.9,360.5 218.9,360.7 219.9,360.7 220.9,360.5 221.9,360.2 222.9,360.1 223.9,360.0 224.9,359.9 225.9,359.7 226.9,359.5 227.9,359.4 228.9,359.3 229.9,359.5 230.9,359.7 231.9,359.8 232.9,359.8 233.9,359.5 234.9,359.2 235.9,358.8 236.9,358.6 237.9,358.4 238.9,358.5 239.9,358.5 240.9,358.4 241.9,358.2 242.9,357.8 243.9,357.4 244.9,357.0 245.9,356.5 246.9,356.2 247.9,355.9 248.9,355.5 249.9,355.0 250.9,354.2 251.9,353.1 252.9,351.5 253.9,349.5 254.9,346.9 255.9,343.6 256.9,339.4 257.9,334.1 258.9,327.8 259.9,320.2 260.9,311.3 261.9,301.2 262.9,290.2 263.9,278.8 264.9,267.7 265.9,258.1 266.9,251.2 267.9,248.4 268.9,250.0 269.9,255.0 270.9,262.4 271.9,271.5 272.9,281.1 273.9,290.8 274.9,300.0 275.9,308.6 276.9,316.4 277.9,323.4 278.9,329.6 279.9,335.0 280.9,339.5 281.9,343.3 282.9,346.3 283.9,348.5 284.9,350.2 285.9,351.5 286.9,352.7 287.9,353.6 288.9,354.4 289.9,355.0 290.9,355.6 291.9,356.1 292.9,356.6 293.9,357.1 294.9,357.4 295.9,357.5 296.9,357.6 297.9,357.7 298.9,357.8 299.9,358.0 300.9,358.2 301.9,358.4 302.9,358.6 303.9,358.7 304.9,358.9 305.9,359.1 306.9,359.2 307.9,359.1 308.9,359.0 309.9,359.0 310.9,359.0 311.9,359.2 312.9,359.4 313.9,359.6 314.9,359.8 315.9,360.1 316.9,360.3 317.9,360.6 318.9,360.8 319.9,360.9 320.9,360.9 321.9,360.9 322.9,360.9 323.9,360.8 324.9,360.6 325.5,360.4" fill="none" stroke="#ffc000" stroke-width="1.5" stroke-linejoin="round"/>
<polyline points="162.9,360.3 163.9,360.0 164.9,359.8 165.9,359.6 166.9,359.8 167.9,360.0 168.9,360.4 169.9,360.6 170.9,360.6 171.9,360.5 172.9,360.2 173.9,359.8 174.9,359.6 175.9,359.6 176.9,359.7 177.9,359.8 178.9,359.8 179.9,359.8 180.9,359.7 181.9,359.7 182.9,359.8 183.9,359.8 184.9,359.8 185.9,359.7 186.9,359.6 187.9,359.7 188.9,359.8 189.9,359.8 190.9,359.7 191.9,359.4 192.9,359.2 193.9,359.1 194.9,359.1 195.9,359.2 196.9,359.4 197.9,359.8 198.9,360.1 199.9,360.5 200.9,360.8 201.9,360.8 202.9,360.6 203.9,360.3 204.9,360.0 205.9,360.0 206.9,360.0 207.9,360.1 208.9,360.2 209.9,360.3 210.9,360.4 211.9,360.2 212.9,359.8 213.9,359.2 214.9,358.7 215.9,358.4 216.9,358.5 217.9,358.8 218.9,359.1 219.9,359.3 220.9,359.2 221.9,359.0 222.9,358.8 223.9,358.8 224.9,358.8 225.9,358.8 226.9,358.8 227.9,358.9 228.9,358.9 229.9,358.8 230.9,358.5 231.9,358.2 232.9,357.9 233.9,357.6 234.9,357.3 235.9,357.0 236.9,356.7 237.9,356.6 238.9,356.6 239.9,356.8 240.9,357.1 241.9,357.3 242.9,357.2 243.9,356.7 244.9,356.0 245.9,355.2 246.9,354.5 247.9,353.9 248.9,353.4 249.9,352.8 250.9,351.8 251.9,350.1 252.9,347.7 253.9,344.4 254.9,340.4 255.9,335.5 256.9,329.5 257.9,322.2 258.9,313.4 259.9,303.0 260.9,291.1 261.9,278.1 262.9,264.3 263.9,250.3 264.9,237.3 265.9,226.9 266.9,221.2 267.9,221.1 268.9,225.4 269.9,233.4 270.9,243.8 271.9,255.6 272.9,267.8 273.9,279.6 274.9,290.6 275.9,300.6 276.9,309.7 277.9,317.9 278.9,325.0 279.9,331.1 280.9,336.0 281.9,340.1 282.9,343.4 283.9,346.1 284.9,348.6 285.9,350.7 286.9,352.4 287.9,353.6 288.9,354.5 289.9,355.0 290.9,355.3 291.9,355.5 292.9,355.6 293.9,355.7 294.9,356.0 295.9,356.2 296.9,356.5 297.9,356.7 298.9,356.9 299.9,357.1 300.9,357.3 301.9,357.6 302.9,357.8 303.9,358.0 304.9,358.2 305.9,358.4 306.9,358.5 307.9,358.5 308.9,358.3 309.9,358.2 310.9,358.1 311.9,358.2 312.9,358.2 313.9,358.2 314.9,358.3 315.9,358.5 316.9,358.7 317.9,359.0 318.9,359.3 319.9,359.5 320.9,359.7 321.9,359.8 322.9,359.8 323.9,359.6 324.9,359.4 325.5,359.2" fill="none" stroke="#7cb3e2" stroke-width="1.5" stroke-linejoin="round"/>
<line x1="162.90" y1="214.50" x2="162.90" y2="364.50" stroke="#000" stroke-width="1.5"/>
<line x1="162.20" y1="363.90" x2="325.60" y2="363.90" stroke="#000" stroke-width="1.5"/>
<line x1="160.00" y1="217.02" x2="162.90" y2="217.02" stroke="#000" stroke-width="1"/>
<text x="154.60" y="220.62" font-size="10.0" font-weight="normal" text-anchor="end" fill="#222" stroke="#222" stroke-width="0.25" textLength="21.8" lengthAdjust="spacingAndGlyphs">5900</text>
<line x1="160.00" y1="265.98" x2="162.90" y2="265.98" stroke="#000" stroke-width="1"/>
<text x="154.60" y="269.58" font-size="10.0" font-weight="normal" text-anchor="end" fill="#222" stroke="#222" stroke-width="0.25" textLength="21.8" lengthAdjust="spacingAndGlyphs">3900</text>
<line x1="160.00" y1="314.94" x2="162.90" y2="314.94" stroke="#000" stroke-width="1"/>
<text x="154.60" y="318.54" font-size="10.0" font-weight="normal" text-anchor="end" fill="#222" stroke="#222" stroke-width="0.25" textLength="21.8" lengthAdjust="spacingAndGlyphs">1900</text>
<line x1="160.00" y1="363.90" x2="162.90" y2="363.90" stroke="#000" stroke-width="1"/>
<text x="154.60" y="367.50" font-size="10.0" font-weight="normal" text-anchor="end" fill="#222" stroke="#222" stroke-width="0.25" textLength="21" lengthAdjust="spacingAndGlyphs">-100</text>
<text x="163.40" y="379.80" font-size="9.5" font-weight="normal" text-anchor="middle" fill="#222" stroke="#222" stroke-width="0.25" textLength="21.9" lengthAdjust="spacingAndGlyphs">1060</text>
<text x="246.70" y="379.80" font-size="9.5" font-weight="normal" text-anchor="middle" fill="#222" stroke="#222" stroke-width="0.25" textLength="21.9" lengthAdjust="spacingAndGlyphs">1065</text>
<text x="325.70" y="379.80" font-size="9.5" font-weight="normal" text-anchor="middle" fill="#222" stroke="#222" stroke-width="0.25" textLength="21.9" lengthAdjust="spacingAndGlyphs">1070</text>
<text x="246.90" y="392.50" font-size="9.5" font-weight="normal" text-anchor="middle" fill="#222" stroke="#222" stroke-width="0.25" textLength="79" lengthAdjust="spacingAndGlyphs">Wavelength (nm)</text>
<text x="129.00" y="288.50" font-size="9.5" font-weight="normal" text-anchor="middle" fill="#222" stroke="#222" stroke-width="0.25" textLength="96" lengthAdjust="spacingAndGlyphs" transform="rotate(-90 129.00 288.50)">Intensity ( arb-units)</text>
<text x="96.80" y="234.00" font-size="12" font-weight="bold" text-anchor="start" fill="#222" textLength="16.2" lengthAdjust="spacingAndGlyphs">(c)</text>
<line x1="193.10" y1="223.70" x2="202.80" y2="223.70" stroke="#ff0000" stroke-width="1.5"/>
<text x="203.30" y="226.70" font-size="8.5" font-weight="bold" text-anchor="start" fill="#222" textLength="16.7" lengthAdjust="spacingAndGlyphs">2um</text>
<line x1="193.10" y1="234.78" x2="202.80" y2="234.78" stroke="#ed7d31" stroke-width="1.5"/>
<text x="203.30" y="237.78" font-size="8.5" font-weight="bold" text-anchor="start" fill="#222" textLength="18.7" lengthAdjust="spacingAndGlyphs">4 um</text>
<line x1="193.10" y1="245.86" x2="202.80" y2="245.86" stroke="#a5a5a5" stroke-width="1.5"/>
<text x="203.30" y="248.86" font-size="8.5" font-weight="bold" text-anchor="start" fill="#222" textLength="18.7" lengthAdjust="spacingAndGlyphs">8 um</text>
<line x1="193.10" y1="256.94" x2="202.80" y2="256.94" stroke="#ffd966" stroke-width="1.5"/>
<text x="203.30" y="259.94" font-size="8.5" font-weight="bold" text-anchor="start" fill="#222" textLength="23.2" lengthAdjust="spacingAndGlyphs">10 um</text>
<line x1="193.10" y1="268.02" x2="202.80" y2="268.02" stroke="#5b9bd5" stroke-width="1.5"/>
<text x="203.30" y="271.02" font-size="8.5" font-weight="bold" text-anchor="start" fill="#222" textLength="23.2" lengthAdjust="spacingAndGlyphs">12 um</text>
<line x1="193.10" y1="279.10" x2="202.80" y2="279.10" stroke="#70ad47" stroke-width="1.5"/>
<text x="203.30" y="282.10" font-size="8.5" font-weight="bold" text-anchor="start" fill="#222" textLength="23.2" lengthAdjust="spacingAndGlyphs">15 um</text>
<line x1="193.10" y1="290.18" x2="202.80" y2="290.18" stroke="#a9673a" stroke-width="1.5"/>
<text x="203.30" y="293.18" font-size="8.5" font-weight="bold" text-anchor="start" fill="#222" textLength="23.2" lengthAdjust="spacingAndGlyphs">20 um</text>
<line x1="193.10" y1="301.26" x2="202.80" y2="301.26" stroke="#2f5f9e" stroke-width="1.5"/>
<text x="203.30" y="304.26" font-size="8.5" font-weight="bold" text-anchor="start" fill="#222" textLength="23.2" lengthAdjust="spacingAndGlyphs">25 um</text>
<line x1="193.10" y1="312.34" x2="202.80" y2="312.34" stroke="#f4a46c" stroke-width="1.5"/>
<text x="203.30" y="315.34" font-size="8.5" font-weight="bold" text-anchor="start" fill="#222" textLength="23.2" lengthAdjust="spacingAndGlyphs">30 um</text>
<line x1="193.10" y1="323.42" x2="202.80" y2="323.42" stroke="#ffc000" stroke-width="1.5"/>
<text x="203.30" y="326.42" font-size="8.5" font-weight="bold" text-anchor="start" fill="#222" textLength="23.2" lengthAdjust="spacingAndGlyphs">35 um</text>
<line x1="193.10" y1="334.50" x2="202.80" y2="334.50" stroke="#7cb3e2" stroke-width="1.5"/>
<text x="203.30" y="337.50" font-size="8.5" font-weight="bold" text-anchor="start" fill="#222" textLength="23.2" lengthAdjust="spacingAndGlyphs">40 um</text>
<line x1="405.20" y1="242.30" x2="405.20" y2="363.00" stroke="#000" stroke-width="1.6"/>
<line x1="404.50" y1="362.30" x2="555.30" y2="362.30" stroke="#000" stroke-width="1.6"/>
<line x1="402.00" y1="362.30" x2="405.20" y2="362.30" stroke="#000" stroke-width="1.2"/>
<text x="397.60" y="365.40" font-size="8.8" font-weight="normal" text-anchor="end" fill="#000" stroke="#000" stroke-width="0.25">10</text>
<line x1="403.20" y1="350.38" x2="405.20" y2="350.38" stroke="#000" stroke-width="0.8"/>
<line x1="403.20" y1="343.41" x2="405.20" y2="343.41" stroke="#000" stroke-width="0.8"/>
<line x1="403.20" y1="338.46" x2="405.20" y2="338.46" stroke="#000" stroke-width="0.8"/>
<line x1="403.20" y1="334.62" x2="405.20" y2="334.62" stroke="#000" stroke-width="0.8"/>
<line x1="403.20" y1="331.49" x2="405.20" y2="331.49" stroke="#000" stroke-width="0.8"/>
<line x1="403.20" y1="328.83" x2="405.20" y2="328.83" stroke="#000" stroke-width="0.8"/>
<line x1="403.20" y1="326.54" x2="405.20" y2="326.54" stroke="#000" stroke-width="0.8"/>
<line x1="403.20" y1="324.51" x2="405.20" y2="324.51" stroke="#000" stroke-width="0.8"/>
<line x1="402.00" y1="322.70" x2="405.20" y2="322.70" stroke="#000" stroke-width="1.2"/>
<text x="397.60" y="325.80" font-size="8.8" font-weight="normal" text-anchor="end" fill="#000" stroke="#000" stroke-width="0.25">100</text>
<line x1="403.20" y1="310.78" x2="405.20" y2="310.78" stroke="#000" stroke-width="0.8"/>
<line x1="403.20" y1="303.81" x2="405.20" y2="303.81" stroke="#000" stroke-width="0.8"/>
<line x1="403.20" y1="298.86" x2="405.20" y2="298.86" stroke="#000" stroke-width="0.8"/>
<line x1="403.20" y1="295.02" x2="405.20" y2="295.02" stroke="#000" stroke-width="0.8"/>
<line x1="403.20" y1="291.89" x2="405.20" y2="291.89" stroke="#000" stroke-width="0.8"/>
<line x1="403.20" y1="289.23" x2="405.20" y2="289.23" stroke="#000" stroke-width="0.8"/>
<line x1="403.20" y1="286.94" x2="405.20" y2="286.94" stroke="#000" stroke-width="0.8"/>
<line x1="403.20" y1="284.91" x2="405.20" y2="284.91" stroke="#000" stroke-width="0.8"/>
<line x1="402.00" y1="283.10" x2="405.20" y2="283.10" stroke="#000" stroke-width="1.2"/>
<text x="397.60" y="286.20" font-size="8.8" font-weight="normal" text-anchor="end" fill="#000" stroke="#000" stroke-width="0.25">1000</text>
<line x1="403.20" y1="271.18" x2="405.20" y2="271.18" stroke="#000" stroke-width="0.8"/>
<line x1="403.20" y1="264.21" x2="405.20" y2="264.21" stroke="#000" stroke-width="0.8"/>
<line x1="403.20" y1="259.26" x2="405.20" y2="259.26" stroke="#000" stroke-width="0.8"/>
<line x1="403.20" y1="255.42" x2="405.20" y2="255.42" stroke="#000" stroke-width="0.8"/>
<line x1="403.20" y1="252.29" x2="405.20" y2="252.29" stroke="#000" stroke-width="0.8"/>
<line x1="403.20" y1="249.63" x2="405.20" y2="249.63" stroke="#000" stroke-width="0.8"/>
<line x1="403.20" y1="247.34" x2="405.20" y2="247.34" stroke="#000" stroke-width="0.8"/>
<line x1="403.20" y1="245.31" x2="405.20" y2="245.31" stroke="#000" stroke-width="0.8"/>
<line x1="402.00" y1="243.50" x2="405.20" y2="243.50" stroke="#000" stroke-width="1.2"/>
<text x="397.60" y="246.60" font-size="8.8" font-weight="normal" text-anchor="end" fill="#000" stroke="#000" stroke-width="0.25">10000</text>
<line x1="405.10" y1="362.30" x2="405.10" y2="365.00" stroke="#000" stroke-width="1.2"/>
<text x="405.10" y="377.30" font-size="8.8" font-weight="normal" text-anchor="middle" fill="#111" stroke="#111" stroke-width="0.25">0</text>
<line x1="435.00" y1="362.30" x2="435.00" y2="365.00" stroke="#000" stroke-width="1.2"/>
<text x="435.00" y="377.30" font-size="8.8" font-weight="normal" text-anchor="middle" fill="#111" stroke="#111" stroke-width="0.25" textLength="10.8" lengthAdjust="spacingAndGlyphs">10</text>
<line x1="464.90" y1="362.30" x2="464.90" y2="365.00" stroke="#000" stroke-width="1.2"/>
<text x="464.90" y="377.30" font-size="8.8" font-weight="normal" text-anchor="middle" fill="#111" stroke="#111" stroke-width="0.25" textLength="10.8" lengthAdjust="spacingAndGlyphs">20</text>
<line x1="494.80" y1="362.30" x2="494.80" y2="365.00" stroke="#000" stroke-width="1.2"/>
<text x="494.80" y="377.30" font-size="8.8" font-weight="normal" text-anchor="middle" fill="#111" stroke="#111" stroke-width="0.25" textLength="10.8" lengthAdjust="spacingAndGlyphs">30</text>
<line x1="524.70" y1="362.30" x2="524.70" y2="365.00" stroke="#000" stroke-width="1.2"/>
<text x="524.70" y="377.30" font-size="8.8" font-weight="normal" text-anchor="middle" fill="#111" stroke="#111" stroke-width="0.25" textLength="10.8" lengthAdjust="spacingAndGlyphs">40</text>
<line x1="554.60" y1="362.30" x2="554.60" y2="365.00" stroke="#000" stroke-width="1.2"/>
<text x="554.60" y="377.30" font-size="8.8" font-weight="normal" text-anchor="middle" fill="#111" stroke="#111" stroke-width="0.25" textLength="10.8" lengthAdjust="spacingAndGlyphs">50</text>
<text x="467.70" y="389.60" font-size="8.8" font-weight="normal" text-anchor="middle" fill="#111" stroke="#111" stroke-width="0.25" textLength="22" lengthAdjust="spacingAndGlyphs">(µm)</text>
<text x="376.20" y="307.00" font-size="8.8" font-weight="normal" text-anchor="middle" fill="#111" stroke="#111" stroke-width="0.25" textLength="93.6" lengthAdjust="spacingAndGlyphs" transform="rotate(-90 376.20 307.00)">Intensity ( arb-units)</text>
<text x="368.70" y="233.20" font-size="11.5" font-weight="bold" text-anchor="start" fill="#111" textLength="17" lengthAdjust="spacingAndGlyphs">(d)</text>
<text x="408.90" y="230.80" font-size="14.5" font-weight="normal" text-anchor="start" fill="#111" textLength="205.5" lengthAdjust="spacingAndGlyphs">Movement of the spectrometer</text>
<line x1="426.30" y1="241.00" x2="551.00" y2="241.00" stroke="#4472c4" stroke-width="2.9"/>
<polygon points="550.2,236.6 559.6,241 550.2,245.4" fill="#4472c4"/>
<circle cx="411.1" cy="323.4" r="3.3" fill="#4472c4"/>
<circle cx="417.2" cy="283.7" r="3.3" fill="#4472c4"/>
<circle cx="429" cy="289.8" r="3.3" fill="#4472c4"/>
<circle cx="435.1" cy="297.8" r="3.3" fill="#4472c4"/>
<circle cx="441.2" cy="296.2" r="3.3" fill="#4472c4"/>
<circle cx="450.1" cy="304.2" r="3.3" fill="#4472c4"/>
<circle cx="465.1" cy="320.2" r="3.3" fill="#4472c4"/>
<circle cx="480.2" cy="283.7" r="3.3" fill="#4472c4"/>
<circle cx="495.2" cy="312.8" r="3.3" fill="#4472c4"/>
<circle cx="510" cy="255.7" r="3.3" fill="#4472c4"/>
<circle cx="525" cy="252.7" r="3.3" fill="#4472c4"/>
</g></svg>
</body></html>
